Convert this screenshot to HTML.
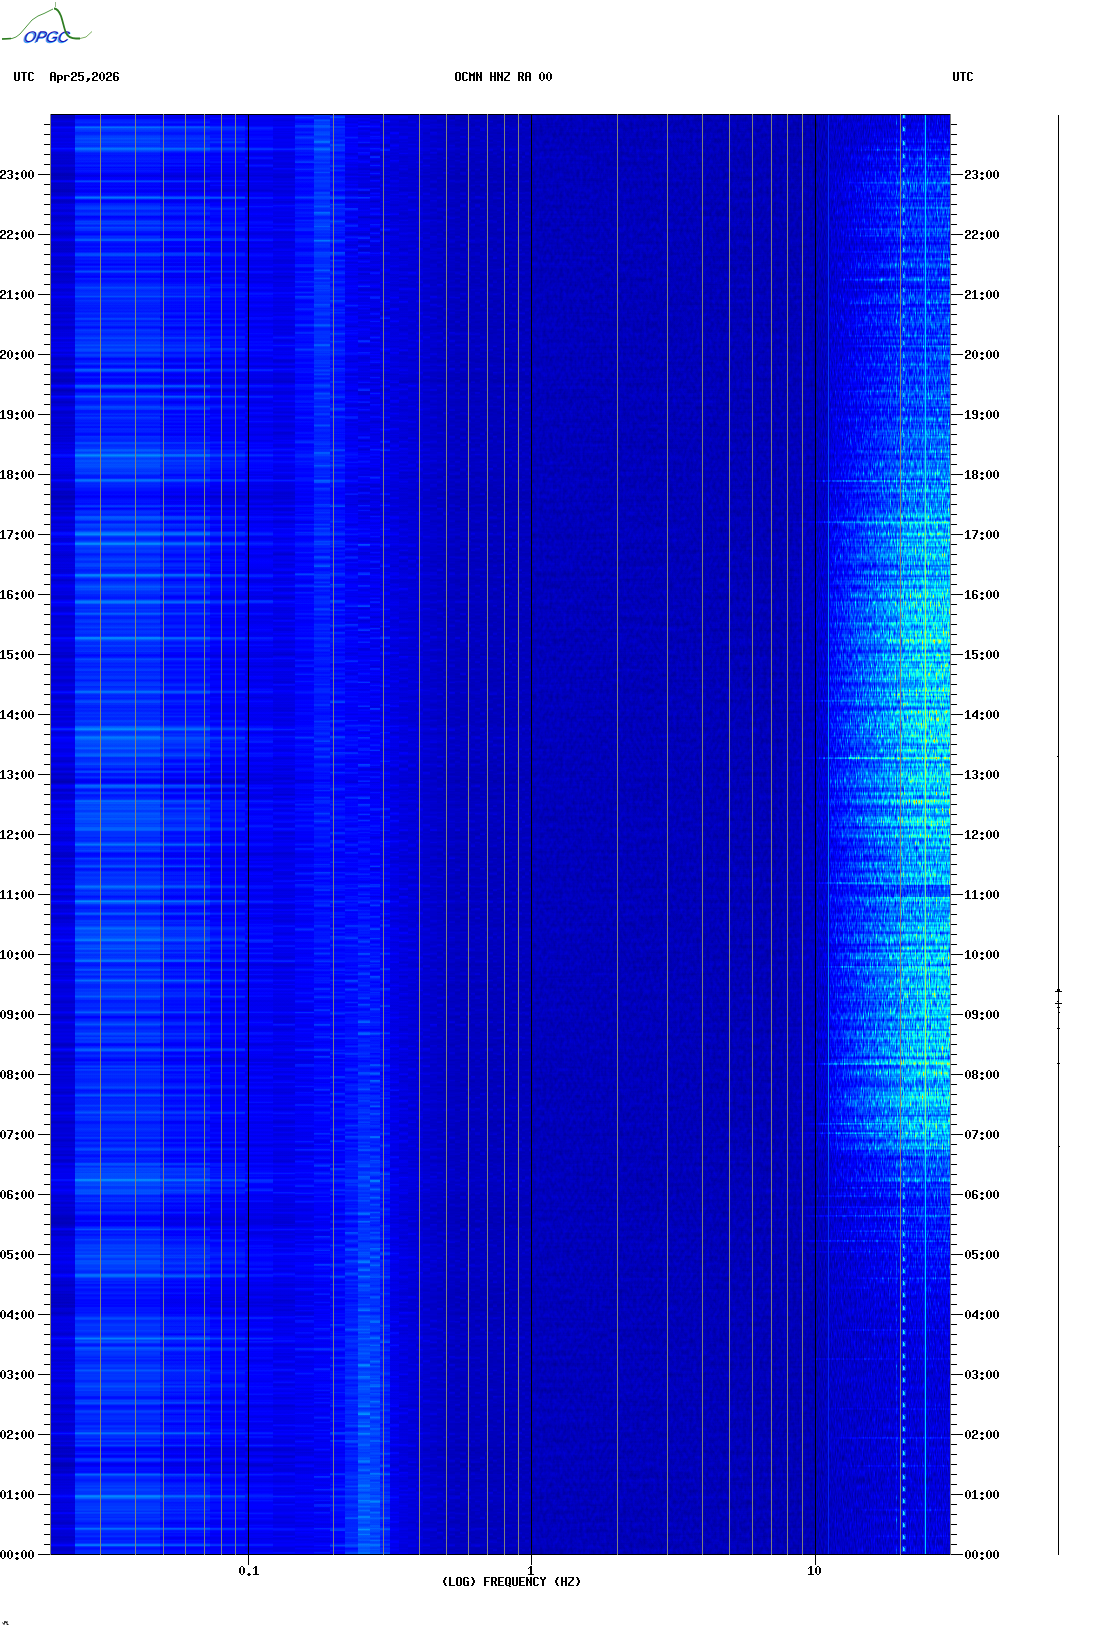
<!DOCTYPE html>
<html><head><meta charset="utf-8"><style>
html,body{margin:0;padding:0;background:#fff;width:1102px;height:1634px;overflow:hidden}
svg{position:absolute;left:0;top:0}
</style></head><body>
<svg width="1102" height="1634" viewBox="0 0 1102 1634" shape-rendering="crispEdges">
<defs><linearGradient id="gl0" x1="0" y1="0" x2="0" y2="1"><stop offset="0.0000" stop-color="#151515"/><stop offset="0.2083" stop-color="#161616"/><stop offset="0.3333" stop-color="#181818"/><stop offset="0.4583" stop-color="#181818"/><stop offset="0.5833" stop-color="#171717"/><stop offset="0.7500" stop-color="#171717"/><stop offset="1.0000" stop-color="#161616"/></linearGradient>
<filter id="fl0" filterUnits="userSpaceOnUse" x="51" y="115" width="24" height="1439" color-interpolation-filters="sRGB"><feTurbulence type="fractalNoise" baseFrequency="0 0.19" numOctaves="2" seed="1" result="ncr"/><feColorMatrix in="ncr" type="matrix" values="1 0 0 0 0 1 0 0 0 0 1 0 0 0 0 0 0 0 0 1" result="nc" /><feComponentTransfer in="nc" result="ncs"><feFuncR type="table" tableValues=".38 .40 .43 .46 .5 .57 .68 .82 1"/><feFuncG type="table" tableValues=".38 .40 .43 .46 .5 .57 .68 .82 1"/><feFuncB type="table" tableValues=".38 .40 .43 .46 .5 .57 .68 .82 1"/></feComponentTransfer><feTurbulence type="fractalNoise" baseFrequency="0 0.25" numOctaves="2" seed="20" result="nor"/><feColorMatrix in="nor" type="matrix" values="1 0 0 0 0 1 0 0 0 0 1 0 0 0 0 0 0 0 0 1" result="no" /><feComponentTransfer in="no" result="nos"><feFuncR type="table" tableValues=".38 .40 .43 .46 .5 .57 .68 .82 1"/><feFuncG type="table" tableValues=".38 .40 .43 .46 .5 .57 .68 .82 1"/><feFuncB type="table" tableValues=".38 .40 .43 .46 .5 .57 .68 .82 1"/></feComponentTransfer><feTurbulence type="fractalNoise" baseFrequency="0 0.025" numOctaves="1" seed="2" result="nlr"/><feColorMatrix in="nlr" type="matrix" values="1 0 0 0 0 1 0 0 0 0 1 0 0 0 0 0 0 0 0 1" result="nl"/><feComposite in="SourceGraphic" in2="ncs" operator="arithmetic" k1="0" k2="1" k3="0.25" k4="-0.1250" result="v1"/><feComposite in="v1" in2="nos" operator="arithmetic" k1="0" k2="1" k3="0.1" k4="-0.0500" result="v2"/><feComposite in="v2" in2="nl" operator="arithmetic" k1="0" k2="1" k3="0.0875" k4="-0.0437" result="v3"/><feComponentTransfer><feFuncR type="table" tableValues="0 0 0 0 .5 1 1 1 .5"/><feFuncG type="table" tableValues="0 0 .5 1 1 1 .5 0 0"/><feFuncB type="table" tableValues=".5 1 1 1 .5 0 0 0 0"/></feComponentTransfer></filter>
<linearGradient id="gl1" x1="0" y1="0" x2="0" y2="1"><stop offset="0.0000" stop-color="#262626"/><stop offset="0.1667" stop-color="#282828"/><stop offset="0.2917" stop-color="#2c2c2c"/><stop offset="0.5000" stop-color="#2d2d2d"/><stop offset="0.6250" stop-color="#2b2b2b"/><stop offset="0.7917" stop-color="#2a2a2a"/><stop offset="1.0000" stop-color="#2a2a2a"/></linearGradient>
<filter id="fl1" filterUnits="userSpaceOnUse" x="75" y="115" width="85" height="1439" color-interpolation-filters="sRGB"><feTurbulence type="fractalNoise" baseFrequency="0 0.19" numOctaves="2" seed="1" result="ncr"/><feColorMatrix in="ncr" type="matrix" values="1 0 0 0 0 1 0 0 0 0 1 0 0 0 0 0 0 0 0 1" result="nc" /><feComponentTransfer in="nc" result="ncs"><feFuncR type="table" tableValues=".38 .40 .43 .46 .5 .57 .68 .82 1"/><feFuncG type="table" tableValues=".38 .40 .43 .46 .5 .57 .68 .82 1"/><feFuncB type="table" tableValues=".38 .40 .43 .46 .5 .57 .68 .82 1"/></feComponentTransfer><feTurbulence type="fractalNoise" baseFrequency="0 0.25" numOctaves="2" seed="21" result="nor"/><feColorMatrix in="nor" type="matrix" values="1 0 0 0 0 1 0 0 0 0 1 0 0 0 0 0 0 0 0 1" result="no" /><feComponentTransfer in="no" result="nos"><feFuncR type="table" tableValues=".38 .40 .43 .46 .5 .57 .68 .82 1"/><feFuncG type="table" tableValues=".38 .40 .43 .46 .5 .57 .68 .82 1"/><feFuncB type="table" tableValues=".38 .40 .43 .46 .5 .57 .68 .82 1"/></feComponentTransfer><feTurbulence type="fractalNoise" baseFrequency="0 0.025" numOctaves="1" seed="2" result="nlr"/><feColorMatrix in="nlr" type="matrix" values="1 0 0 0 0 1 0 0 0 0 1 0 0 0 0 0 0 0 0 1" result="nl"/><feComposite in="SourceGraphic" in2="ncs" operator="arithmetic" k1="0" k2="1" k3="0.42" k4="-0.2100" result="v1"/><feComposite in="v1" in2="nos" operator="arithmetic" k1="0" k2="1" k3="0.1" k4="-0.0500" result="v2"/><feComposite in="v2" in2="nl" operator="arithmetic" k1="0" k2="1" k3="0.147" k4="-0.0735" result="v3"/><feComponentTransfer><feFuncR type="table" tableValues="0 0 0 0 .5 1 1 1 .5"/><feFuncG type="table" tableValues="0 0 .5 1 1 1 .5 0 0"/><feFuncB type="table" tableValues=".5 1 1 1 .5 0 0 0 0"/></feComponentTransfer></filter>
<linearGradient id="gl2" x1="0" y1="0" x2="0" y2="1"><stop offset="0.0000" stop-color="#222222"/><stop offset="0.1667" stop-color="#232323"/><stop offset="0.2917" stop-color="#262626"/><stop offset="0.5000" stop-color="#262626"/><stop offset="0.6250" stop-color="#252525"/><stop offset="1.0000" stop-color="#242424"/></linearGradient>
<filter id="fl2" filterUnits="userSpaceOnUse" x="160" y="115" width="50" height="1439" color-interpolation-filters="sRGB"><feTurbulence type="fractalNoise" baseFrequency="0 0.19" numOctaves="2" seed="1" result="ncr"/><feColorMatrix in="ncr" type="matrix" values="1 0 0 0 0 1 0 0 0 0 1 0 0 0 0 0 0 0 0 1" result="nc" /><feComponentTransfer in="nc" result="ncs"><feFuncR type="table" tableValues=".38 .40 .43 .46 .5 .57 .68 .82 1"/><feFuncG type="table" tableValues=".38 .40 .43 .46 .5 .57 .68 .82 1"/><feFuncB type="table" tableValues=".38 .40 .43 .46 .5 .57 .68 .82 1"/></feComponentTransfer><feTurbulence type="fractalNoise" baseFrequency="0 0.25" numOctaves="2" seed="22" result="nor"/><feColorMatrix in="nor" type="matrix" values="1 0 0 0 0 1 0 0 0 0 1 0 0 0 0 0 0 0 0 1" result="no" /><feComponentTransfer in="no" result="nos"><feFuncR type="table" tableValues=".38 .40 .43 .46 .5 .57 .68 .82 1"/><feFuncG type="table" tableValues=".38 .40 .43 .46 .5 .57 .68 .82 1"/><feFuncB type="table" tableValues=".38 .40 .43 .46 .5 .57 .68 .82 1"/></feComponentTransfer><feTurbulence type="fractalNoise" baseFrequency="0 0.025" numOctaves="1" seed="2" result="nlr"/><feColorMatrix in="nlr" type="matrix" values="1 0 0 0 0 1 0 0 0 0 1 0 0 0 0 0 0 0 0 1" result="nl"/><feComposite in="SourceGraphic" in2="ncs" operator="arithmetic" k1="0" k2="1" k3="0.4" k4="-0.2000" result="v1"/><feComposite in="v1" in2="nos" operator="arithmetic" k1="0" k2="1" k3="0.1" k4="-0.0500" result="v2"/><feComposite in="v2" in2="nl" operator="arithmetic" k1="0" k2="1" k3="0.13999999999999999" k4="-0.0700" result="v3"/><feComponentTransfer><feFuncR type="table" tableValues="0 0 0 0 .5 1 1 1 .5"/><feFuncG type="table" tableValues="0 0 .5 1 1 1 .5 0 0"/><feFuncB type="table" tableValues=".5 1 1 1 .5 0 0 0 0"/></feComponentTransfer></filter>
<linearGradient id="gl3" x1="0" y1="0" x2="0" y2="1"><stop offset="0.0000" stop-color="#202020"/><stop offset="1.0000" stop-color="#202020"/></linearGradient>
<filter id="fl3" filterUnits="userSpaceOnUse" x="210" y="115" width="35" height="1439" color-interpolation-filters="sRGB"><feTurbulence type="fractalNoise" baseFrequency="0 0.19" numOctaves="2" seed="1" result="ncr"/><feColorMatrix in="ncr" type="matrix" values="1 0 0 0 0 1 0 0 0 0 1 0 0 0 0 0 0 0 0 1" result="nc" /><feComponentTransfer in="nc" result="ncs"><feFuncR type="table" tableValues=".38 .40 .43 .46 .5 .57 .68 .82 1"/><feFuncG type="table" tableValues=".38 .40 .43 .46 .5 .57 .68 .82 1"/><feFuncB type="table" tableValues=".38 .40 .43 .46 .5 .57 .68 .82 1"/></feComponentTransfer><feTurbulence type="fractalNoise" baseFrequency="0 0.25" numOctaves="2" seed="23" result="nor"/><feColorMatrix in="nor" type="matrix" values="1 0 0 0 0 1 0 0 0 0 1 0 0 0 0 0 0 0 0 1" result="no" /><feComponentTransfer in="no" result="nos"><feFuncR type="table" tableValues=".38 .40 .43 .46 .5 .57 .68 .82 1"/><feFuncG type="table" tableValues=".38 .40 .43 .46 .5 .57 .68 .82 1"/><feFuncB type="table" tableValues=".38 .40 .43 .46 .5 .57 .68 .82 1"/></feComponentTransfer><feTurbulence type="fractalNoise" baseFrequency="0 0.025" numOctaves="1" seed="2" result="nlr"/><feColorMatrix in="nlr" type="matrix" values="1 0 0 0 0 1 0 0 0 0 1 0 0 0 0 0 0 0 0 1" result="nl"/><feComposite in="SourceGraphic" in2="ncs" operator="arithmetic" k1="0" k2="1" k3="0.3" k4="-0.1500" result="v1"/><feComposite in="v1" in2="nos" operator="arithmetic" k1="0" k2="1" k3="0.12" k4="-0.0600" result="v2"/><feComposite in="v2" in2="nl" operator="arithmetic" k1="0" k2="1" k3="0.105" k4="-0.0525" result="v3"/><feComponentTransfer><feFuncR type="table" tableValues="0 0 0 0 .5 1 1 1 .5"/><feFuncG type="table" tableValues="0 0 .5 1 1 1 .5 0 0"/><feFuncB type="table" tableValues=".5 1 1 1 .5 0 0 0 0"/></feComponentTransfer></filter>
<linearGradient id="gl4" x1="0" y1="0" x2="0" y2="1"><stop offset="0.0000" stop-color="#1d1d1d"/><stop offset="1.0000" stop-color="#1e1e1e"/></linearGradient>
<filter id="fl4" filterUnits="userSpaceOnUse" x="245" y="115" width="28" height="1439" color-interpolation-filters="sRGB"><feTurbulence type="fractalNoise" baseFrequency="0 0.19" numOctaves="2" seed="1" result="ncr"/><feColorMatrix in="ncr" type="matrix" values="1 0 0 0 0 1 0 0 0 0 1 0 0 0 0 0 0 0 0 1" result="nc" /><feComponentTransfer in="nc" result="ncs"><feFuncR type="table" tableValues=".38 .40 .43 .46 .5 .57 .68 .82 1"/><feFuncG type="table" tableValues=".38 .40 .43 .46 .5 .57 .68 .82 1"/><feFuncB type="table" tableValues=".38 .40 .43 .46 .5 .57 .68 .82 1"/></feComponentTransfer><feTurbulence type="fractalNoise" baseFrequency="0 0.25" numOctaves="2" seed="24" result="nor"/><feColorMatrix in="nor" type="matrix" values="1 0 0 0 0 1 0 0 0 0 1 0 0 0 0 0 0 0 0 1" result="no" /><feComponentTransfer in="no" result="nos"><feFuncR type="table" tableValues=".38 .40 .43 .46 .5 .57 .68 .82 1"/><feFuncG type="table" tableValues=".38 .40 .43 .46 .5 .57 .68 .82 1"/><feFuncB type="table" tableValues=".38 .40 .43 .46 .5 .57 .68 .82 1"/></feComponentTransfer><feTurbulence type="fractalNoise" baseFrequency="0 0.025" numOctaves="1" seed="2" result="nlr"/><feColorMatrix in="nlr" type="matrix" values="1 0 0 0 0 1 0 0 0 0 1 0 0 0 0 0 0 0 0 1" result="nl"/><feComposite in="SourceGraphic" in2="ncs" operator="arithmetic" k1="0" k2="1" k3="0.22" k4="-0.1100" result="v1"/><feComposite in="v1" in2="nos" operator="arithmetic" k1="0" k2="1" k3="0.15" k4="-0.0750" result="v2"/><feComposite in="v2" in2="nl" operator="arithmetic" k1="0" k2="1" k3="0.077" k4="-0.0385" result="v3"/><feComponentTransfer><feFuncR type="table" tableValues="0 0 0 0 .5 1 1 1 .5"/><feFuncG type="table" tableValues="0 0 .5 1 1 1 .5 0 0"/><feFuncB type="table" tableValues=".5 1 1 1 .5 0 0 0 0"/></feComponentTransfer></filter>
<linearGradient id="gl5" x1="0" y1="0" x2="0" y2="1"><stop offset="0.0000" stop-color="#1a1a1a"/><stop offset="1.0000" stop-color="#1b1b1b"/></linearGradient>
<filter id="fl5" filterUnits="userSpaceOnUse" x="273" y="115" width="22" height="1439" color-interpolation-filters="sRGB"><feTurbulence type="fractalNoise" baseFrequency="0 0.19" numOctaves="2" seed="1" result="ncr"/><feColorMatrix in="ncr" type="matrix" values="1 0 0 0 0 1 0 0 0 0 1 0 0 0 0 0 0 0 0 1" result="nc" /><feComponentTransfer in="nc" result="ncs"><feFuncR type="table" tableValues=".38 .40 .43 .46 .5 .57 .68 .82 1"/><feFuncG type="table" tableValues=".38 .40 .43 .46 .5 .57 .68 .82 1"/><feFuncB type="table" tableValues=".38 .40 .43 .46 .5 .57 .68 .82 1"/></feComponentTransfer><feTurbulence type="fractalNoise" baseFrequency="0 0.25" numOctaves="2" seed="25" result="nor"/><feColorMatrix in="nor" type="matrix" values="1 0 0 0 0 1 0 0 0 0 1 0 0 0 0 0 0 0 0 1" result="no" /><feComponentTransfer in="no" result="nos"><feFuncR type="table" tableValues=".38 .40 .43 .46 .5 .57 .68 .82 1"/><feFuncG type="table" tableValues=".38 .40 .43 .46 .5 .57 .68 .82 1"/><feFuncB type="table" tableValues=".38 .40 .43 .46 .5 .57 .68 .82 1"/></feComponentTransfer><feTurbulence type="fractalNoise" baseFrequency="0 0.025" numOctaves="1" seed="2" result="nlr"/><feColorMatrix in="nlr" type="matrix" values="1 0 0 0 0 1 0 0 0 0 1 0 0 0 0 0 0 0 0 1" result="nl"/><feComposite in="SourceGraphic" in2="ncs" operator="arithmetic" k1="0" k2="1" k3="0.15" k4="-0.0750" result="v1"/><feComposite in="v1" in2="nos" operator="arithmetic" k1="0" k2="1" k3="0.18" k4="-0.0900" result="v2"/><feComposite in="v2" in2="nl" operator="arithmetic" k1="0" k2="1" k3="0.0525" k4="-0.0262" result="v3"/><feComponentTransfer><feFuncR type="table" tableValues="0 0 0 0 .5 1 1 1 .5"/><feFuncG type="table" tableValues="0 0 .5 1 1 1 .5 0 0"/><feFuncB type="table" tableValues=".5 1 1 1 .5 0 0 0 0"/></feComponentTransfer></filter>
<linearGradient id="gl6" x1="0" y1="0" x2="0" y2="1"><stop offset="0.0000" stop-color="#242424"/><stop offset="0.2500" stop-color="#212121"/><stop offset="0.5000" stop-color="#1f1f1f"/><stop offset="0.7500" stop-color="#1d1d1d"/><stop offset="1.0000" stop-color="#1c1c1c"/></linearGradient>
<filter id="fl6" filterUnits="userSpaceOnUse" x="295" y="115" width="19" height="1439" color-interpolation-filters="sRGB"><feTurbulence type="fractalNoise" baseFrequency="0 0.19" numOctaves="2" seed="1" result="ncr"/><feColorMatrix in="ncr" type="matrix" values="1 0 0 0 0 1 0 0 0 0 1 0 0 0 0 0 0 0 0 1" result="nc" /><feComponentTransfer in="nc" result="ncs"><feFuncR type="table" tableValues=".38 .40 .43 .46 .5 .57 .68 .82 1"/><feFuncG type="table" tableValues=".38 .40 .43 .46 .5 .57 .68 .82 1"/><feFuncB type="table" tableValues=".38 .40 .43 .46 .5 .57 .68 .82 1"/></feComponentTransfer><feTurbulence type="fractalNoise" baseFrequency="0 0.25" numOctaves="2" seed="26" result="nor"/><feColorMatrix in="nor" type="matrix" values="1 0 0 0 0 1 0 0 0 0 1 0 0 0 0 0 0 0 0 1" result="no" /><feComponentTransfer in="no" result="nos"><feFuncR type="table" tableValues=".38 .40 .43 .46 .5 .57 .68 .82 1"/><feFuncG type="table" tableValues=".38 .40 .43 .46 .5 .57 .68 .82 1"/><feFuncB type="table" tableValues=".38 .40 .43 .46 .5 .57 .68 .82 1"/></feComponentTransfer><feTurbulence type="fractalNoise" baseFrequency="0 0.025" numOctaves="1" seed="2" result="nlr"/><feColorMatrix in="nlr" type="matrix" values="1 0 0 0 0 1 0 0 0 0 1 0 0 0 0 0 0 0 0 1" result="nl"/><feComposite in="SourceGraphic" in2="ncs" operator="arithmetic" k1="0" k2="1" k3="0.12" k4="-0.0600" result="v1"/><feComposite in="v1" in2="nos" operator="arithmetic" k1="0" k2="1" k3="0.22" k4="-0.1100" result="v2"/><feComposite in="v2" in2="nl" operator="arithmetic" k1="0" k2="1" k3="0.041999999999999996" k4="-0.0210" result="v3"/><feComponentTransfer><feFuncR type="table" tableValues="0 0 0 0 .5 1 1 1 .5"/><feFuncG type="table" tableValues="0 0 .5 1 1 1 .5 0 0"/><feFuncB type="table" tableValues=".5 1 1 1 .5 0 0 0 0"/></feComponentTransfer></filter>
<linearGradient id="gl7" x1="0" y1="0" x2="0" y2="1"><stop offset="0.0000" stop-color="#2e2e2e"/><stop offset="0.2500" stop-color="#292929"/><stop offset="0.5000" stop-color="#242424"/><stop offset="0.7500" stop-color="#202020"/><stop offset="1.0000" stop-color="#1d1d1d"/></linearGradient>
<filter id="fl7" filterUnits="userSpaceOnUse" x="314" y="115" width="16" height="1439" color-interpolation-filters="sRGB"><feTurbulence type="fractalNoise" baseFrequency="0 0.19" numOctaves="2" seed="1" result="ncr"/><feColorMatrix in="ncr" type="matrix" values="1 0 0 0 0 1 0 0 0 0 1 0 0 0 0 0 0 0 0 1" result="nc" /><feComponentTransfer in="nc" result="ncs"><feFuncR type="table" tableValues=".38 .40 .43 .46 .5 .57 .68 .82 1"/><feFuncG type="table" tableValues=".38 .40 .43 .46 .5 .57 .68 .82 1"/><feFuncB type="table" tableValues=".38 .40 .43 .46 .5 .57 .68 .82 1"/></feComponentTransfer><feTurbulence type="fractalNoise" baseFrequency="0 0.25" numOctaves="2" seed="27" result="nor"/><feColorMatrix in="nor" type="matrix" values="1 0 0 0 0 1 0 0 0 0 1 0 0 0 0 0 0 0 0 1" result="no" /><feComponentTransfer in="no" result="nos"><feFuncR type="table" tableValues=".38 .40 .43 .46 .5 .57 .68 .82 1"/><feFuncG type="table" tableValues=".38 .40 .43 .46 .5 .57 .68 .82 1"/><feFuncB type="table" tableValues=".38 .40 .43 .46 .5 .57 .68 .82 1"/></feComponentTransfer><feTurbulence type="fractalNoise" baseFrequency="0 0.025" numOctaves="1" seed="2" result="nlr"/><feColorMatrix in="nlr" type="matrix" values="1 0 0 0 0 1 0 0 0 0 1 0 0 0 0 0 0 0 0 1" result="nl"/><feComposite in="SourceGraphic" in2="ncs" operator="arithmetic" k1="0" k2="1" k3="0.12" k4="-0.0600" result="v1"/><feComposite in="v1" in2="nos" operator="arithmetic" k1="0" k2="1" k3="0.25" k4="-0.1250" result="v2"/><feComposite in="v2" in2="nl" operator="arithmetic" k1="0" k2="1" k3="0.041999999999999996" k4="-0.0210" result="v3"/><feComponentTransfer><feFuncR type="table" tableValues="0 0 0 0 .5 1 1 1 .5"/><feFuncG type="table" tableValues="0 0 .5 1 1 1 .5 0 0"/><feFuncB type="table" tableValues=".5 1 1 1 .5 0 0 0 0"/></feComponentTransfer></filter>
<linearGradient id="gl8" x1="0" y1="0" x2="0" y2="1"><stop offset="0.0000" stop-color="#262626"/><stop offset="0.2500" stop-color="#242424"/><stop offset="0.5000" stop-color="#212121"/><stop offset="0.7500" stop-color="#212121"/><stop offset="1.0000" stop-color="#212121"/></linearGradient>
<filter id="fl8" filterUnits="userSpaceOnUse" x="330" y="115" width="15" height="1439" color-interpolation-filters="sRGB"><feTurbulence type="fractalNoise" baseFrequency="0 0.19" numOctaves="2" seed="1" result="ncr"/><feColorMatrix in="ncr" type="matrix" values="1 0 0 0 0 1 0 0 0 0 1 0 0 0 0 0 0 0 0 1" result="nc" /><feComponentTransfer in="nc" result="ncs"><feFuncR type="table" tableValues=".38 .40 .43 .46 .5 .57 .68 .82 1"/><feFuncG type="table" tableValues=".38 .40 .43 .46 .5 .57 .68 .82 1"/><feFuncB type="table" tableValues=".38 .40 .43 .46 .5 .57 .68 .82 1"/></feComponentTransfer><feTurbulence type="fractalNoise" baseFrequency="0 0.25" numOctaves="2" seed="28" result="nor"/><feColorMatrix in="nor" type="matrix" values="1 0 0 0 0 1 0 0 0 0 1 0 0 0 0 0 0 0 0 1" result="no" /><feComponentTransfer in="no" result="nos"><feFuncR type="table" tableValues=".38 .40 .43 .46 .5 .57 .68 .82 1"/><feFuncG type="table" tableValues=".38 .40 .43 .46 .5 .57 .68 .82 1"/><feFuncB type="table" tableValues=".38 .40 .43 .46 .5 .57 .68 .82 1"/></feComponentTransfer><feTurbulence type="fractalNoise" baseFrequency="0 0.025" numOctaves="1" seed="2" result="nlr"/><feColorMatrix in="nlr" type="matrix" values="1 0 0 0 0 1 0 0 0 0 1 0 0 0 0 0 0 0 0 1" result="nl"/><feComposite in="SourceGraphic" in2="ncs" operator="arithmetic" k1="0" k2="1" k3="0.12" k4="-0.0600" result="v1"/><feComposite in="v1" in2="nos" operator="arithmetic" k1="0" k2="1" k3="0.25" k4="-0.1250" result="v2"/><feComposite in="v2" in2="nl" operator="arithmetic" k1="0" k2="1" k3="0.041999999999999996" k4="-0.0210" result="v3"/><feComponentTransfer><feFuncR type="table" tableValues="0 0 0 0 .5 1 1 1 .5"/><feFuncG type="table" tableValues="0 0 .5 1 1 1 .5 0 0"/><feFuncB type="table" tableValues=".5 1 1 1 .5 0 0 0 0"/></feComponentTransfer></filter>
<linearGradient id="gl9" x1="0" y1="0" x2="0" y2="1"><stop offset="0.0000" stop-color="#1c1c1c"/><stop offset="0.2500" stop-color="#1d1d1d"/><stop offset="0.5000" stop-color="#202020"/><stop offset="0.7500" stop-color="#262626"/><stop offset="1.0000" stop-color="#2a2a2a"/></linearGradient>
<filter id="fl9" filterUnits="userSpaceOnUse" x="345" y="115" width="13" height="1439" color-interpolation-filters="sRGB"><feTurbulence type="fractalNoise" baseFrequency="0 0.19" numOctaves="2" seed="1" result="ncr"/><feColorMatrix in="ncr" type="matrix" values="1 0 0 0 0 1 0 0 0 0 1 0 0 0 0 0 0 0 0 1" result="nc" /><feComponentTransfer in="nc" result="ncs"><feFuncR type="table" tableValues=".38 .40 .43 .46 .5 .57 .68 .82 1"/><feFuncG type="table" tableValues=".38 .40 .43 .46 .5 .57 .68 .82 1"/><feFuncB type="table" tableValues=".38 .40 .43 .46 .5 .57 .68 .82 1"/></feComponentTransfer><feTurbulence type="fractalNoise" baseFrequency="0 0.25" numOctaves="2" seed="29" result="nor"/><feColorMatrix in="nor" type="matrix" values="1 0 0 0 0 1 0 0 0 0 1 0 0 0 0 0 0 0 0 1" result="no" /><feComponentTransfer in="no" result="nos"><feFuncR type="table" tableValues=".38 .40 .43 .46 .5 .57 .68 .82 1"/><feFuncG type="table" tableValues=".38 .40 .43 .46 .5 .57 .68 .82 1"/><feFuncB type="table" tableValues=".38 .40 .43 .46 .5 .57 .68 .82 1"/></feComponentTransfer><feTurbulence type="fractalNoise" baseFrequency="0 0.025" numOctaves="1" seed="2" result="nlr"/><feColorMatrix in="nlr" type="matrix" values="1 0 0 0 0 1 0 0 0 0 1 0 0 0 0 0 0 0 0 1" result="nl"/><feComposite in="SourceGraphic" in2="ncs" operator="arithmetic" k1="0" k2="1" k3="0.1" k4="-0.0500" result="v1"/><feComposite in="v1" in2="nos" operator="arithmetic" k1="0" k2="1" k3="0.3" k4="-0.1500" result="v2"/><feComposite in="v2" in2="nl" operator="arithmetic" k1="0" k2="1" k3="0.034999999999999996" k4="-0.0175" result="v3"/><feComponentTransfer><feFuncR type="table" tableValues="0 0 0 0 .5 1 1 1 .5"/><feFuncG type="table" tableValues="0 0 .5 1 1 1 .5 0 0"/><feFuncB type="table" tableValues=".5 1 1 1 .5 0 0 0 0"/></feComponentTransfer></filter>
<linearGradient id="gl10" x1="0" y1="0" x2="0" y2="1"><stop offset="0.0000" stop-color="#1a1a1a"/><stop offset="0.2500" stop-color="#1b1b1b"/><stop offset="0.5000" stop-color="#212121"/><stop offset="0.7500" stop-color="#2d2d2d"/><stop offset="1.0000" stop-color="#363636"/></linearGradient>
<filter id="fl10" filterUnits="userSpaceOnUse" x="358" y="115" width="12" height="1439" color-interpolation-filters="sRGB"><feTurbulence type="fractalNoise" baseFrequency="0 0.19" numOctaves="2" seed="1" result="ncr"/><feColorMatrix in="ncr" type="matrix" values="1 0 0 0 0 1 0 0 0 0 1 0 0 0 0 0 0 0 0 1" result="nc" /><feComponentTransfer in="nc" result="ncs"><feFuncR type="table" tableValues=".38 .40 .43 .46 .5 .57 .68 .82 1"/><feFuncG type="table" tableValues=".38 .40 .43 .46 .5 .57 .68 .82 1"/><feFuncB type="table" tableValues=".38 .40 .43 .46 .5 .57 .68 .82 1"/></feComponentTransfer><feTurbulence type="fractalNoise" baseFrequency="0 0.25" numOctaves="2" seed="30" result="nor"/><feColorMatrix in="nor" type="matrix" values="1 0 0 0 0 1 0 0 0 0 1 0 0 0 0 0 0 0 0 1" result="no" /><feComponentTransfer in="no" result="nos"><feFuncR type="table" tableValues=".38 .40 .43 .46 .5 .57 .68 .82 1"/><feFuncG type="table" tableValues=".38 .40 .43 .46 .5 .57 .68 .82 1"/><feFuncB type="table" tableValues=".38 .40 .43 .46 .5 .57 .68 .82 1"/></feComponentTransfer><feTurbulence type="fractalNoise" baseFrequency="0 0.025" numOctaves="1" seed="2" result="nlr"/><feColorMatrix in="nlr" type="matrix" values="1 0 0 0 0 1 0 0 0 0 1 0 0 0 0 0 0 0 0 1" result="nl"/><feComposite in="SourceGraphic" in2="ncs" operator="arithmetic" k1="0" k2="1" k3="0.1" k4="-0.0500" result="v1"/><feComposite in="v1" in2="nos" operator="arithmetic" k1="0" k2="1" k3="0.36" k4="-0.1800" result="v2"/><feComposite in="v2" in2="nl" operator="arithmetic" k1="0" k2="1" k3="0.034999999999999996" k4="-0.0175" result="v3"/><feComponentTransfer><feFuncR type="table" tableValues="0 0 0 0 .5 1 1 1 .5"/><feFuncG type="table" tableValues="0 0 .5 1 1 1 .5 0 0"/><feFuncB type="table" tableValues=".5 1 1 1 .5 0 0 0 0"/></feComponentTransfer></filter>
<linearGradient id="gl11" x1="0" y1="0" x2="0" y2="1"><stop offset="0.0000" stop-color="#1a1a1a"/><stop offset="0.2500" stop-color="#1b1b1b"/><stop offset="0.5000" stop-color="#1f1f1f"/><stop offset="0.7500" stop-color="#2c2c2c"/><stop offset="1.0000" stop-color="#333333"/></linearGradient>
<filter id="fl11" filterUnits="userSpaceOnUse" x="370" y="115" width="10" height="1439" color-interpolation-filters="sRGB"><feTurbulence type="fractalNoise" baseFrequency="0 0.19" numOctaves="2" seed="1" result="ncr"/><feColorMatrix in="ncr" type="matrix" values="1 0 0 0 0 1 0 0 0 0 1 0 0 0 0 0 0 0 0 1" result="nc" /><feComponentTransfer in="nc" result="ncs"><feFuncR type="table" tableValues=".38 .40 .43 .46 .5 .57 .68 .82 1"/><feFuncG type="table" tableValues=".38 .40 .43 .46 .5 .57 .68 .82 1"/><feFuncB type="table" tableValues=".38 .40 .43 .46 .5 .57 .68 .82 1"/></feComponentTransfer><feTurbulence type="fractalNoise" baseFrequency="0 0.25" numOctaves="2" seed="31" result="nor"/><feColorMatrix in="nor" type="matrix" values="1 0 0 0 0 1 0 0 0 0 1 0 0 0 0 0 0 0 0 1" result="no" /><feComponentTransfer in="no" result="nos"><feFuncR type="table" tableValues=".38 .40 .43 .46 .5 .57 .68 .82 1"/><feFuncG type="table" tableValues=".38 .40 .43 .46 .5 .57 .68 .82 1"/><feFuncB type="table" tableValues=".38 .40 .43 .46 .5 .57 .68 .82 1"/></feComponentTransfer><feTurbulence type="fractalNoise" baseFrequency="0 0.025" numOctaves="1" seed="2" result="nlr"/><feColorMatrix in="nlr" type="matrix" values="1 0 0 0 0 1 0 0 0 0 1 0 0 0 0 0 0 0 0 1" result="nl"/><feComposite in="SourceGraphic" in2="ncs" operator="arithmetic" k1="0" k2="1" k3="0.1" k4="-0.0500" result="v1"/><feComposite in="v1" in2="nos" operator="arithmetic" k1="0" k2="1" k3="0.36" k4="-0.1800" result="v2"/><feComposite in="v2" in2="nl" operator="arithmetic" k1="0" k2="1" k3="0.034999999999999996" k4="-0.0175" result="v3"/><feComponentTransfer><feFuncR type="table" tableValues="0 0 0 0 .5 1 1 1 .5"/><feFuncG type="table" tableValues="0 0 .5 1 1 1 .5 0 0"/><feFuncB type="table" tableValues=".5 1 1 1 .5 0 0 0 0"/></feComponentTransfer></filter>
<linearGradient id="gl12" x1="0" y1="0" x2="0" y2="1"><stop offset="0.0000" stop-color="#181818"/><stop offset="0.2500" stop-color="#1a1a1a"/><stop offset="0.5000" stop-color="#1d1d1d"/><stop offset="0.7500" stop-color="#242424"/><stop offset="1.0000" stop-color="#292929"/></linearGradient>
<filter id="fl12" filterUnits="userSpaceOnUse" x="380" y="115" width="10" height="1439" color-interpolation-filters="sRGB"><feTurbulence type="fractalNoise" baseFrequency="0 0.19" numOctaves="2" seed="1" result="ncr"/><feColorMatrix in="ncr" type="matrix" values="1 0 0 0 0 1 0 0 0 0 1 0 0 0 0 0 0 0 0 1" result="nc" /><feComponentTransfer in="nc" result="ncs"><feFuncR type="table" tableValues=".38 .40 .43 .46 .5 .57 .68 .82 1"/><feFuncG type="table" tableValues=".38 .40 .43 .46 .5 .57 .68 .82 1"/><feFuncB type="table" tableValues=".38 .40 .43 .46 .5 .57 .68 .82 1"/></feComponentTransfer><feTurbulence type="fractalNoise" baseFrequency="0 0.25" numOctaves="2" seed="32" result="nor"/><feColorMatrix in="nor" type="matrix" values="1 0 0 0 0 1 0 0 0 0 1 0 0 0 0 0 0 0 0 1" result="no" /><feComponentTransfer in="no" result="nos"><feFuncR type="table" tableValues=".38 .40 .43 .46 .5 .57 .68 .82 1"/><feFuncG type="table" tableValues=".38 .40 .43 .46 .5 .57 .68 .82 1"/><feFuncB type="table" tableValues=".38 .40 .43 .46 .5 .57 .68 .82 1"/></feComponentTransfer><feTurbulence type="fractalNoise" baseFrequency="0 0.025" numOctaves="1" seed="2" result="nlr"/><feColorMatrix in="nlr" type="matrix" values="1 0 0 0 0 1 0 0 0 0 1 0 0 0 0 0 0 0 0 1" result="nl"/><feComposite in="SourceGraphic" in2="ncs" operator="arithmetic" k1="0" k2="1" k3="0.08" k4="-0.0400" result="v1"/><feComposite in="v1" in2="nos" operator="arithmetic" k1="0" k2="1" k3="0.28" k4="-0.1400" result="v2"/><feComposite in="v2" in2="nl" operator="arithmetic" k1="0" k2="1" k3="0.027999999999999997" k4="-0.0140" result="v3"/><feComponentTransfer><feFuncR type="table" tableValues="0 0 0 0 .5 1 1 1 .5"/><feFuncG type="table" tableValues="0 0 .5 1 1 1 .5 0 0"/><feFuncB type="table" tableValues=".5 1 1 1 .5 0 0 0 0"/></feComponentTransfer></filter>
<linearGradient id="gl13" x1="0" y1="0" x2="0" y2="1"><stop offset="0.0000" stop-color="#171717"/><stop offset="1.0000" stop-color="#1b1b1b"/></linearGradient>
<filter id="fl13" filterUnits="userSpaceOnUse" x="390" y="115" width="9" height="1439" color-interpolation-filters="sRGB"><feTurbulence type="fractalNoise" baseFrequency="0 0.19" numOctaves="2" seed="1" result="ncr"/><feColorMatrix in="ncr" type="matrix" values="1 0 0 0 0 1 0 0 0 0 1 0 0 0 0 0 0 0 0 1" result="nc" /><feComponentTransfer in="nc" result="ncs"><feFuncR type="table" tableValues=".38 .40 .43 .46 .5 .57 .68 .82 1"/><feFuncG type="table" tableValues=".38 .40 .43 .46 .5 .57 .68 .82 1"/><feFuncB type="table" tableValues=".38 .40 .43 .46 .5 .57 .68 .82 1"/></feComponentTransfer><feTurbulence type="fractalNoise" baseFrequency="0 0.25" numOctaves="2" seed="33" result="nor"/><feColorMatrix in="nor" type="matrix" values="1 0 0 0 0 1 0 0 0 0 1 0 0 0 0 0 0 0 0 1" result="no" /><feComponentTransfer in="no" result="nos"><feFuncR type="table" tableValues=".38 .40 .43 .46 .5 .57 .68 .82 1"/><feFuncG type="table" tableValues=".38 .40 .43 .46 .5 .57 .68 .82 1"/><feFuncB type="table" tableValues=".38 .40 .43 .46 .5 .57 .68 .82 1"/></feComponentTransfer><feTurbulence type="fractalNoise" baseFrequency="0 0.025" numOctaves="1" seed="2" result="nlr"/><feColorMatrix in="nlr" type="matrix" values="1 0 0 0 0 1 0 0 0 0 1 0 0 0 0 0 0 0 0 1" result="nl"/><feComposite in="SourceGraphic" in2="ncs" operator="arithmetic" k1="0" k2="1" k3="0.06" k4="-0.0300" result="v1"/><feComposite in="v1" in2="nos" operator="arithmetic" k1="0" k2="1" k3="0.2" k4="-0.1000" result="v2"/><feComposite in="v2" in2="nl" operator="arithmetic" k1="0" k2="1" k3="0.020999999999999998" k4="-0.0105" result="v3"/><feComponentTransfer><feFuncR type="table" tableValues="0 0 0 0 .5 1 1 1 .5"/><feFuncG type="table" tableValues="0 0 .5 1 1 1 .5 0 0"/><feFuncB type="table" tableValues=".5 1 1 1 .5 0 0 0 0"/></feComponentTransfer></filter>
<linearGradient id="gl14" x1="0" y1="0" x2="0" y2="1"><stop offset="0.0000" stop-color="#161616"/><stop offset="1.0000" stop-color="#181818"/></linearGradient>
<filter id="fl14" filterUnits="userSpaceOnUse" x="399" y="115" width="9" height="1439" color-interpolation-filters="sRGB"><feTurbulence type="fractalNoise" baseFrequency="0 0.19" numOctaves="2" seed="1" result="ncr"/><feColorMatrix in="ncr" type="matrix" values="1 0 0 0 0 1 0 0 0 0 1 0 0 0 0 0 0 0 0 1" result="nc" /><feComponentTransfer in="nc" result="ncs"><feFuncR type="table" tableValues=".38 .40 .43 .46 .5 .57 .68 .82 1"/><feFuncG type="table" tableValues=".38 .40 .43 .46 .5 .57 .68 .82 1"/><feFuncB type="table" tableValues=".38 .40 .43 .46 .5 .57 .68 .82 1"/></feComponentTransfer><feTurbulence type="fractalNoise" baseFrequency="0 0.25" numOctaves="2" seed="34" result="nor"/><feColorMatrix in="nor" type="matrix" values="1 0 0 0 0 1 0 0 0 0 1 0 0 0 0 0 0 0 0 1" result="no" /><feComponentTransfer in="no" result="nos"><feFuncR type="table" tableValues=".38 .40 .43 .46 .5 .57 .68 .82 1"/><feFuncG type="table" tableValues=".38 .40 .43 .46 .5 .57 .68 .82 1"/><feFuncB type="table" tableValues=".38 .40 .43 .46 .5 .57 .68 .82 1"/></feComponentTransfer><feTurbulence type="fractalNoise" baseFrequency="0 0.025" numOctaves="1" seed="2" result="nlr"/><feColorMatrix in="nlr" type="matrix" values="1 0 0 0 0 1 0 0 0 0 1 0 0 0 0 0 0 0 0 1" result="nl"/><feComposite in="SourceGraphic" in2="ncs" operator="arithmetic" k1="0" k2="1" k3="0.05" k4="-0.0250" result="v1"/><feComposite in="v1" in2="nos" operator="arithmetic" k1="0" k2="1" k3="0.18" k4="-0.0900" result="v2"/><feComposite in="v2" in2="nl" operator="arithmetic" k1="0" k2="1" k3="0.017499999999999998" k4="-0.0087" result="v3"/><feComponentTransfer><feFuncR type="table" tableValues="0 0 0 0 .5 1 1 1 .5"/><feFuncG type="table" tableValues="0 0 .5 1 1 1 .5 0 0"/><feFuncB type="table" tableValues=".5 1 1 1 .5 0 0 0 0"/></feComponentTransfer></filter>
<linearGradient id="gl15" x1="0" y1="0" x2="0" y2="1"><stop offset="0.0000" stop-color="#161616"/><stop offset="1.0000" stop-color="#171717"/></linearGradient>
<filter id="fl15" filterUnits="userSpaceOnUse" x="408" y="115" width="8" height="1439" color-interpolation-filters="sRGB"><feTurbulence type="fractalNoise" baseFrequency="0 0.19" numOctaves="2" seed="1" result="ncr"/><feColorMatrix in="ncr" type="matrix" values="1 0 0 0 0 1 0 0 0 0 1 0 0 0 0 0 0 0 0 1" result="nc" /><feComponentTransfer in="nc" result="ncs"><feFuncR type="table" tableValues=".38 .40 .43 .46 .5 .57 .68 .82 1"/><feFuncG type="table" tableValues=".38 .40 .43 .46 .5 .57 .68 .82 1"/><feFuncB type="table" tableValues=".38 .40 .43 .46 .5 .57 .68 .82 1"/></feComponentTransfer><feTurbulence type="fractalNoise" baseFrequency="0 0.25" numOctaves="2" seed="35" result="nor"/><feColorMatrix in="nor" type="matrix" values="1 0 0 0 0 1 0 0 0 0 1 0 0 0 0 0 0 0 0 1" result="no" /><feComponentTransfer in="no" result="nos"><feFuncR type="table" tableValues=".38 .40 .43 .46 .5 .57 .68 .82 1"/><feFuncG type="table" tableValues=".38 .40 .43 .46 .5 .57 .68 .82 1"/><feFuncB type="table" tableValues=".38 .40 .43 .46 .5 .57 .68 .82 1"/></feComponentTransfer><feTurbulence type="fractalNoise" baseFrequency="0 0.025" numOctaves="1" seed="2" result="nlr"/><feColorMatrix in="nlr" type="matrix" values="1 0 0 0 0 1 0 0 0 0 1 0 0 0 0 0 0 0 0 1" result="nl"/><feComposite in="SourceGraphic" in2="ncs" operator="arithmetic" k1="0" k2="1" k3="0.05" k4="-0.0250" result="v1"/><feComposite in="v1" in2="nos" operator="arithmetic" k1="0" k2="1" k3="0.15" k4="-0.0750" result="v2"/><feComposite in="v2" in2="nl" operator="arithmetic" k1="0" k2="1" k3="0.017499999999999998" k4="-0.0087" result="v3"/><feComponentTransfer><feFuncR type="table" tableValues="0 0 0 0 .5 1 1 1 .5"/><feFuncG type="table" tableValues="0 0 .5 1 1 1 .5 0 0"/><feFuncB type="table" tableValues=".5 1 1 1 .5 0 0 0 0"/></feComponentTransfer></filter>
<linearGradient id="gl16" x1="0" y1="0" x2="0" y2="1"><stop offset="0.0000" stop-color="#161616"/><stop offset="1.0000" stop-color="#161616"/></linearGradient>
<filter id="fl16" filterUnits="userSpaceOnUse" x="416" y="115" width="7" height="1439" color-interpolation-filters="sRGB"><feTurbulence type="fractalNoise" baseFrequency="0 0.19" numOctaves="2" seed="1" result="ncr"/><feColorMatrix in="ncr" type="matrix" values="1 0 0 0 0 1 0 0 0 0 1 0 0 0 0 0 0 0 0 1" result="nc" /><feComponentTransfer in="nc" result="ncs"><feFuncR type="table" tableValues=".38 .40 .43 .46 .5 .57 .68 .82 1"/><feFuncG type="table" tableValues=".38 .40 .43 .46 .5 .57 .68 .82 1"/><feFuncB type="table" tableValues=".38 .40 .43 .46 .5 .57 .68 .82 1"/></feComponentTransfer><feTurbulence type="fractalNoise" baseFrequency="0 0.25" numOctaves="2" seed="36" result="nor"/><feColorMatrix in="nor" type="matrix" values="1 0 0 0 0 1 0 0 0 0 1 0 0 0 0 0 0 0 0 1" result="no" /><feComponentTransfer in="no" result="nos"><feFuncR type="table" tableValues=".38 .40 .43 .46 .5 .57 .68 .82 1"/><feFuncG type="table" tableValues=".38 .40 .43 .46 .5 .57 .68 .82 1"/><feFuncB type="table" tableValues=".38 .40 .43 .46 .5 .57 .68 .82 1"/></feComponentTransfer><feTurbulence type="fractalNoise" baseFrequency="0 0.025" numOctaves="1" seed="2" result="nlr"/><feColorMatrix in="nlr" type="matrix" values="1 0 0 0 0 1 0 0 0 0 1 0 0 0 0 0 0 0 0 1" result="nl"/><feComposite in="SourceGraphic" in2="ncs" operator="arithmetic" k1="0" k2="1" k3="0.05" k4="-0.0250" result="v1"/><feComposite in="v1" in2="nos" operator="arithmetic" k1="0" k2="1" k3="0.14" k4="-0.0700" result="v2"/><feComposite in="v2" in2="nl" operator="arithmetic" k1="0" k2="1" k3="0.017499999999999998" k4="-0.0087" result="v3"/><feComponentTransfer><feFuncR type="table" tableValues="0 0 0 0 .5 1 1 1 .5"/><feFuncG type="table" tableValues="0 0 .5 1 1 1 .5 0 0"/><feFuncB type="table" tableValues=".5 1 1 1 .5 0 0 0 0"/></feComponentTransfer></filter>
<linearGradient id="gl17" x1="0" y1="0" x2="0" y2="1"><stop offset="0.0000" stop-color="#141414"/><stop offset="1.0000" stop-color="#141414"/></linearGradient>
<filter id="fl17" filterUnits="userSpaceOnUse" x="423" y="115" width="7" height="1439" color-interpolation-filters="sRGB"><feTurbulence type="fractalNoise" baseFrequency="0 0.19" numOctaves="2" seed="1" result="ncr"/><feColorMatrix in="ncr" type="matrix" values="1 0 0 0 0 1 0 0 0 0 1 0 0 0 0 0 0 0 0 1" result="nc" /><feComponentTransfer in="nc" result="ncs"><feFuncR type="table" tableValues=".38 .40 .43 .46 .5 .57 .68 .82 1"/><feFuncG type="table" tableValues=".38 .40 .43 .46 .5 .57 .68 .82 1"/><feFuncB type="table" tableValues=".38 .40 .43 .46 .5 .57 .68 .82 1"/></feComponentTransfer><feTurbulence type="fractalNoise" baseFrequency="0 0.25" numOctaves="2" seed="37" result="nor"/><feColorMatrix in="nor" type="matrix" values="1 0 0 0 0 1 0 0 0 0 1 0 0 0 0 0 0 0 0 1" result="no" /><feComponentTransfer in="no" result="nos"><feFuncR type="table" tableValues=".38 .40 .43 .46 .5 .57 .68 .82 1"/><feFuncG type="table" tableValues=".38 .40 .43 .46 .5 .57 .68 .82 1"/><feFuncB type="table" tableValues=".38 .40 .43 .46 .5 .57 .68 .82 1"/></feComponentTransfer><feTurbulence type="fractalNoise" baseFrequency="0 0.025" numOctaves="1" seed="2" result="nlr"/><feColorMatrix in="nlr" type="matrix" values="1 0 0 0 0 1 0 0 0 0 1 0 0 0 0 0 0 0 0 1" result="nl"/><feComposite in="SourceGraphic" in2="ncs" operator="arithmetic" k1="0" k2="1" k3="0.05" k4="-0.0250" result="v1"/><feComposite in="v1" in2="nos" operator="arithmetic" k1="0" k2="1" k3="0.14" k4="-0.0700" result="v2"/><feComposite in="v2" in2="nl" operator="arithmetic" k1="0" k2="1" k3="0.017499999999999998" k4="-0.0087" result="v3"/><feComponentTransfer><feFuncR type="table" tableValues="0 0 0 0 .5 1 1 1 .5"/><feFuncG type="table" tableValues="0 0 .5 1 1 1 .5 0 0"/><feFuncB type="table" tableValues=".5 1 1 1 .5 0 0 0 0"/></feComponentTransfer></filter>
<linearGradient id="gl18" x1="0" y1="0" x2="0" y2="1"><stop offset="0.0000" stop-color="#131313"/><stop offset="1.0000" stop-color="#131313"/></linearGradient>
<filter id="fl18" filterUnits="userSpaceOnUse" x="430" y="115" width="7" height="1439" color-interpolation-filters="sRGB"><feTurbulence type="fractalNoise" baseFrequency="0 0.19" numOctaves="2" seed="1" result="ncr"/><feColorMatrix in="ncr" type="matrix" values="1 0 0 0 0 1 0 0 0 0 1 0 0 0 0 0 0 0 0 1" result="nc" /><feComponentTransfer in="nc" result="ncs"><feFuncR type="table" tableValues=".38 .40 .43 .46 .5 .57 .68 .82 1"/><feFuncG type="table" tableValues=".38 .40 .43 .46 .5 .57 .68 .82 1"/><feFuncB type="table" tableValues=".38 .40 .43 .46 .5 .57 .68 .82 1"/></feComponentTransfer><feTurbulence type="fractalNoise" baseFrequency="0 0.25" numOctaves="2" seed="38" result="nor"/><feColorMatrix in="nor" type="matrix" values="1 0 0 0 0 1 0 0 0 0 1 0 0 0 0 0 0 0 0 1" result="no" /><feComponentTransfer in="no" result="nos"><feFuncR type="table" tableValues=".38 .40 .43 .46 .5 .57 .68 .82 1"/><feFuncG type="table" tableValues=".38 .40 .43 .46 .5 .57 .68 .82 1"/><feFuncB type="table" tableValues=".38 .40 .43 .46 .5 .57 .68 .82 1"/></feComponentTransfer><feTurbulence type="fractalNoise" baseFrequency="0 0.025" numOctaves="1" seed="2" result="nlr"/><feColorMatrix in="nlr" type="matrix" values="1 0 0 0 0 1 0 0 0 0 1 0 0 0 0 0 0 0 0 1" result="nl"/><feComposite in="SourceGraphic" in2="ncs" operator="arithmetic" k1="0" k2="1" k3="0.05" k4="-0.0250" result="v1"/><feComposite in="v1" in2="nos" operator="arithmetic" k1="0" k2="1" k3="0.14" k4="-0.0700" result="v2"/><feComposite in="v2" in2="nl" operator="arithmetic" k1="0" k2="1" k3="0.017499999999999998" k4="-0.0087" result="v3"/><feComponentTransfer><feFuncR type="table" tableValues="0 0 0 0 .5 1 1 1 .5"/><feFuncG type="table" tableValues="0 0 .5 1 1 1 .5 0 0"/><feFuncB type="table" tableValues=".5 1 1 1 .5 0 0 0 0"/></feComponentTransfer></filter>
<linearGradient id="gl19" x1="0" y1="0" x2="0" y2="1"><stop offset="0.0000" stop-color="#121212"/><stop offset="1.0000" stop-color="#121212"/></linearGradient>
<filter id="fl19" filterUnits="userSpaceOnUse" x="437" y="115" width="6" height="1439" color-interpolation-filters="sRGB"><feTurbulence type="fractalNoise" baseFrequency="0 0.19" numOctaves="2" seed="1" result="ncr"/><feColorMatrix in="ncr" type="matrix" values="1 0 0 0 0 1 0 0 0 0 1 0 0 0 0 0 0 0 0 1" result="nc" /><feComponentTransfer in="nc" result="ncs"><feFuncR type="table" tableValues=".38 .40 .43 .46 .5 .57 .68 .82 1"/><feFuncG type="table" tableValues=".38 .40 .43 .46 .5 .57 .68 .82 1"/><feFuncB type="table" tableValues=".38 .40 .43 .46 .5 .57 .68 .82 1"/></feComponentTransfer><feTurbulence type="fractalNoise" baseFrequency="0 0.25" numOctaves="2" seed="39" result="nor"/><feColorMatrix in="nor" type="matrix" values="1 0 0 0 0 1 0 0 0 0 1 0 0 0 0 0 0 0 0 1" result="no" /><feComponentTransfer in="no" result="nos"><feFuncR type="table" tableValues=".38 .40 .43 .46 .5 .57 .68 .82 1"/><feFuncG type="table" tableValues=".38 .40 .43 .46 .5 .57 .68 .82 1"/><feFuncB type="table" tableValues=".38 .40 .43 .46 .5 .57 .68 .82 1"/></feComponentTransfer><feTurbulence type="fractalNoise" baseFrequency="0 0.025" numOctaves="1" seed="2" result="nlr"/><feColorMatrix in="nlr" type="matrix" values="1 0 0 0 0 1 0 0 0 0 1 0 0 0 0 0 0 0 0 1" result="nl"/><feComposite in="SourceGraphic" in2="ncs" operator="arithmetic" k1="0" k2="1" k3="0.05" k4="-0.0250" result="v1"/><feComposite in="v1" in2="nos" operator="arithmetic" k1="0" k2="1" k3="0.14" k4="-0.0700" result="v2"/><feComposite in="v2" in2="nl" operator="arithmetic" k1="0" k2="1" k3="0.017499999999999998" k4="-0.0087" result="v3"/><feComponentTransfer><feFuncR type="table" tableValues="0 0 0 0 .5 1 1 1 .5"/><feFuncG type="table" tableValues="0 0 .5 1 1 1 .5 0 0"/><feFuncB type="table" tableValues=".5 1 1 1 .5 0 0 0 0"/></feComponentTransfer></filter>
<linearGradient id="gl20" x1="0" y1="0" x2="0" y2="1"><stop offset="0.0000" stop-color="#111111"/><stop offset="1.0000" stop-color="#111111"/></linearGradient>
<filter id="fl20" filterUnits="userSpaceOnUse" x="443" y="115" width="6" height="1439" color-interpolation-filters="sRGB"><feTurbulence type="fractalNoise" baseFrequency="0 0.19" numOctaves="2" seed="1" result="ncr"/><feColorMatrix in="ncr" type="matrix" values="1 0 0 0 0 1 0 0 0 0 1 0 0 0 0 0 0 0 0 1" result="nc" /><feComponentTransfer in="nc" result="ncs"><feFuncR type="table" tableValues=".38 .40 .43 .46 .5 .57 .68 .82 1"/><feFuncG type="table" tableValues=".38 .40 .43 .46 .5 .57 .68 .82 1"/><feFuncB type="table" tableValues=".38 .40 .43 .46 .5 .57 .68 .82 1"/></feComponentTransfer><feTurbulence type="fractalNoise" baseFrequency="0 0.25" numOctaves="2" seed="40" result="nor"/><feColorMatrix in="nor" type="matrix" values="1 0 0 0 0 1 0 0 0 0 1 0 0 0 0 0 0 0 0 1" result="no" /><feComponentTransfer in="no" result="nos"><feFuncR type="table" tableValues=".38 .40 .43 .46 .5 .57 .68 .82 1"/><feFuncG type="table" tableValues=".38 .40 .43 .46 .5 .57 .68 .82 1"/><feFuncB type="table" tableValues=".38 .40 .43 .46 .5 .57 .68 .82 1"/></feComponentTransfer><feTurbulence type="fractalNoise" baseFrequency="0 0.025" numOctaves="1" seed="2" result="nlr"/><feColorMatrix in="nlr" type="matrix" values="1 0 0 0 0 1 0 0 0 0 1 0 0 0 0 0 0 0 0 1" result="nl"/><feComposite in="SourceGraphic" in2="ncs" operator="arithmetic" k1="0" k2="1" k3="0.05" k4="-0.0250" result="v1"/><feComposite in="v1" in2="nos" operator="arithmetic" k1="0" k2="1" k3="0.14" k4="-0.0700" result="v2"/><feComposite in="v2" in2="nl" operator="arithmetic" k1="0" k2="1" k3="0.017499999999999998" k4="-0.0087" result="v3"/><feComponentTransfer><feFuncR type="table" tableValues="0 0 0 0 .5 1 1 1 .5"/><feFuncG type="table" tableValues="0 0 .5 1 1 1 .5 0 0"/><feFuncB type="table" tableValues=".5 1 1 1 .5 0 0 0 0"/></feComponentTransfer></filter>
<linearGradient id="gl21" x1="0" y1="0" x2="0" y2="1"><stop offset="0.0000" stop-color="#111111"/><stop offset="1.0000" stop-color="#111111"/></linearGradient>
<filter id="fl21" filterUnits="userSpaceOnUse" x="449" y="115" width="6" height="1439" color-interpolation-filters="sRGB"><feTurbulence type="fractalNoise" baseFrequency="0 0.19" numOctaves="2" seed="1" result="ncr"/><feColorMatrix in="ncr" type="matrix" values="1 0 0 0 0 1 0 0 0 0 1 0 0 0 0 0 0 0 0 1" result="nc" /><feComponentTransfer in="nc" result="ncs"><feFuncR type="table" tableValues=".38 .40 .43 .46 .5 .57 .68 .82 1"/><feFuncG type="table" tableValues=".38 .40 .43 .46 .5 .57 .68 .82 1"/><feFuncB type="table" tableValues=".38 .40 .43 .46 .5 .57 .68 .82 1"/></feComponentTransfer><feTurbulence type="fractalNoise" baseFrequency="0 0.25" numOctaves="2" seed="41" result="nor"/><feColorMatrix in="nor" type="matrix" values="1 0 0 0 0 1 0 0 0 0 1 0 0 0 0 0 0 0 0 1" result="no" /><feComponentTransfer in="no" result="nos"><feFuncR type="table" tableValues=".38 .40 .43 .46 .5 .57 .68 .82 1"/><feFuncG type="table" tableValues=".38 .40 .43 .46 .5 .57 .68 .82 1"/><feFuncB type="table" tableValues=".38 .40 .43 .46 .5 .57 .68 .82 1"/></feComponentTransfer><feTurbulence type="fractalNoise" baseFrequency="0 0.025" numOctaves="1" seed="2" result="nlr"/><feColorMatrix in="nlr" type="matrix" values="1 0 0 0 0 1 0 0 0 0 1 0 0 0 0 0 0 0 0 1" result="nl"/><feComposite in="SourceGraphic" in2="ncs" operator="arithmetic" k1="0" k2="1" k3="0.05" k4="-0.0250" result="v1"/><feComposite in="v1" in2="nos" operator="arithmetic" k1="0" k2="1" k3="0.14" k4="-0.0700" result="v2"/><feComposite in="v2" in2="nl" operator="arithmetic" k1="0" k2="1" k3="0.017499999999999998" k4="-0.0087" result="v3"/><feComponentTransfer><feFuncR type="table" tableValues="0 0 0 0 .5 1 1 1 .5"/><feFuncG type="table" tableValues="0 0 .5 1 1 1 .5 0 0"/><feFuncB type="table" tableValues=".5 1 1 1 .5 0 0 0 0"/></feComponentTransfer></filter>
<linearGradient id="gl22" x1="0" y1="0" x2="0" y2="1"><stop offset="0.0000" stop-color="#101010"/><stop offset="1.0000" stop-color="#101010"/></linearGradient>
<filter id="fl22" filterUnits="userSpaceOnUse" x="455" y="115" width="5" height="1439" color-interpolation-filters="sRGB"><feTurbulence type="fractalNoise" baseFrequency="0 0.19" numOctaves="2" seed="1" result="ncr"/><feColorMatrix in="ncr" type="matrix" values="1 0 0 0 0 1 0 0 0 0 1 0 0 0 0 0 0 0 0 1" result="nc" /><feComponentTransfer in="nc" result="ncs"><feFuncR type="table" tableValues=".38 .40 .43 .46 .5 .57 .68 .82 1"/><feFuncG type="table" tableValues=".38 .40 .43 .46 .5 .57 .68 .82 1"/><feFuncB type="table" tableValues=".38 .40 .43 .46 .5 .57 .68 .82 1"/></feComponentTransfer><feTurbulence type="fractalNoise" baseFrequency="0 0.25" numOctaves="2" seed="42" result="nor"/><feColorMatrix in="nor" type="matrix" values="1 0 0 0 0 1 0 0 0 0 1 0 0 0 0 0 0 0 0 1" result="no" /><feComponentTransfer in="no" result="nos"><feFuncR type="table" tableValues=".38 .40 .43 .46 .5 .57 .68 .82 1"/><feFuncG type="table" tableValues=".38 .40 .43 .46 .5 .57 .68 .82 1"/><feFuncB type="table" tableValues=".38 .40 .43 .46 .5 .57 .68 .82 1"/></feComponentTransfer><feTurbulence type="fractalNoise" baseFrequency="0 0.025" numOctaves="1" seed="2" result="nlr"/><feColorMatrix in="nlr" type="matrix" values="1 0 0 0 0 1 0 0 0 0 1 0 0 0 0 0 0 0 0 1" result="nl"/><feComposite in="SourceGraphic" in2="ncs" operator="arithmetic" k1="0" k2="1" k3="0.05" k4="-0.0250" result="v1"/><feComposite in="v1" in2="nos" operator="arithmetic" k1="0" k2="1" k3="0.14" k4="-0.0700" result="v2"/><feComposite in="v2" in2="nl" operator="arithmetic" k1="0" k2="1" k3="0.017499999999999998" k4="-0.0087" result="v3"/><feComponentTransfer><feFuncR type="table" tableValues="0 0 0 0 .5 1 1 1 .5"/><feFuncG type="table" tableValues="0 0 .5 1 1 1 .5 0 0"/><feFuncB type="table" tableValues=".5 1 1 1 .5 0 0 0 0"/></feComponentTransfer></filter>
<linearGradient id="gl23" x1="0" y1="0" x2="0" y2="1"><stop offset="0.0000" stop-color="#101010"/><stop offset="1.0000" stop-color="#101010"/></linearGradient>
<filter id="fl23" filterUnits="userSpaceOnUse" x="460" y="115" width="6" height="1439" color-interpolation-filters="sRGB"><feTurbulence type="fractalNoise" baseFrequency="0 0.19" numOctaves="2" seed="1" result="ncr"/><feColorMatrix in="ncr" type="matrix" values="1 0 0 0 0 1 0 0 0 0 1 0 0 0 0 0 0 0 0 1" result="nc" /><feComponentTransfer in="nc" result="ncs"><feFuncR type="table" tableValues=".38 .40 .43 .46 .5 .57 .68 .82 1"/><feFuncG type="table" tableValues=".38 .40 .43 .46 .5 .57 .68 .82 1"/><feFuncB type="table" tableValues=".38 .40 .43 .46 .5 .57 .68 .82 1"/></feComponentTransfer><feTurbulence type="fractalNoise" baseFrequency="0 0.25" numOctaves="2" seed="43" result="nor"/><feColorMatrix in="nor" type="matrix" values="1 0 0 0 0 1 0 0 0 0 1 0 0 0 0 0 0 0 0 1" result="no" /><feComponentTransfer in="no" result="nos"><feFuncR type="table" tableValues=".38 .40 .43 .46 .5 .57 .68 .82 1"/><feFuncG type="table" tableValues=".38 .40 .43 .46 .5 .57 .68 .82 1"/><feFuncB type="table" tableValues=".38 .40 .43 .46 .5 .57 .68 .82 1"/></feComponentTransfer><feTurbulence type="fractalNoise" baseFrequency="0 0.025" numOctaves="1" seed="2" result="nlr"/><feColorMatrix in="nlr" type="matrix" values="1 0 0 0 0 1 0 0 0 0 1 0 0 0 0 0 0 0 0 1" result="nl"/><feComposite in="SourceGraphic" in2="ncs" operator="arithmetic" k1="0" k2="1" k3="0.05" k4="-0.0250" result="v1"/><feComposite in="v1" in2="nos" operator="arithmetic" k1="0" k2="1" k3="0.14" k4="-0.0700" result="v2"/><feComposite in="v2" in2="nl" operator="arithmetic" k1="0" k2="1" k3="0.017499999999999998" k4="-0.0087" result="v3"/><feComponentTransfer><feFuncR type="table" tableValues="0 0 0 0 .5 1 1 1 .5"/><feFuncG type="table" tableValues="0 0 .5 1 1 1 .5 0 0"/><feFuncB type="table" tableValues=".5 1 1 1 .5 0 0 0 0"/></feComponentTransfer></filter>
<linearGradient id="gl24" x1="0" y1="0" x2="0" y2="1"><stop offset="0.0000" stop-color="#101010"/><stop offset="1.0000" stop-color="#101010"/></linearGradient>
<filter id="fl24" filterUnits="userSpaceOnUse" x="466" y="115" width="5" height="1439" color-interpolation-filters="sRGB"><feTurbulence type="fractalNoise" baseFrequency="0 0.19" numOctaves="2" seed="1" result="ncr"/><feColorMatrix in="ncr" type="matrix" values="1 0 0 0 0 1 0 0 0 0 1 0 0 0 0 0 0 0 0 1" result="nc" /><feComponentTransfer in="nc" result="ncs"><feFuncR type="table" tableValues=".38 .40 .43 .46 .5 .57 .68 .82 1"/><feFuncG type="table" tableValues=".38 .40 .43 .46 .5 .57 .68 .82 1"/><feFuncB type="table" tableValues=".38 .40 .43 .46 .5 .57 .68 .82 1"/></feComponentTransfer><feTurbulence type="fractalNoise" baseFrequency="0 0.25" numOctaves="2" seed="44" result="nor"/><feColorMatrix in="nor" type="matrix" values="1 0 0 0 0 1 0 0 0 0 1 0 0 0 0 0 0 0 0 1" result="no" /><feComponentTransfer in="no" result="nos"><feFuncR type="table" tableValues=".38 .40 .43 .46 .5 .57 .68 .82 1"/><feFuncG type="table" tableValues=".38 .40 .43 .46 .5 .57 .68 .82 1"/><feFuncB type="table" tableValues=".38 .40 .43 .46 .5 .57 .68 .82 1"/></feComponentTransfer><feTurbulence type="fractalNoise" baseFrequency="0 0.025" numOctaves="1" seed="2" result="nlr"/><feColorMatrix in="nlr" type="matrix" values="1 0 0 0 0 1 0 0 0 0 1 0 0 0 0 0 0 0 0 1" result="nl"/><feComposite in="SourceGraphic" in2="ncs" operator="arithmetic" k1="0" k2="1" k3="0.05" k4="-0.0250" result="v1"/><feComposite in="v1" in2="nos" operator="arithmetic" k1="0" k2="1" k3="0.14" k4="-0.0700" result="v2"/><feComposite in="v2" in2="nl" operator="arithmetic" k1="0" k2="1" k3="0.017499999999999998" k4="-0.0087" result="v3"/><feComponentTransfer><feFuncR type="table" tableValues="0 0 0 0 .5 1 1 1 .5"/><feFuncG type="table" tableValues="0 0 .5 1 1 1 .5 0 0"/><feFuncB type="table" tableValues=".5 1 1 1 .5 0 0 0 0"/></feComponentTransfer></filter>
<linearGradient id="gl25" x1="0" y1="0" x2="0" y2="1"><stop offset="0.0000" stop-color="#101010"/><stop offset="1.0000" stop-color="#101010"/></linearGradient>
<filter id="fl25" filterUnits="userSpaceOnUse" x="471" y="115" width="4" height="1439" color-interpolation-filters="sRGB"><feTurbulence type="fractalNoise" baseFrequency="0 0.19" numOctaves="2" seed="1" result="ncr"/><feColorMatrix in="ncr" type="matrix" values="1 0 0 0 0 1 0 0 0 0 1 0 0 0 0 0 0 0 0 1" result="nc" /><feComponentTransfer in="nc" result="ncs"><feFuncR type="table" tableValues=".38 .40 .43 .46 .5 .57 .68 .82 1"/><feFuncG type="table" tableValues=".38 .40 .43 .46 .5 .57 .68 .82 1"/><feFuncB type="table" tableValues=".38 .40 .43 .46 .5 .57 .68 .82 1"/></feComponentTransfer><feTurbulence type="fractalNoise" baseFrequency="0 0.25" numOctaves="2" seed="45" result="nor"/><feColorMatrix in="nor" type="matrix" values="1 0 0 0 0 1 0 0 0 0 1 0 0 0 0 0 0 0 0 1" result="no" /><feComponentTransfer in="no" result="nos"><feFuncR type="table" tableValues=".38 .40 .43 .46 .5 .57 .68 .82 1"/><feFuncG type="table" tableValues=".38 .40 .43 .46 .5 .57 .68 .82 1"/><feFuncB type="table" tableValues=".38 .40 .43 .46 .5 .57 .68 .82 1"/></feComponentTransfer><feTurbulence type="fractalNoise" baseFrequency="0 0.025" numOctaves="1" seed="2" result="nlr"/><feColorMatrix in="nlr" type="matrix" values="1 0 0 0 0 1 0 0 0 0 1 0 0 0 0 0 0 0 0 1" result="nl"/><feComposite in="SourceGraphic" in2="ncs" operator="arithmetic" k1="0" k2="1" k3="0.05" k4="-0.0250" result="v1"/><feComposite in="v1" in2="nos" operator="arithmetic" k1="0" k2="1" k3="0.14" k4="-0.0700" result="v2"/><feComposite in="v2" in2="nl" operator="arithmetic" k1="0" k2="1" k3="0.017499999999999998" k4="-0.0087" result="v3"/><feComponentTransfer><feFuncR type="table" tableValues="0 0 0 0 .5 1 1 1 .5"/><feFuncG type="table" tableValues="0 0 .5 1 1 1 .5 0 0"/><feFuncB type="table" tableValues=".5 1 1 1 .5 0 0 0 0"/></feComponentTransfer></filter>
<linearGradient id="gl26" x1="0" y1="0" x2="0" y2="1"><stop offset="0.0000" stop-color="#101010"/><stop offset="1.0000" stop-color="#101010"/></linearGradient>
<filter id="fl26" filterUnits="userSpaceOnUse" x="475" y="115" width="5" height="1439" color-interpolation-filters="sRGB"><feTurbulence type="fractalNoise" baseFrequency="0 0.19" numOctaves="2" seed="1" result="ncr"/><feColorMatrix in="ncr" type="matrix" values="1 0 0 0 0 1 0 0 0 0 1 0 0 0 0 0 0 0 0 1" result="nc" /><feComponentTransfer in="nc" result="ncs"><feFuncR type="table" tableValues=".38 .40 .43 .46 .5 .57 .68 .82 1"/><feFuncG type="table" tableValues=".38 .40 .43 .46 .5 .57 .68 .82 1"/><feFuncB type="table" tableValues=".38 .40 .43 .46 .5 .57 .68 .82 1"/></feComponentTransfer><feTurbulence type="fractalNoise" baseFrequency="0 0.25" numOctaves="2" seed="46" result="nor"/><feColorMatrix in="nor" type="matrix" values="1 0 0 0 0 1 0 0 0 0 1 0 0 0 0 0 0 0 0 1" result="no" /><feComponentTransfer in="no" result="nos"><feFuncR type="table" tableValues=".38 .40 .43 .46 .5 .57 .68 .82 1"/><feFuncG type="table" tableValues=".38 .40 .43 .46 .5 .57 .68 .82 1"/><feFuncB type="table" tableValues=".38 .40 .43 .46 .5 .57 .68 .82 1"/></feComponentTransfer><feTurbulence type="fractalNoise" baseFrequency="0 0.025" numOctaves="1" seed="2" result="nlr"/><feColorMatrix in="nlr" type="matrix" values="1 0 0 0 0 1 0 0 0 0 1 0 0 0 0 0 0 0 0 1" result="nl"/><feComposite in="SourceGraphic" in2="ncs" operator="arithmetic" k1="0" k2="1" k3="0.05" k4="-0.0250" result="v1"/><feComposite in="v1" in2="nos" operator="arithmetic" k1="0" k2="1" k3="0.14" k4="-0.0700" result="v2"/><feComposite in="v2" in2="nl" operator="arithmetic" k1="0" k2="1" k3="0.017499999999999998" k4="-0.0087" result="v3"/><feComponentTransfer><feFuncR type="table" tableValues="0 0 0 0 .5 1 1 1 .5"/><feFuncG type="table" tableValues="0 0 .5 1 1 1 .5 0 0"/><feFuncB type="table" tableValues=".5 1 1 1 .5 0 0 0 0"/></feComponentTransfer></filter>
<linearGradient id="gl27" x1="0" y1="0" x2="0" y2="1"><stop offset="0.0000" stop-color="#101010"/><stop offset="1.0000" stop-color="#101010"/></linearGradient>
<filter id="fl27" filterUnits="userSpaceOnUse" x="480" y="115" width="5" height="1439" color-interpolation-filters="sRGB"><feTurbulence type="fractalNoise" baseFrequency="0 0.19" numOctaves="2" seed="1" result="ncr"/><feColorMatrix in="ncr" type="matrix" values="1 0 0 0 0 1 0 0 0 0 1 0 0 0 0 0 0 0 0 1" result="nc" /><feComponentTransfer in="nc" result="ncs"><feFuncR type="table" tableValues=".38 .40 .43 .46 .5 .57 .68 .82 1"/><feFuncG type="table" tableValues=".38 .40 .43 .46 .5 .57 .68 .82 1"/><feFuncB type="table" tableValues=".38 .40 .43 .46 .5 .57 .68 .82 1"/></feComponentTransfer><feTurbulence type="fractalNoise" baseFrequency="0 0.25" numOctaves="2" seed="47" result="nor"/><feColorMatrix in="nor" type="matrix" values="1 0 0 0 0 1 0 0 0 0 1 0 0 0 0 0 0 0 0 1" result="no" /><feComponentTransfer in="no" result="nos"><feFuncR type="table" tableValues=".38 .40 .43 .46 .5 .57 .68 .82 1"/><feFuncG type="table" tableValues=".38 .40 .43 .46 .5 .57 .68 .82 1"/><feFuncB type="table" tableValues=".38 .40 .43 .46 .5 .57 .68 .82 1"/></feComponentTransfer><feTurbulence type="fractalNoise" baseFrequency="0 0.025" numOctaves="1" seed="2" result="nlr"/><feColorMatrix in="nlr" type="matrix" values="1 0 0 0 0 1 0 0 0 0 1 0 0 0 0 0 0 0 0 1" result="nl"/><feComposite in="SourceGraphic" in2="ncs" operator="arithmetic" k1="0" k2="1" k3="0.05" k4="-0.0250" result="v1"/><feComposite in="v1" in2="nos" operator="arithmetic" k1="0" k2="1" k3="0.14" k4="-0.0700" result="v2"/><feComposite in="v2" in2="nl" operator="arithmetic" k1="0" k2="1" k3="0.017499999999999998" k4="-0.0087" result="v3"/><feComponentTransfer><feFuncR type="table" tableValues="0 0 0 0 .5 1 1 1 .5"/><feFuncG type="table" tableValues="0 0 .5 1 1 1 .5 0 0"/><feFuncB type="table" tableValues=".5 1 1 1 .5 0 0 0 0"/></feComponentTransfer></filter>
<linearGradient id="gl28" x1="0" y1="0" x2="0" y2="1"><stop offset="0.0000" stop-color="#0f0f0f"/><stop offset="1.0000" stop-color="#0f0f0f"/></linearGradient>
<filter id="fl28" filterUnits="userSpaceOnUse" x="485" y="115" width="4" height="1439" color-interpolation-filters="sRGB"><feTurbulence type="fractalNoise" baseFrequency="0 0.19" numOctaves="2" seed="1" result="ncr"/><feColorMatrix in="ncr" type="matrix" values="1 0 0 0 0 1 0 0 0 0 1 0 0 0 0 0 0 0 0 1" result="nc" /><feComponentTransfer in="nc" result="ncs"><feFuncR type="table" tableValues=".38 .40 .43 .46 .5 .57 .68 .82 1"/><feFuncG type="table" tableValues=".38 .40 .43 .46 .5 .57 .68 .82 1"/><feFuncB type="table" tableValues=".38 .40 .43 .46 .5 .57 .68 .82 1"/></feComponentTransfer><feTurbulence type="fractalNoise" baseFrequency="0 0.25" numOctaves="2" seed="48" result="nor"/><feColorMatrix in="nor" type="matrix" values="1 0 0 0 0 1 0 0 0 0 1 0 0 0 0 0 0 0 0 1" result="no" /><feComponentTransfer in="no" result="nos"><feFuncR type="table" tableValues=".38 .40 .43 .46 .5 .57 .68 .82 1"/><feFuncG type="table" tableValues=".38 .40 .43 .46 .5 .57 .68 .82 1"/><feFuncB type="table" tableValues=".38 .40 .43 .46 .5 .57 .68 .82 1"/></feComponentTransfer><feTurbulence type="fractalNoise" baseFrequency="0 0.025" numOctaves="1" seed="2" result="nlr"/><feColorMatrix in="nlr" type="matrix" values="1 0 0 0 0 1 0 0 0 0 1 0 0 0 0 0 0 0 0 1" result="nl"/><feComposite in="SourceGraphic" in2="ncs" operator="arithmetic" k1="0" k2="1" k3="0.05" k4="-0.0250" result="v1"/><feComposite in="v1" in2="nos" operator="arithmetic" k1="0" k2="1" k3="0.14" k4="-0.0700" result="v2"/><feComposite in="v2" in2="nl" operator="arithmetic" k1="0" k2="1" k3="0.017499999999999998" k4="-0.0087" result="v3"/><feComponentTransfer><feFuncR type="table" tableValues="0 0 0 0 .5 1 1 1 .5"/><feFuncG type="table" tableValues="0 0 .5 1 1 1 .5 0 0"/><feFuncB type="table" tableValues=".5 1 1 1 .5 0 0 0 0"/></feComponentTransfer></filter>
<linearGradient id="gl29" x1="0" y1="0" x2="0" y2="1"><stop offset="0.0000" stop-color="#0f0f0f"/><stop offset="1.0000" stop-color="#0f0f0f"/></linearGradient>
<filter id="fl29" filterUnits="userSpaceOnUse" x="489" y="115" width="4" height="1439" color-interpolation-filters="sRGB"><feTurbulence type="fractalNoise" baseFrequency="0 0.19" numOctaves="2" seed="1" result="ncr"/><feColorMatrix in="ncr" type="matrix" values="1 0 0 0 0 1 0 0 0 0 1 0 0 0 0 0 0 0 0 1" result="nc" /><feComponentTransfer in="nc" result="ncs"><feFuncR type="table" tableValues=".38 .40 .43 .46 .5 .57 .68 .82 1"/><feFuncG type="table" tableValues=".38 .40 .43 .46 .5 .57 .68 .82 1"/><feFuncB type="table" tableValues=".38 .40 .43 .46 .5 .57 .68 .82 1"/></feComponentTransfer><feTurbulence type="fractalNoise" baseFrequency="0 0.25" numOctaves="2" seed="49" result="nor"/><feColorMatrix in="nor" type="matrix" values="1 0 0 0 0 1 0 0 0 0 1 0 0 0 0 0 0 0 0 1" result="no" /><feComponentTransfer in="no" result="nos"><feFuncR type="table" tableValues=".38 .40 .43 .46 .5 .57 .68 .82 1"/><feFuncG type="table" tableValues=".38 .40 .43 .46 .5 .57 .68 .82 1"/><feFuncB type="table" tableValues=".38 .40 .43 .46 .5 .57 .68 .82 1"/></feComponentTransfer><feTurbulence type="fractalNoise" baseFrequency="0 0.025" numOctaves="1" seed="2" result="nlr"/><feColorMatrix in="nlr" type="matrix" values="1 0 0 0 0 1 0 0 0 0 1 0 0 0 0 0 0 0 0 1" result="nl"/><feComposite in="SourceGraphic" in2="ncs" operator="arithmetic" k1="0" k2="1" k3="0.05" k4="-0.0250" result="v1"/><feComposite in="v1" in2="nos" operator="arithmetic" k1="0" k2="1" k3="0.14" k4="-0.0700" result="v2"/><feComposite in="v2" in2="nl" operator="arithmetic" k1="0" k2="1" k3="0.017499999999999998" k4="-0.0087" result="v3"/><feComponentTransfer><feFuncR type="table" tableValues="0 0 0 0 .5 1 1 1 .5"/><feFuncG type="table" tableValues="0 0 .5 1 1 1 .5 0 0"/><feFuncB type="table" tableValues=".5 1 1 1 .5 0 0 0 0"/></feComponentTransfer></filter>
<linearGradient id="gl30" x1="0" y1="0" x2="0" y2="1"><stop offset="0.0000" stop-color="#0f0f0f"/><stop offset="1.0000" stop-color="#0f0f0f"/></linearGradient>
<filter id="fl30" filterUnits="userSpaceOnUse" x="493" y="115" width="4" height="1439" color-interpolation-filters="sRGB"><feTurbulence type="fractalNoise" baseFrequency="0 0.19" numOctaves="2" seed="1" result="ncr"/><feColorMatrix in="ncr" type="matrix" values="1 0 0 0 0 1 0 0 0 0 1 0 0 0 0 0 0 0 0 1" result="nc" /><feComponentTransfer in="nc" result="ncs"><feFuncR type="table" tableValues=".38 .40 .43 .46 .5 .57 .68 .82 1"/><feFuncG type="table" tableValues=".38 .40 .43 .46 .5 .57 .68 .82 1"/><feFuncB type="table" tableValues=".38 .40 .43 .46 .5 .57 .68 .82 1"/></feComponentTransfer><feTurbulence type="fractalNoise" baseFrequency="0 0.25" numOctaves="2" seed="50" result="nor"/><feColorMatrix in="nor" type="matrix" values="1 0 0 0 0 1 0 0 0 0 1 0 0 0 0 0 0 0 0 1" result="no" /><feComponentTransfer in="no" result="nos"><feFuncR type="table" tableValues=".38 .40 .43 .46 .5 .57 .68 .82 1"/><feFuncG type="table" tableValues=".38 .40 .43 .46 .5 .57 .68 .82 1"/><feFuncB type="table" tableValues=".38 .40 .43 .46 .5 .57 .68 .82 1"/></feComponentTransfer><feTurbulence type="fractalNoise" baseFrequency="0 0.025" numOctaves="1" seed="2" result="nlr"/><feColorMatrix in="nlr" type="matrix" values="1 0 0 0 0 1 0 0 0 0 1 0 0 0 0 0 0 0 0 1" result="nl"/><feComposite in="SourceGraphic" in2="ncs" operator="arithmetic" k1="0" k2="1" k3="0.05" k4="-0.0250" result="v1"/><feComposite in="v1" in2="nos" operator="arithmetic" k1="0" k2="1" k3="0.14" k4="-0.0700" result="v2"/><feComposite in="v2" in2="nl" operator="arithmetic" k1="0" k2="1" k3="0.017499999999999998" k4="-0.0087" result="v3"/><feComponentTransfer><feFuncR type="table" tableValues="0 0 0 0 .5 1 1 1 .5"/><feFuncG type="table" tableValues="0 0 .5 1 1 1 .5 0 0"/><feFuncB type="table" tableValues=".5 1 1 1 .5 0 0 0 0"/></feComponentTransfer></filter>
<linearGradient id="gl31" x1="0" y1="0" x2="0" y2="1"><stop offset="0.0000" stop-color="#0f0f0f"/><stop offset="1.0000" stop-color="#0f0f0f"/></linearGradient>
<filter id="fl31" filterUnits="userSpaceOnUse" x="497" y="115" width="4" height="1439" color-interpolation-filters="sRGB"><feTurbulence type="fractalNoise" baseFrequency="0 0.19" numOctaves="2" seed="1" result="ncr"/><feColorMatrix in="ncr" type="matrix" values="1 0 0 0 0 1 0 0 0 0 1 0 0 0 0 0 0 0 0 1" result="nc" /><feComponentTransfer in="nc" result="ncs"><feFuncR type="table" tableValues=".38 .40 .43 .46 .5 .57 .68 .82 1"/><feFuncG type="table" tableValues=".38 .40 .43 .46 .5 .57 .68 .82 1"/><feFuncB type="table" tableValues=".38 .40 .43 .46 .5 .57 .68 .82 1"/></feComponentTransfer><feTurbulence type="fractalNoise" baseFrequency="0 0.25" numOctaves="2" seed="51" result="nor"/><feColorMatrix in="nor" type="matrix" values="1 0 0 0 0 1 0 0 0 0 1 0 0 0 0 0 0 0 0 1" result="no" /><feComponentTransfer in="no" result="nos"><feFuncR type="table" tableValues=".38 .40 .43 .46 .5 .57 .68 .82 1"/><feFuncG type="table" tableValues=".38 .40 .43 .46 .5 .57 .68 .82 1"/><feFuncB type="table" tableValues=".38 .40 .43 .46 .5 .57 .68 .82 1"/></feComponentTransfer><feTurbulence type="fractalNoise" baseFrequency="0 0.025" numOctaves="1" seed="2" result="nlr"/><feColorMatrix in="nlr" type="matrix" values="1 0 0 0 0 1 0 0 0 0 1 0 0 0 0 0 0 0 0 1" result="nl"/><feComposite in="SourceGraphic" in2="ncs" operator="arithmetic" k1="0" k2="1" k3="0.05" k4="-0.0250" result="v1"/><feComposite in="v1" in2="nos" operator="arithmetic" k1="0" k2="1" k3="0.14" k4="-0.0700" result="v2"/><feComposite in="v2" in2="nl" operator="arithmetic" k1="0" k2="1" k3="0.017499999999999998" k4="-0.0087" result="v3"/><feComponentTransfer><feFuncR type="table" tableValues="0 0 0 0 .5 1 1 1 .5"/><feFuncG type="table" tableValues="0 0 .5 1 1 1 .5 0 0"/><feFuncB type="table" tableValues=".5 1 1 1 .5 0 0 0 0"/></feComponentTransfer></filter>
<linearGradient id="gl32" x1="0" y1="0" x2="0" y2="1"><stop offset="0.0000" stop-color="#0f0f0f"/><stop offset="1.0000" stop-color="#0f0f0f"/></linearGradient>
<filter id="fl32" filterUnits="userSpaceOnUse" x="501" y="115" width="4" height="1439" color-interpolation-filters="sRGB"><feTurbulence type="fractalNoise" baseFrequency="0 0.19" numOctaves="2" seed="1" result="ncr"/><feColorMatrix in="ncr" type="matrix" values="1 0 0 0 0 1 0 0 0 0 1 0 0 0 0 0 0 0 0 1" result="nc" /><feComponentTransfer in="nc" result="ncs"><feFuncR type="table" tableValues=".38 .40 .43 .46 .5 .57 .68 .82 1"/><feFuncG type="table" tableValues=".38 .40 .43 .46 .5 .57 .68 .82 1"/><feFuncB type="table" tableValues=".38 .40 .43 .46 .5 .57 .68 .82 1"/></feComponentTransfer><feTurbulence type="fractalNoise" baseFrequency="0 0.25" numOctaves="2" seed="52" result="nor"/><feColorMatrix in="nor" type="matrix" values="1 0 0 0 0 1 0 0 0 0 1 0 0 0 0 0 0 0 0 1" result="no" /><feComponentTransfer in="no" result="nos"><feFuncR type="table" tableValues=".38 .40 .43 .46 .5 .57 .68 .82 1"/><feFuncG type="table" tableValues=".38 .40 .43 .46 .5 .57 .68 .82 1"/><feFuncB type="table" tableValues=".38 .40 .43 .46 .5 .57 .68 .82 1"/></feComponentTransfer><feTurbulence type="fractalNoise" baseFrequency="0 0.025" numOctaves="1" seed="2" result="nlr"/><feColorMatrix in="nlr" type="matrix" values="1 0 0 0 0 1 0 0 0 0 1 0 0 0 0 0 0 0 0 1" result="nl"/><feComposite in="SourceGraphic" in2="ncs" operator="arithmetic" k1="0" k2="1" k3="0.05" k4="-0.0250" result="v1"/><feComposite in="v1" in2="nos" operator="arithmetic" k1="0" k2="1" k3="0.14" k4="-0.0700" result="v2"/><feComposite in="v2" in2="nl" operator="arithmetic" k1="0" k2="1" k3="0.017499999999999998" k4="-0.0087" result="v3"/><feComponentTransfer><feFuncR type="table" tableValues="0 0 0 0 .5 1 1 1 .5"/><feFuncG type="table" tableValues="0 0 .5 1 1 1 .5 0 0"/><feFuncB type="table" tableValues=".5 1 1 1 .5 0 0 0 0"/></feComponentTransfer></filter>
<linearGradient id="gl33" x1="0" y1="0" x2="0" y2="1"><stop offset="0.0000" stop-color="#0f0f0f"/><stop offset="1.0000" stop-color="#0f0f0f"/></linearGradient>
<filter id="fl33" filterUnits="userSpaceOnUse" x="505" y="115" width="4" height="1439" color-interpolation-filters="sRGB"><feTurbulence type="fractalNoise" baseFrequency="0 0.19" numOctaves="2" seed="1" result="ncr"/><feColorMatrix in="ncr" type="matrix" values="1 0 0 0 0 1 0 0 0 0 1 0 0 0 0 0 0 0 0 1" result="nc" /><feComponentTransfer in="nc" result="ncs"><feFuncR type="table" tableValues=".38 .40 .43 .46 .5 .57 .68 .82 1"/><feFuncG type="table" tableValues=".38 .40 .43 .46 .5 .57 .68 .82 1"/><feFuncB type="table" tableValues=".38 .40 .43 .46 .5 .57 .68 .82 1"/></feComponentTransfer><feTurbulence type="fractalNoise" baseFrequency="0 0.25" numOctaves="2" seed="53" result="nor"/><feColorMatrix in="nor" type="matrix" values="1 0 0 0 0 1 0 0 0 0 1 0 0 0 0 0 0 0 0 1" result="no" /><feComponentTransfer in="no" result="nos"><feFuncR type="table" tableValues=".38 .40 .43 .46 .5 .57 .68 .82 1"/><feFuncG type="table" tableValues=".38 .40 .43 .46 .5 .57 .68 .82 1"/><feFuncB type="table" tableValues=".38 .40 .43 .46 .5 .57 .68 .82 1"/></feComponentTransfer><feTurbulence type="fractalNoise" baseFrequency="0 0.025" numOctaves="1" seed="2" result="nlr"/><feColorMatrix in="nlr" type="matrix" values="1 0 0 0 0 1 0 0 0 0 1 0 0 0 0 0 0 0 0 1" result="nl"/><feComposite in="SourceGraphic" in2="ncs" operator="arithmetic" k1="0" k2="1" k3="0.05" k4="-0.0250" result="v1"/><feComposite in="v1" in2="nos" operator="arithmetic" k1="0" k2="1" k3="0.14" k4="-0.0700" result="v2"/><feComposite in="v2" in2="nl" operator="arithmetic" k1="0" k2="1" k3="0.017499999999999998" k4="-0.0087" result="v3"/><feComponentTransfer><feFuncR type="table" tableValues="0 0 0 0 .5 1 1 1 .5"/><feFuncG type="table" tableValues="0 0 .5 1 1 1 .5 0 0"/><feFuncB type="table" tableValues=".5 1 1 1 .5 0 0 0 0"/></feComponentTransfer></filter>
<linearGradient id="gl34" x1="0" y1="0" x2="0" y2="1"><stop offset="0.0000" stop-color="#0f0f0f"/><stop offset="1.0000" stop-color="#0f0f0f"/></linearGradient>
<filter id="fl34" filterUnits="userSpaceOnUse" x="509" y="115" width="3" height="1439" color-interpolation-filters="sRGB"><feTurbulence type="fractalNoise" baseFrequency="0 0.19" numOctaves="2" seed="1" result="ncr"/><feColorMatrix in="ncr" type="matrix" values="1 0 0 0 0 1 0 0 0 0 1 0 0 0 0 0 0 0 0 1" result="nc" /><feComponentTransfer in="nc" result="ncs"><feFuncR type="table" tableValues=".38 .40 .43 .46 .5 .57 .68 .82 1"/><feFuncG type="table" tableValues=".38 .40 .43 .46 .5 .57 .68 .82 1"/><feFuncB type="table" tableValues=".38 .40 .43 .46 .5 .57 .68 .82 1"/></feComponentTransfer><feTurbulence type="fractalNoise" baseFrequency="0 0.25" numOctaves="2" seed="54" result="nor"/><feColorMatrix in="nor" type="matrix" values="1 0 0 0 0 1 0 0 0 0 1 0 0 0 0 0 0 0 0 1" result="no" /><feComponentTransfer in="no" result="nos"><feFuncR type="table" tableValues=".38 .40 .43 .46 .5 .57 .68 .82 1"/><feFuncG type="table" tableValues=".38 .40 .43 .46 .5 .57 .68 .82 1"/><feFuncB type="table" tableValues=".38 .40 .43 .46 .5 .57 .68 .82 1"/></feComponentTransfer><feTurbulence type="fractalNoise" baseFrequency="0 0.025" numOctaves="1" seed="2" result="nlr"/><feColorMatrix in="nlr" type="matrix" values="1 0 0 0 0 1 0 0 0 0 1 0 0 0 0 0 0 0 0 1" result="nl"/><feComposite in="SourceGraphic" in2="ncs" operator="arithmetic" k1="0" k2="1" k3="0.05" k4="-0.0250" result="v1"/><feComposite in="v1" in2="nos" operator="arithmetic" k1="0" k2="1" k3="0.14" k4="-0.0700" result="v2"/><feComposite in="v2" in2="nl" operator="arithmetic" k1="0" k2="1" k3="0.017499999999999998" k4="-0.0087" result="v3"/><feComponentTransfer><feFuncR type="table" tableValues="0 0 0 0 .5 1 1 1 .5"/><feFuncG type="table" tableValues="0 0 .5 1 1 1 .5 0 0"/><feFuncB type="table" tableValues=".5 1 1 1 .5 0 0 0 0"/></feComponentTransfer></filter>
<linearGradient id="gl35" x1="0" y1="0" x2="0" y2="1"><stop offset="0.0000" stop-color="#0f0f0f"/><stop offset="1.0000" stop-color="#0f0f0f"/></linearGradient>
<filter id="fl35" filterUnits="userSpaceOnUse" x="512" y="115" width="4" height="1439" color-interpolation-filters="sRGB"><feTurbulence type="fractalNoise" baseFrequency="0 0.19" numOctaves="2" seed="1" result="ncr"/><feColorMatrix in="ncr" type="matrix" values="1 0 0 0 0 1 0 0 0 0 1 0 0 0 0 0 0 0 0 1" result="nc" /><feComponentTransfer in="nc" result="ncs"><feFuncR type="table" tableValues=".38 .40 .43 .46 .5 .57 .68 .82 1"/><feFuncG type="table" tableValues=".38 .40 .43 .46 .5 .57 .68 .82 1"/><feFuncB type="table" tableValues=".38 .40 .43 .46 .5 .57 .68 .82 1"/></feComponentTransfer><feTurbulence type="fractalNoise" baseFrequency="0 0.25" numOctaves="2" seed="55" result="nor"/><feColorMatrix in="nor" type="matrix" values="1 0 0 0 0 1 0 0 0 0 1 0 0 0 0 0 0 0 0 1" result="no" /><feComponentTransfer in="no" result="nos"><feFuncR type="table" tableValues=".38 .40 .43 .46 .5 .57 .68 .82 1"/><feFuncG type="table" tableValues=".38 .40 .43 .46 .5 .57 .68 .82 1"/><feFuncB type="table" tableValues=".38 .40 .43 .46 .5 .57 .68 .82 1"/></feComponentTransfer><feTurbulence type="fractalNoise" baseFrequency="0 0.025" numOctaves="1" seed="2" result="nlr"/><feColorMatrix in="nlr" type="matrix" values="1 0 0 0 0 1 0 0 0 0 1 0 0 0 0 0 0 0 0 1" result="nl"/><feComposite in="SourceGraphic" in2="ncs" operator="arithmetic" k1="0" k2="1" k3="0.05" k4="-0.0250" result="v1"/><feComposite in="v1" in2="nos" operator="arithmetic" k1="0" k2="1" k3="0.14" k4="-0.0700" result="v2"/><feComposite in="v2" in2="nl" operator="arithmetic" k1="0" k2="1" k3="0.017499999999999998" k4="-0.0087" result="v3"/><feComponentTransfer><feFuncR type="table" tableValues="0 0 0 0 .5 1 1 1 .5"/><feFuncG type="table" tableValues="0 0 .5 1 1 1 .5 0 0"/><feFuncB type="table" tableValues=".5 1 1 1 .5 0 0 0 0"/></feComponentTransfer></filter>
<linearGradient id="gl36" x1="0" y1="0" x2="0" y2="1"><stop offset="0.0000" stop-color="#0f0f0f"/><stop offset="1.0000" stop-color="#0f0f0f"/></linearGradient>
<filter id="fl36" filterUnits="userSpaceOnUse" x="516" y="115" width="3" height="1439" color-interpolation-filters="sRGB"><feTurbulence type="fractalNoise" baseFrequency="0 0.19" numOctaves="2" seed="1" result="ncr"/><feColorMatrix in="ncr" type="matrix" values="1 0 0 0 0 1 0 0 0 0 1 0 0 0 0 0 0 0 0 1" result="nc" /><feComponentTransfer in="nc" result="ncs"><feFuncR type="table" tableValues=".38 .40 .43 .46 .5 .57 .68 .82 1"/><feFuncG type="table" tableValues=".38 .40 .43 .46 .5 .57 .68 .82 1"/><feFuncB type="table" tableValues=".38 .40 .43 .46 .5 .57 .68 .82 1"/></feComponentTransfer><feTurbulence type="fractalNoise" baseFrequency="0 0.25" numOctaves="2" seed="56" result="nor"/><feColorMatrix in="nor" type="matrix" values="1 0 0 0 0 1 0 0 0 0 1 0 0 0 0 0 0 0 0 1" result="no" /><feComponentTransfer in="no" result="nos"><feFuncR type="table" tableValues=".38 .40 .43 .46 .5 .57 .68 .82 1"/><feFuncG type="table" tableValues=".38 .40 .43 .46 .5 .57 .68 .82 1"/><feFuncB type="table" tableValues=".38 .40 .43 .46 .5 .57 .68 .82 1"/></feComponentTransfer><feTurbulence type="fractalNoise" baseFrequency="0 0.025" numOctaves="1" seed="2" result="nlr"/><feColorMatrix in="nlr" type="matrix" values="1 0 0 0 0 1 0 0 0 0 1 0 0 0 0 0 0 0 0 1" result="nl"/><feComposite in="SourceGraphic" in2="ncs" operator="arithmetic" k1="0" k2="1" k3="0.05" k4="-0.0250" result="v1"/><feComposite in="v1" in2="nos" operator="arithmetic" k1="0" k2="1" k3="0.14" k4="-0.0700" result="v2"/><feComposite in="v2" in2="nl" operator="arithmetic" k1="0" k2="1" k3="0.017499999999999998" k4="-0.0087" result="v3"/><feComponentTransfer><feFuncR type="table" tableValues="0 0 0 0 .5 1 1 1 .5"/><feFuncG type="table" tableValues="0 0 .5 1 1 1 .5 0 0"/><feFuncB type="table" tableValues=".5 1 1 1 .5 0 0 0 0"/></feComponentTransfer></filter>
<linearGradient id="gl37" x1="0" y1="0" x2="0" y2="1"><stop offset="0.0000" stop-color="#0f0f0f"/><stop offset="1.0000" stop-color="#0f0f0f"/></linearGradient>
<filter id="fl37" filterUnits="userSpaceOnUse" x="519" y="115" width="3" height="1439" color-interpolation-filters="sRGB"><feTurbulence type="fractalNoise" baseFrequency="0 0.19" numOctaves="2" seed="1" result="ncr"/><feColorMatrix in="ncr" type="matrix" values="1 0 0 0 0 1 0 0 0 0 1 0 0 0 0 0 0 0 0 1" result="nc" /><feComponentTransfer in="nc" result="ncs"><feFuncR type="table" tableValues=".38 .40 .43 .46 .5 .57 .68 .82 1"/><feFuncG type="table" tableValues=".38 .40 .43 .46 .5 .57 .68 .82 1"/><feFuncB type="table" tableValues=".38 .40 .43 .46 .5 .57 .68 .82 1"/></feComponentTransfer><feTurbulence type="fractalNoise" baseFrequency="0 0.25" numOctaves="2" seed="57" result="nor"/><feColorMatrix in="nor" type="matrix" values="1 0 0 0 0 1 0 0 0 0 1 0 0 0 0 0 0 0 0 1" result="no" /><feComponentTransfer in="no" result="nos"><feFuncR type="table" tableValues=".38 .40 .43 .46 .5 .57 .68 .82 1"/><feFuncG type="table" tableValues=".38 .40 .43 .46 .5 .57 .68 .82 1"/><feFuncB type="table" tableValues=".38 .40 .43 .46 .5 .57 .68 .82 1"/></feComponentTransfer><feTurbulence type="fractalNoise" baseFrequency="0 0.025" numOctaves="1" seed="2" result="nlr"/><feColorMatrix in="nlr" type="matrix" values="1 0 0 0 0 1 0 0 0 0 1 0 0 0 0 0 0 0 0 1" result="nl"/><feComposite in="SourceGraphic" in2="ncs" operator="arithmetic" k1="0" k2="1" k3="0.05" k4="-0.0250" result="v1"/><feComposite in="v1" in2="nos" operator="arithmetic" k1="0" k2="1" k3="0.14" k4="-0.0700" result="v2"/><feComposite in="v2" in2="nl" operator="arithmetic" k1="0" k2="1" k3="0.017499999999999998" k4="-0.0087" result="v3"/><feComponentTransfer><feFuncR type="table" tableValues="0 0 0 0 .5 1 1 1 .5"/><feFuncG type="table" tableValues="0 0 .5 1 1 1 .5 0 0"/><feFuncB type="table" tableValues=".5 1 1 1 .5 0 0 0 0"/></feComponentTransfer></filter>
<linearGradient id="gl38" x1="0" y1="0" x2="0" y2="1"><stop offset="0.0000" stop-color="#0f0f0f"/><stop offset="1.0000" stop-color="#0f0f0f"/></linearGradient>
<filter id="fl38" filterUnits="userSpaceOnUse" x="522" y="115" width="3" height="1439" color-interpolation-filters="sRGB"><feTurbulence type="fractalNoise" baseFrequency="0 0.19" numOctaves="2" seed="1" result="ncr"/><feColorMatrix in="ncr" type="matrix" values="1 0 0 0 0 1 0 0 0 0 1 0 0 0 0 0 0 0 0 1" result="nc" /><feComponentTransfer in="nc" result="ncs"><feFuncR type="table" tableValues=".38 .40 .43 .46 .5 .57 .68 .82 1"/><feFuncG type="table" tableValues=".38 .40 .43 .46 .5 .57 .68 .82 1"/><feFuncB type="table" tableValues=".38 .40 .43 .46 .5 .57 .68 .82 1"/></feComponentTransfer><feTurbulence type="fractalNoise" baseFrequency="0 0.25" numOctaves="2" seed="58" result="nor"/><feColorMatrix in="nor" type="matrix" values="1 0 0 0 0 1 0 0 0 0 1 0 0 0 0 0 0 0 0 1" result="no" /><feComponentTransfer in="no" result="nos"><feFuncR type="table" tableValues=".38 .40 .43 .46 .5 .57 .68 .82 1"/><feFuncG type="table" tableValues=".38 .40 .43 .46 .5 .57 .68 .82 1"/><feFuncB type="table" tableValues=".38 .40 .43 .46 .5 .57 .68 .82 1"/></feComponentTransfer><feTurbulence type="fractalNoise" baseFrequency="0 0.025" numOctaves="1" seed="2" result="nlr"/><feColorMatrix in="nlr" type="matrix" values="1 0 0 0 0 1 0 0 0 0 1 0 0 0 0 0 0 0 0 1" result="nl"/><feComposite in="SourceGraphic" in2="ncs" operator="arithmetic" k1="0" k2="1" k3="0.05" k4="-0.0250" result="v1"/><feComposite in="v1" in2="nos" operator="arithmetic" k1="0" k2="1" k3="0.14" k4="-0.0700" result="v2"/><feComposite in="v2" in2="nl" operator="arithmetic" k1="0" k2="1" k3="0.017499999999999998" k4="-0.0087" result="v3"/><feComponentTransfer><feFuncR type="table" tableValues="0 0 0 0 .5 1 1 1 .5"/><feFuncG type="table" tableValues="0 0 .5 1 1 1 .5 0 0"/><feFuncB type="table" tableValues=".5 1 1 1 .5 0 0 0 0"/></feComponentTransfer></filter>
<linearGradient id="gl39" x1="0" y1="0" x2="0" y2="1"><stop offset="0.0000" stop-color="#0f0f0f"/><stop offset="1.0000" stop-color="#0f0f0f"/></linearGradient>
<filter id="fl39" filterUnits="userSpaceOnUse" x="525" y="115" width="4" height="1439" color-interpolation-filters="sRGB"><feTurbulence type="fractalNoise" baseFrequency="0 0.19" numOctaves="2" seed="1" result="ncr"/><feColorMatrix in="ncr" type="matrix" values="1 0 0 0 0 1 0 0 0 0 1 0 0 0 0 0 0 0 0 1" result="nc" /><feComponentTransfer in="nc" result="ncs"><feFuncR type="table" tableValues=".38 .40 .43 .46 .5 .57 .68 .82 1"/><feFuncG type="table" tableValues=".38 .40 .43 .46 .5 .57 .68 .82 1"/><feFuncB type="table" tableValues=".38 .40 .43 .46 .5 .57 .68 .82 1"/></feComponentTransfer><feTurbulence type="fractalNoise" baseFrequency="0 0.25" numOctaves="2" seed="59" result="nor"/><feColorMatrix in="nor" type="matrix" values="1 0 0 0 0 1 0 0 0 0 1 0 0 0 0 0 0 0 0 1" result="no" /><feComponentTransfer in="no" result="nos"><feFuncR type="table" tableValues=".38 .40 .43 .46 .5 .57 .68 .82 1"/><feFuncG type="table" tableValues=".38 .40 .43 .46 .5 .57 .68 .82 1"/><feFuncB type="table" tableValues=".38 .40 .43 .46 .5 .57 .68 .82 1"/></feComponentTransfer><feTurbulence type="fractalNoise" baseFrequency="0 0.025" numOctaves="1" seed="2" result="nlr"/><feColorMatrix in="nlr" type="matrix" values="1 0 0 0 0 1 0 0 0 0 1 0 0 0 0 0 0 0 0 1" result="nl"/><feComposite in="SourceGraphic" in2="ncs" operator="arithmetic" k1="0" k2="1" k3="0.05" k4="-0.0250" result="v1"/><feComposite in="v1" in2="nos" operator="arithmetic" k1="0" k2="1" k3="0.14" k4="-0.0700" result="v2"/><feComposite in="v2" in2="nl" operator="arithmetic" k1="0" k2="1" k3="0.017499999999999998" k4="-0.0087" result="v3"/><feComponentTransfer><feFuncR type="table" tableValues="0 0 0 0 .5 1 1 1 .5"/><feFuncG type="table" tableValues="0 0 .5 1 1 1 .5 0 0"/><feFuncB type="table" tableValues=".5 1 1 1 .5 0 0 0 0"/></feComponentTransfer></filter>
<linearGradient id="gl40" x1="0" y1="0" x2="0" y2="1"><stop offset="0.0000" stop-color="#0f0f0f"/><stop offset="1.0000" stop-color="#0f0f0f"/></linearGradient>
<filter id="fl40" filterUnits="userSpaceOnUse" x="529" y="115" width="3" height="1439" color-interpolation-filters="sRGB"><feTurbulence type="fractalNoise" baseFrequency="0 0.19" numOctaves="2" seed="1" result="ncr"/><feColorMatrix in="ncr" type="matrix" values="1 0 0 0 0 1 0 0 0 0 1 0 0 0 0 0 0 0 0 1" result="nc" /><feComponentTransfer in="nc" result="ncs"><feFuncR type="table" tableValues=".38 .40 .43 .46 .5 .57 .68 .82 1"/><feFuncG type="table" tableValues=".38 .40 .43 .46 .5 .57 .68 .82 1"/><feFuncB type="table" tableValues=".38 .40 .43 .46 .5 .57 .68 .82 1"/></feComponentTransfer><feTurbulence type="fractalNoise" baseFrequency="0 0.25" numOctaves="2" seed="60" result="nor"/><feColorMatrix in="nor" type="matrix" values="1 0 0 0 0 1 0 0 0 0 1 0 0 0 0 0 0 0 0 1" result="no" /><feComponentTransfer in="no" result="nos"><feFuncR type="table" tableValues=".38 .40 .43 .46 .5 .57 .68 .82 1"/><feFuncG type="table" tableValues=".38 .40 .43 .46 .5 .57 .68 .82 1"/><feFuncB type="table" tableValues=".38 .40 .43 .46 .5 .57 .68 .82 1"/></feComponentTransfer><feTurbulence type="fractalNoise" baseFrequency="0 0.025" numOctaves="1" seed="2" result="nlr"/><feColorMatrix in="nlr" type="matrix" values="1 0 0 0 0 1 0 0 0 0 1 0 0 0 0 0 0 0 0 1" result="nl"/><feComposite in="SourceGraphic" in2="ncs" operator="arithmetic" k1="0" k2="1" k3="0.05" k4="-0.0250" result="v1"/><feComposite in="v1" in2="nos" operator="arithmetic" k1="0" k2="1" k3="0.14" k4="-0.0700" result="v2"/><feComposite in="v2" in2="nl" operator="arithmetic" k1="0" k2="1" k3="0.017499999999999998" k4="-0.0087" result="v3"/><feComponentTransfer><feFuncR type="table" tableValues="0 0 0 0 .5 1 1 1 .5"/><feFuncG type="table" tableValues="0 0 .5 1 1 1 .5 0 0"/><feFuncB type="table" tableValues=".5 1 1 1 .5 0 0 0 0"/></feComponentTransfer></filter>
<linearGradient id="gm" x1="532" y1="0" x2="815" y2="0" gradientUnits="userSpaceOnUse"><stop offset="0" stop-color="#0f0f0f"/><stop offset="1" stop-color="#0e0e0e"/></linearGradient>
<filter id="fm" filterUnits="userSpaceOnUse" x="532" y="115" width="283" height="1439" color-interpolation-filters="sRGB"><feTurbulence type="fractalNoise" baseFrequency="0.3 0.18" numOctaves="2" seed="5" result="n1r"/><feColorMatrix in="n1r" type="matrix" values="1 0 0 0 0 1 0 0 0 0 1 0 0 0 0 0 0 0 0 1" result="n1"/><feTurbulence type="fractalNoise" baseFrequency="0.01 0.3" numOctaves="2" seed="1" result="ncr"/><feColorMatrix in="ncr" type="matrix" values="1 0 0 0 0 1 0 0 0 0 1 0 0 0 0 0 0 0 0 1" result="nc"/><feComposite in="SourceGraphic" in2="n1" operator="arithmetic" k1="0" k2="1" k3="0.065" k4="-0.0325" result="v1"/><feComposite in="v1" in2="nc" operator="arithmetic" k1="0" k2="1" k3="0.03" k4="-0.0150" result="v2"/><feComponentTransfer><feFuncR type="table" tableValues="0 0 0 0 .5 1 1 1 .5"/><feFuncG type="table" tableValues="0 0 .5 1 1 1 .5 0 0"/><feFuncB type="table" tableValues=".5 1 1 1 .5 0 0 0 0"/></feComponentTransfer></filter>
<linearGradient id="gmd" x1="0" y1="0" x2="0" y2="1"><stop offset="0.0000" stop-color="#0e0e0e"/><stop offset="0.0833" stop-color="#0f0f0f"/><stop offset="0.1667" stop-color="#101010"/><stop offset="0.2083" stop-color="#101010"/><stop offset="0.2500" stop-color="#111111"/><stop offset="0.2917" stop-color="#121212"/><stop offset="0.3333" stop-color="#131313"/><stop offset="0.4167" stop-color="#131313"/><stop offset="0.5000" stop-color="#131313"/><stop offset="0.5833" stop-color="#131313"/><stop offset="0.6667" stop-color="#131313"/><stop offset="0.7083" stop-color="#121212"/><stop offset="0.7500" stop-color="#101010"/><stop offset="0.7917" stop-color="#0f0f0f"/><stop offset="0.8333" stop-color="#0e0e0e"/><stop offset="0.9167" stop-color="#0e0e0e"/><stop offset="1.0000" stop-color="#0e0e0e"/></linearGradient>
<linearGradient id="gmdm" x1="780" y1="0" x2="815" y2="0" gradientUnits="userSpaceOnUse"><stop offset="0.000" stop-color="#fff" stop-opacity="0.000"/><stop offset="1.000" stop-color="#fff" stop-opacity="1.000"/></linearGradient>
<mask id="mmd" maskUnits="userSpaceOnUse" x="780" y="115" width="35" height="1439"><rect x="780" y="115" width="35" height="1439" fill="url(#gmdm)"/></mask>
<linearGradient id="gs0" x1="790" y1="0" x2="815" y2="0" gradientUnits="userSpaceOnUse"><stop offset="0.000" stop-color="#151515" stop-opacity="0.000"/><stop offset="1.000" stop-color="#1a1a1a" stop-opacity="1.000"/></linearGradient>
<linearGradient id="gs1" x1="780" y1="0" x2="815" y2="0" gradientUnits="userSpaceOnUse"><stop offset="0.000" stop-color="#151515" stop-opacity="0.000"/><stop offset="1.000" stop-color="#1a1a1a" stop-opacity="1.000"/></linearGradient>
<linearGradient id="gs2" x1="785" y1="0" x2="815" y2="0" gradientUnits="userSpaceOnUse"><stop offset="0.000" stop-color="#151515" stop-opacity="0.000"/><stop offset="1.000" stop-color="#1a1a1a" stop-opacity="1.000"/></linearGradient>
<linearGradient id="gs3" x1="775" y1="0" x2="815" y2="0" gradientUnits="userSpaceOnUse"><stop offset="0.000" stop-color="#151515" stop-opacity="0.000"/><stop offset="1.000" stop-color="#1a1a1a" stop-opacity="1.000"/></linearGradient>
<linearGradient id="gs4" x1="780" y1="0" x2="815" y2="0" gradientUnits="userSpaceOnUse"><stop offset="0.000" stop-color="#151515" stop-opacity="0.000"/><stop offset="1.000" stop-color="#1a1a1a" stop-opacity="1.000"/></linearGradient>
<linearGradient id="gs5" x1="790" y1="0" x2="815" y2="0" gradientUnits="userSpaceOnUse"><stop offset="0.000" stop-color="#151515" stop-opacity="0.000"/><stop offset="1.000" stop-color="#1a1a1a" stop-opacity="1.000"/></linearGradient>
<linearGradient id="gs7" x1="790" y1="0" x2="815" y2="0" gradientUnits="userSpaceOnUse"><stop offset="0.000" stop-color="#151515" stop-opacity="0.000"/><stop offset="1.000" stop-color="#1a1a1a" stop-opacity="1.000"/></linearGradient>
<linearGradient id="gs8" x1="800" y1="0" x2="815" y2="0" gradientUnits="userSpaceOnUse"><stop offset="0.000" stop-color="#151515" stop-opacity="0.000"/><stop offset="1.000" stop-color="#1a1a1a" stop-opacity="1.000"/></linearGradient>
<linearGradient id="gs9" x1="800" y1="0" x2="815" y2="0" gradientUnits="userSpaceOnUse"><stop offset="0.000" stop-color="#151515" stop-opacity="0.000"/><stop offset="1.000" stop-color="#1a1a1a" stop-opacity="1.000"/></linearGradient>
<linearGradient id="gs10" x1="800" y1="0" x2="815" y2="0" gradientUnits="userSpaceOnUse"><stop offset="0.000" stop-color="#151515" stop-opacity="0.000"/><stop offset="1.000" stop-color="#1a1a1a" stop-opacity="1.000"/></linearGradient>
<linearGradient id="gs11" x1="790" y1="0" x2="815" y2="0" gradientUnits="userSpaceOnUse"><stop offset="0.000" stop-color="#151515" stop-opacity="0.000"/><stop offset="1.000" stop-color="#1a1a1a" stop-opacity="1.000"/></linearGradient>
<linearGradient id="gs12" x1="810" y1="0" x2="815" y2="0" gradientUnits="userSpaceOnUse"><stop offset="0.000" stop-color="#151515" stop-opacity="0.000"/><stop offset="1.000" stop-color="#1a1a1a" stop-opacity="1.000"/></linearGradient>
<linearGradient id="gs14" x1="810" y1="0" x2="815" y2="0" gradientUnits="userSpaceOnUse"><stop offset="0.000" stop-color="#141414" stop-opacity="0.000"/><stop offset="1.000" stop-color="#181818" stop-opacity="1.000"/></linearGradient>
<linearGradient id="gs24" x1="810" y1="0" x2="815" y2="0" gradientUnits="userSpaceOnUse"><stop offset="0.000" stop-color="#141414" stop-opacity="0.000"/><stop offset="1.000" stop-color="#181818" stop-opacity="1.000"/></linearGradient>
<linearGradient id="gh0" x1="0" y1="0" x2="0" y2="1"><stop offset="0.0000" stop-color="#0f0f0f"/><stop offset="0.0208" stop-color="#0f0f0f"/><stop offset="0.0417" stop-color="#101010"/><stop offset="0.0833" stop-color="#101010"/><stop offset="0.1250" stop-color="#101010"/><stop offset="0.1667" stop-color="#101010"/><stop offset="0.2083" stop-color="#111111"/><stop offset="0.2500" stop-color="#121212"/><stop offset="0.2917" stop-color="#131313"/><stop offset="0.3333" stop-color="#151515"/><stop offset="0.3750" stop-color="#151515"/><stop offset="0.4167" stop-color="#151515"/><stop offset="0.4583" stop-color="#151515"/><stop offset="0.5000" stop-color="#151515"/><stop offset="0.5292" stop-color="#141414"/><stop offset="0.5417" stop-color="#141414"/><stop offset="0.5833" stop-color="#151515"/><stop offset="0.6250" stop-color="#151515"/><stop offset="0.6667" stop-color="#151515"/><stop offset="0.7083" stop-color="#141414"/><stop offset="0.7292" stop-color="#121212"/><stop offset="0.7500" stop-color="#101010"/><stop offset="0.7917" stop-color="#101010"/><stop offset="0.8125" stop-color="#0f0f0f"/><stop offset="0.8333" stop-color="#0f0f0f"/><stop offset="0.8750" stop-color="#0f0f0f"/><stop offset="0.9167" stop-color="#0f0f0f"/><stop offset="0.9583" stop-color="#0f0f0f"/><stop offset="1.0000" stop-color="#0f0f0f"/></linearGradient>
<linearGradient id="gh1" x1="0" y1="0" x2="0" y2="1"><stop offset="0.0000" stop-color="#0f0f0f"/><stop offset="0.0208" stop-color="#0f0f0f"/><stop offset="0.0417" stop-color="#101010"/><stop offset="0.0833" stop-color="#101010"/><stop offset="0.1250" stop-color="#101010"/><stop offset="0.1667" stop-color="#101010"/><stop offset="0.2083" stop-color="#111111"/><stop offset="0.2500" stop-color="#121212"/><stop offset="0.2917" stop-color="#131313"/><stop offset="0.3333" stop-color="#151515"/><stop offset="0.3750" stop-color="#151515"/><stop offset="0.4167" stop-color="#151515"/><stop offset="0.4583" stop-color="#151515"/><stop offset="0.5000" stop-color="#151515"/><stop offset="0.5292" stop-color="#141414"/><stop offset="0.5417" stop-color="#141414"/><stop offset="0.5833" stop-color="#151515"/><stop offset="0.6250" stop-color="#151515"/><stop offset="0.6667" stop-color="#151515"/><stop offset="0.7083" stop-color="#141414"/><stop offset="0.7292" stop-color="#121212"/><stop offset="0.7500" stop-color="#101010"/><stop offset="0.7917" stop-color="#101010"/><stop offset="0.8125" stop-color="#0f0f0f"/><stop offset="0.8333" stop-color="#0f0f0f"/><stop offset="0.8750" stop-color="#0f0f0f"/><stop offset="0.9167" stop-color="#0f0f0f"/><stop offset="0.9583" stop-color="#0f0f0f"/><stop offset="1.0000" stop-color="#0f0f0f"/></linearGradient>
<linearGradient id="gh2" x1="0" y1="0" x2="0" y2="1"><stop offset="0.0000" stop-color="#0f0f0f"/><stop offset="0.0208" stop-color="#0f0f0f"/><stop offset="0.0417" stop-color="#101010"/><stop offset="0.0833" stop-color="#101010"/><stop offset="0.1250" stop-color="#101010"/><stop offset="0.1667" stop-color="#101010"/><stop offset="0.2083" stop-color="#111111"/><stop offset="0.2500" stop-color="#121212"/><stop offset="0.2917" stop-color="#131313"/><stop offset="0.3333" stop-color="#151515"/><stop offset="0.3750" stop-color="#151515"/><stop offset="0.4167" stop-color="#151515"/><stop offset="0.4583" stop-color="#151515"/><stop offset="0.5000" stop-color="#151515"/><stop offset="0.5292" stop-color="#141414"/><stop offset="0.5417" stop-color="#141414"/><stop offset="0.5833" stop-color="#151515"/><stop offset="0.6250" stop-color="#151515"/><stop offset="0.6667" stop-color="#151515"/><stop offset="0.7083" stop-color="#141414"/><stop offset="0.7292" stop-color="#121212"/><stop offset="0.7500" stop-color="#101010"/><stop offset="0.7917" stop-color="#101010"/><stop offset="0.8125" stop-color="#0f0f0f"/><stop offset="0.8333" stop-color="#0f0f0f"/><stop offset="0.8750" stop-color="#0f0f0f"/><stop offset="0.9167" stop-color="#0f0f0f"/><stop offset="0.9583" stop-color="#0f0f0f"/><stop offset="1.0000" stop-color="#0f0f0f"/></linearGradient>
<linearGradient id="gh3" x1="0" y1="0" x2="0" y2="1"><stop offset="0.0000" stop-color="#121212"/><stop offset="0.0208" stop-color="#131313"/><stop offset="0.0417" stop-color="#141414"/><stop offset="0.0833" stop-color="#151515"/><stop offset="0.1250" stop-color="#151515"/><stop offset="0.1667" stop-color="#161616"/><stop offset="0.2083" stop-color="#171717"/><stop offset="0.2500" stop-color="#191919"/><stop offset="0.2917" stop-color="#1d1d1d"/><stop offset="0.3333" stop-color="#202020"/><stop offset="0.3750" stop-color="#212121"/><stop offset="0.4167" stop-color="#212121"/><stop offset="0.4583" stop-color="#212121"/><stop offset="0.5000" stop-color="#202020"/><stop offset="0.5292" stop-color="#1e1e1e"/><stop offset="0.5417" stop-color="#1d1d1d"/><stop offset="0.5833" stop-color="#1f1f1f"/><stop offset="0.6250" stop-color="#212121"/><stop offset="0.6667" stop-color="#202020"/><stop offset="0.7083" stop-color="#1d1d1d"/><stop offset="0.7292" stop-color="#191919"/><stop offset="0.7500" stop-color="#151515"/><stop offset="0.7917" stop-color="#141414"/><stop offset="0.8125" stop-color="#131313"/><stop offset="0.8333" stop-color="#121212"/><stop offset="0.8750" stop-color="#111111"/><stop offset="0.9167" stop-color="#111111"/><stop offset="0.9583" stop-color="#111111"/><stop offset="1.0000" stop-color="#111111"/></linearGradient>
<linearGradient id="gh4" x1="0" y1="0" x2="0" y2="1"><stop offset="0.0000" stop-color="#121212"/><stop offset="0.0208" stop-color="#131313"/><stop offset="0.0417" stop-color="#151515"/><stop offset="0.0833" stop-color="#161616"/><stop offset="0.1250" stop-color="#161616"/><stop offset="0.1667" stop-color="#171717"/><stop offset="0.2083" stop-color="#191919"/><stop offset="0.2500" stop-color="#1b1b1b"/><stop offset="0.2917" stop-color="#1f1f1f"/><stop offset="0.3333" stop-color="#232323"/><stop offset="0.3750" stop-color="#242424"/><stop offset="0.4167" stop-color="#242424"/><stop offset="0.4583" stop-color="#242424"/><stop offset="0.5000" stop-color="#232323"/><stop offset="0.5292" stop-color="#212121"/><stop offset="0.5417" stop-color="#202020"/><stop offset="0.5833" stop-color="#222222"/><stop offset="0.6250" stop-color="#242424"/><stop offset="0.6667" stop-color="#232323"/><stop offset="0.7083" stop-color="#202020"/><stop offset="0.7292" stop-color="#1b1b1b"/><stop offset="0.7500" stop-color="#171717"/><stop offset="0.7917" stop-color="#151515"/><stop offset="0.8125" stop-color="#131313"/><stop offset="0.8333" stop-color="#121212"/><stop offset="0.8750" stop-color="#121212"/><stop offset="0.9167" stop-color="#121212"/><stop offset="0.9583" stop-color="#121212"/><stop offset="1.0000" stop-color="#121212"/></linearGradient>
<linearGradient id="gh5" x1="0" y1="0" x2="0" y2="1"><stop offset="0.0000" stop-color="#131313"/><stop offset="0.0208" stop-color="#141414"/><stop offset="0.0417" stop-color="#161616"/><stop offset="0.0833" stop-color="#171717"/><stop offset="0.1250" stop-color="#181818"/><stop offset="0.1667" stop-color="#181818"/><stop offset="0.2083" stop-color="#1a1a1a"/><stop offset="0.2500" stop-color="#1d1d1d"/><stop offset="0.2917" stop-color="#222222"/><stop offset="0.3333" stop-color="#262626"/><stop offset="0.3750" stop-color="#272727"/><stop offset="0.4167" stop-color="#272727"/><stop offset="0.4583" stop-color="#272727"/><stop offset="0.5000" stop-color="#262626"/><stop offset="0.5292" stop-color="#232323"/><stop offset="0.5417" stop-color="#222222"/><stop offset="0.5833" stop-color="#252525"/><stop offset="0.6250" stop-color="#272727"/><stop offset="0.6667" stop-color="#262626"/><stop offset="0.7083" stop-color="#222222"/><stop offset="0.7292" stop-color="#1d1d1d"/><stop offset="0.7500" stop-color="#181818"/><stop offset="0.7917" stop-color="#151515"/><stop offset="0.8125" stop-color="#141414"/><stop offset="0.8333" stop-color="#131313"/><stop offset="0.8750" stop-color="#121212"/><stop offset="0.9167" stop-color="#121212"/><stop offset="0.9583" stop-color="#121212"/><stop offset="1.0000" stop-color="#121212"/></linearGradient>
<linearGradient id="gh6" x1="0" y1="0" x2="0" y2="1"><stop offset="0.0000" stop-color="#131313"/><stop offset="0.0208" stop-color="#151515"/><stop offset="0.0417" stop-color="#181818"/><stop offset="0.0833" stop-color="#181818"/><stop offset="0.1250" stop-color="#191919"/><stop offset="0.1667" stop-color="#1a1a1a"/><stop offset="0.2083" stop-color="#1c1c1c"/><stop offset="0.2500" stop-color="#1f1f1f"/><stop offset="0.2917" stop-color="#252525"/><stop offset="0.3333" stop-color="#292929"/><stop offset="0.3750" stop-color="#2a2a2a"/><stop offset="0.4167" stop-color="#2a2a2a"/><stop offset="0.4583" stop-color="#2a2a2a"/><stop offset="0.5000" stop-color="#292929"/><stop offset="0.5292" stop-color="#262626"/><stop offset="0.5417" stop-color="#252525"/><stop offset="0.5833" stop-color="#282828"/><stop offset="0.6250" stop-color="#2a2a2a"/><stop offset="0.6667" stop-color="#292929"/><stop offset="0.7083" stop-color="#252525"/><stop offset="0.7292" stop-color="#1e1e1e"/><stop offset="0.7500" stop-color="#191919"/><stop offset="0.7917" stop-color="#161616"/><stop offset="0.8125" stop-color="#141414"/><stop offset="0.8333" stop-color="#131313"/><stop offset="0.8750" stop-color="#121212"/><stop offset="0.9167" stop-color="#121212"/><stop offset="0.9583" stop-color="#121212"/><stop offset="1.0000" stop-color="#121212"/></linearGradient>
<linearGradient id="gh7" x1="0" y1="0" x2="0" y2="1"><stop offset="0.0000" stop-color="#131313"/><stop offset="0.0208" stop-color="#151515"/><stop offset="0.0417" stop-color="#191919"/><stop offset="0.0833" stop-color="#1a1a1a"/><stop offset="0.1250" stop-color="#1a1a1a"/><stop offset="0.1667" stop-color="#1b1b1b"/><stop offset="0.2083" stop-color="#1e1e1e"/><stop offset="0.2500" stop-color="#222222"/><stop offset="0.2917" stop-color="#272727"/><stop offset="0.3333" stop-color="#2c2c2c"/><stop offset="0.3750" stop-color="#2d2d2d"/><stop offset="0.4167" stop-color="#2d2d2d"/><stop offset="0.4583" stop-color="#2d2d2d"/><stop offset="0.5000" stop-color="#2b2b2b"/><stop offset="0.5292" stop-color="#282828"/><stop offset="0.5417" stop-color="#272727"/><stop offset="0.5833" stop-color="#2b2b2b"/><stop offset="0.6250" stop-color="#2d2d2d"/><stop offset="0.6667" stop-color="#2b2b2b"/><stop offset="0.7083" stop-color="#272727"/><stop offset="0.7292" stop-color="#202020"/><stop offset="0.7500" stop-color="#1a1a1a"/><stop offset="0.7917" stop-color="#171717"/><stop offset="0.8125" stop-color="#151515"/><stop offset="0.8333" stop-color="#141414"/><stop offset="0.8750" stop-color="#131313"/><stop offset="0.9167" stop-color="#131313"/><stop offset="0.9583" stop-color="#131313"/><stop offset="1.0000" stop-color="#131313"/></linearGradient>
<linearGradient id="gh8" x1="0" y1="0" x2="0" y2="1"><stop offset="0.0000" stop-color="#141414"/><stop offset="0.0208" stop-color="#161616"/><stop offset="0.0417" stop-color="#1a1a1a"/><stop offset="0.0833" stop-color="#1b1b1b"/><stop offset="0.1250" stop-color="#1c1c1c"/><stop offset="0.1667" stop-color="#1d1d1d"/><stop offset="0.2083" stop-color="#1f1f1f"/><stop offset="0.2500" stop-color="#242424"/><stop offset="0.2917" stop-color="#2a2a2a"/><stop offset="0.3333" stop-color="#2f2f2f"/><stop offset="0.3750" stop-color="#303030"/><stop offset="0.4167" stop-color="#303030"/><stop offset="0.4583" stop-color="#303030"/><stop offset="0.5000" stop-color="#2e2e2e"/><stop offset="0.5292" stop-color="#2b2b2b"/><stop offset="0.5417" stop-color="#292929"/><stop offset="0.5833" stop-color="#2d2d2d"/><stop offset="0.6250" stop-color="#303030"/><stop offset="0.6667" stop-color="#2e2e2e"/><stop offset="0.7083" stop-color="#2a2a2a"/><stop offset="0.7292" stop-color="#222222"/><stop offset="0.7500" stop-color="#1b1b1b"/><stop offset="0.7917" stop-color="#181818"/><stop offset="0.8125" stop-color="#161616"/><stop offset="0.8333" stop-color="#141414"/><stop offset="0.8750" stop-color="#131313"/><stop offset="0.9167" stop-color="#131313"/><stop offset="0.9583" stop-color="#131313"/><stop offset="1.0000" stop-color="#131313"/></linearGradient>
<linearGradient id="gh9" x1="0" y1="0" x2="0" y2="1"><stop offset="0.0000" stop-color="#141414"/><stop offset="0.0208" stop-color="#171717"/><stop offset="0.0417" stop-color="#1b1b1b"/><stop offset="0.0833" stop-color="#1c1c1c"/><stop offset="0.1250" stop-color="#1d1d1d"/><stop offset="0.1667" stop-color="#1e1e1e"/><stop offset="0.2083" stop-color="#212121"/><stop offset="0.2500" stop-color="#262626"/><stop offset="0.2917" stop-color="#2c2c2c"/><stop offset="0.3333" stop-color="#313131"/><stop offset="0.3750" stop-color="#333333"/><stop offset="0.4167" stop-color="#333333"/><stop offset="0.4583" stop-color="#333333"/><stop offset="0.5000" stop-color="#313131"/><stop offset="0.5292" stop-color="#2e2e2e"/><stop offset="0.5417" stop-color="#2c2c2c"/><stop offset="0.5833" stop-color="#303030"/><stop offset="0.6250" stop-color="#333333"/><stop offset="0.6667" stop-color="#313131"/><stop offset="0.7083" stop-color="#2c2c2c"/><stop offset="0.7292" stop-color="#232323"/><stop offset="0.7500" stop-color="#1c1c1c"/><stop offset="0.7917" stop-color="#191919"/><stop offset="0.8125" stop-color="#161616"/><stop offset="0.8333" stop-color="#151515"/><stop offset="0.8750" stop-color="#131313"/><stop offset="0.9167" stop-color="#131313"/><stop offset="0.9583" stop-color="#131313"/><stop offset="1.0000" stop-color="#131313"/></linearGradient>
<linearGradient id="gh10" x1="0" y1="0" x2="0" y2="1"><stop offset="0.0000" stop-color="#141414"/><stop offset="0.0208" stop-color="#171717"/><stop offset="0.0417" stop-color="#1d1d1d"/><stop offset="0.0833" stop-color="#1d1d1d"/><stop offset="0.1250" stop-color="#1e1e1e"/><stop offset="0.1667" stop-color="#202020"/><stop offset="0.2083" stop-color="#222222"/><stop offset="0.2500" stop-color="#282828"/><stop offset="0.2917" stop-color="#2f2f2f"/><stop offset="0.3333" stop-color="#343434"/><stop offset="0.3750" stop-color="#363636"/><stop offset="0.4167" stop-color="#363636"/><stop offset="0.4583" stop-color="#363636"/><stop offset="0.5000" stop-color="#343434"/><stop offset="0.5292" stop-color="#303030"/><stop offset="0.5417" stop-color="#2e2e2e"/><stop offset="0.5833" stop-color="#333333"/><stop offset="0.6250" stop-color="#363636"/><stop offset="0.6667" stop-color="#343434"/><stop offset="0.7083" stop-color="#2f2f2f"/><stop offset="0.7292" stop-color="#252525"/><stop offset="0.7500" stop-color="#1d1d1d"/><stop offset="0.7917" stop-color="#1a1a1a"/><stop offset="0.8125" stop-color="#171717"/><stop offset="0.8333" stop-color="#151515"/><stop offset="0.8750" stop-color="#131313"/><stop offset="0.9167" stop-color="#131313"/><stop offset="0.9583" stop-color="#131313"/><stop offset="1.0000" stop-color="#131313"/></linearGradient>
<linearGradient id="gh11" x1="0" y1="0" x2="0" y2="1"><stop offset="0.0000" stop-color="#151515"/><stop offset="0.0208" stop-color="#181818"/><stop offset="0.0417" stop-color="#1e1e1e"/><stop offset="0.0833" stop-color="#1f1f1f"/><stop offset="0.1250" stop-color="#202020"/><stop offset="0.1667" stop-color="#212121"/><stop offset="0.2083" stop-color="#242424"/><stop offset="0.2500" stop-color="#2a2a2a"/><stop offset="0.2917" stop-color="#323232"/><stop offset="0.3333" stop-color="#373737"/><stop offset="0.3750" stop-color="#393939"/><stop offset="0.4167" stop-color="#393939"/><stop offset="0.4583" stop-color="#393939"/><stop offset="0.5000" stop-color="#373737"/><stop offset="0.5292" stop-color="#333333"/><stop offset="0.5417" stop-color="#313131"/><stop offset="0.5833" stop-color="#363636"/><stop offset="0.6250" stop-color="#393939"/><stop offset="0.6667" stop-color="#373737"/><stop offset="0.7083" stop-color="#313131"/><stop offset="0.7292" stop-color="#272727"/><stop offset="0.7500" stop-color="#1e1e1e"/><stop offset="0.7917" stop-color="#1a1a1a"/><stop offset="0.8125" stop-color="#171717"/><stop offset="0.8333" stop-color="#151515"/><stop offset="0.8750" stop-color="#141414"/><stop offset="0.9167" stop-color="#141414"/><stop offset="0.9583" stop-color="#141414"/><stop offset="1.0000" stop-color="#141414"/></linearGradient>
<linearGradient id="gh12" x1="0" y1="0" x2="0" y2="1"><stop offset="0.0000" stop-color="#151515"/><stop offset="0.0208" stop-color="#191919"/><stop offset="0.0417" stop-color="#1f1f1f"/><stop offset="0.0833" stop-color="#202020"/><stop offset="0.1250" stop-color="#212121"/><stop offset="0.1667" stop-color="#222222"/><stop offset="0.2083" stop-color="#262626"/><stop offset="0.2500" stop-color="#2c2c2c"/><stop offset="0.2917" stop-color="#343434"/><stop offset="0.3333" stop-color="#3a3a3a"/><stop offset="0.3750" stop-color="#3c3c3c"/><stop offset="0.4167" stop-color="#3c3c3c"/><stop offset="0.4583" stop-color="#3c3c3c"/><stop offset="0.5000" stop-color="#3a3a3a"/><stop offset="0.5292" stop-color="#353535"/><stop offset="0.5417" stop-color="#333333"/><stop offset="0.5833" stop-color="#393939"/><stop offset="0.6250" stop-color="#3c3c3c"/><stop offset="0.6667" stop-color="#3a3a3a"/><stop offset="0.7083" stop-color="#343434"/><stop offset="0.7292" stop-color="#292929"/><stop offset="0.7500" stop-color="#1f1f1f"/><stop offset="0.7917" stop-color="#1b1b1b"/><stop offset="0.8125" stop-color="#181818"/><stop offset="0.8333" stop-color="#161616"/><stop offset="0.8750" stop-color="#141414"/><stop offset="0.9167" stop-color="#141414"/><stop offset="0.9583" stop-color="#141414"/><stop offset="1.0000" stop-color="#141414"/></linearGradient>
<linearGradient id="gh13" x1="0" y1="0" x2="0" y2="1"><stop offset="0.0000" stop-color="#151515"/><stop offset="0.0208" stop-color="#191919"/><stop offset="0.0417" stop-color="#202020"/><stop offset="0.0833" stop-color="#212121"/><stop offset="0.1250" stop-color="#222222"/><stop offset="0.1667" stop-color="#242424"/><stop offset="0.2083" stop-color="#272727"/><stop offset="0.2500" stop-color="#2e2e2e"/><stop offset="0.2917" stop-color="#373737"/><stop offset="0.3333" stop-color="#3d3d3d"/><stop offset="0.3750" stop-color="#3f3f3f"/><stop offset="0.4167" stop-color="#3f3f3f"/><stop offset="0.4583" stop-color="#3f3f3f"/><stop offset="0.5000" stop-color="#3c3c3c"/><stop offset="0.5292" stop-color="#383838"/><stop offset="0.5417" stop-color="#353535"/><stop offset="0.5833" stop-color="#3b3b3b"/><stop offset="0.6250" stop-color="#3f3f3f"/><stop offset="0.6667" stop-color="#3c3c3c"/><stop offset="0.7083" stop-color="#363636"/><stop offset="0.7292" stop-color="#2a2a2a"/><stop offset="0.7500" stop-color="#202020"/><stop offset="0.7917" stop-color="#1c1c1c"/><stop offset="0.8125" stop-color="#191919"/><stop offset="0.8333" stop-color="#161616"/><stop offset="0.8750" stop-color="#141414"/><stop offset="0.9167" stop-color="#141414"/><stop offset="0.9583" stop-color="#141414"/><stop offset="1.0000" stop-color="#141414"/></linearGradient>
<linearGradient id="gh14" x1="0" y1="0" x2="0" y2="1"><stop offset="0.0000" stop-color="#161616"/><stop offset="0.0208" stop-color="#1a1a1a"/><stop offset="0.0417" stop-color="#222222"/><stop offset="0.0833" stop-color="#232323"/><stop offset="0.1250" stop-color="#242424"/><stop offset="0.1667" stop-color="#252525"/><stop offset="0.2083" stop-color="#292929"/><stop offset="0.2500" stop-color="#303030"/><stop offset="0.2917" stop-color="#393939"/><stop offset="0.3333" stop-color="#404040"/><stop offset="0.3750" stop-color="#424242"/><stop offset="0.4167" stop-color="#424242"/><stop offset="0.4583" stop-color="#424242"/><stop offset="0.5000" stop-color="#3f3f3f"/><stop offset="0.5292" stop-color="#3b3b3b"/><stop offset="0.5417" stop-color="#383838"/><stop offset="0.5833" stop-color="#3e3e3e"/><stop offset="0.6250" stop-color="#424242"/><stop offset="0.6667" stop-color="#3f3f3f"/><stop offset="0.7083" stop-color="#393939"/><stop offset="0.7292" stop-color="#2c2c2c"/><stop offset="0.7500" stop-color="#212121"/><stop offset="0.7917" stop-color="#1d1d1d"/><stop offset="0.8125" stop-color="#191919"/><stop offset="0.8333" stop-color="#171717"/><stop offset="0.8750" stop-color="#151515"/><stop offset="0.9167" stop-color="#151515"/><stop offset="0.9583" stop-color="#151515"/><stop offset="1.0000" stop-color="#151515"/></linearGradient>
<linearGradient id="gh15" x1="0" y1="0" x2="0" y2="1"><stop offset="0.0000" stop-color="#161616"/><stop offset="0.0208" stop-color="#1b1b1b"/><stop offset="0.0417" stop-color="#232323"/><stop offset="0.0833" stop-color="#242424"/><stop offset="0.1250" stop-color="#252525"/><stop offset="0.1667" stop-color="#272727"/><stop offset="0.2083" stop-color="#2b2b2b"/><stop offset="0.2500" stop-color="#323232"/><stop offset="0.2917" stop-color="#3c3c3c"/><stop offset="0.3333" stop-color="#434343"/><stop offset="0.3750" stop-color="#454545"/><stop offset="0.4167" stop-color="#454545"/><stop offset="0.4583" stop-color="#454545"/><stop offset="0.5000" stop-color="#424242"/><stop offset="0.5292" stop-color="#3d3d3d"/><stop offset="0.5417" stop-color="#3a3a3a"/><stop offset="0.5833" stop-color="#414141"/><stop offset="0.6250" stop-color="#454545"/><stop offset="0.6667" stop-color="#424242"/><stop offset="0.7083" stop-color="#3b3b3b"/><stop offset="0.7292" stop-color="#2e2e2e"/><stop offset="0.7500" stop-color="#222222"/><stop offset="0.7917" stop-color="#1e1e1e"/><stop offset="0.8125" stop-color="#1a1a1a"/><stop offset="0.8333" stop-color="#171717"/><stop offset="0.8750" stop-color="#151515"/><stop offset="0.9167" stop-color="#151515"/><stop offset="0.9583" stop-color="#151515"/><stop offset="1.0000" stop-color="#151515"/></linearGradient>
<linearGradient id="gh16" x1="0" y1="0" x2="0" y2="1"><stop offset="0.0000" stop-color="#171717"/><stop offset="0.0208" stop-color="#1b1b1b"/><stop offset="0.0417" stop-color="#242424"/><stop offset="0.0833" stop-color="#252525"/><stop offset="0.1250" stop-color="#262626"/><stop offset="0.1667" stop-color="#282828"/><stop offset="0.2083" stop-color="#2c2c2c"/><stop offset="0.2500" stop-color="#343434"/><stop offset="0.2917" stop-color="#3e3e3e"/><stop offset="0.3333" stop-color="#464646"/><stop offset="0.3750" stop-color="#484848"/><stop offset="0.4167" stop-color="#484848"/><stop offset="0.4583" stop-color="#484848"/><stop offset="0.5000" stop-color="#454545"/><stop offset="0.5292" stop-color="#404040"/><stop offset="0.5417" stop-color="#3d3d3d"/><stop offset="0.5833" stop-color="#444444"/><stop offset="0.6250" stop-color="#484848"/><stop offset="0.6667" stop-color="#454545"/><stop offset="0.7083" stop-color="#3e3e3e"/><stop offset="0.7292" stop-color="#303030"/><stop offset="0.7500" stop-color="#232323"/><stop offset="0.7917" stop-color="#1e1e1e"/><stop offset="0.8125" stop-color="#1a1a1a"/><stop offset="0.8333" stop-color="#171717"/><stop offset="0.8750" stop-color="#151515"/><stop offset="0.9167" stop-color="#151515"/><stop offset="0.9583" stop-color="#151515"/><stop offset="1.0000" stop-color="#151515"/></linearGradient>
<linearGradient id="gh17" x1="0" y1="0" x2="0" y2="1"><stop offset="0.0000" stop-color="#171717"/><stop offset="0.0208" stop-color="#1d1d1d"/><stop offset="0.0417" stop-color="#272727"/><stop offset="0.0833" stop-color="#282828"/><stop offset="0.1250" stop-color="#292929"/><stop offset="0.1667" stop-color="#2b2b2b"/><stop offset="0.2083" stop-color="#303030"/><stop offset="0.2500" stop-color="#393939"/><stop offset="0.2917" stop-color="#444444"/><stop offset="0.3333" stop-color="#4c4c4c"/><stop offset="0.3750" stop-color="#4e4e4e"/><stop offset="0.4167" stop-color="#4e4e4e"/><stop offset="0.4583" stop-color="#4e4e4e"/><stop offset="0.5000" stop-color="#4b4b4b"/><stop offset="0.5292" stop-color="#454545"/><stop offset="0.5417" stop-color="#424242"/><stop offset="0.5833" stop-color="#4a4a4a"/><stop offset="0.6250" stop-color="#4e4e4e"/><stop offset="0.6667" stop-color="#4b4b4b"/><stop offset="0.7083" stop-color="#434343"/><stop offset="0.7292" stop-color="#333333"/><stop offset="0.7500" stop-color="#262626"/><stop offset="0.7917" stop-color="#202020"/><stop offset="0.8125" stop-color="#1c1c1c"/><stop offset="0.8333" stop-color="#181818"/><stop offset="0.8750" stop-color="#161616"/><stop offset="0.9167" stop-color="#161616"/><stop offset="0.9583" stop-color="#161616"/><stop offset="1.0000" stop-color="#161616"/></linearGradient>
<linearGradient id="gh18" x1="0" y1="0" x2="0" y2="1"><stop offset="0.0000" stop-color="#171717"/><stop offset="0.0208" stop-color="#1d1d1d"/><stop offset="0.0417" stop-color="#272727"/><stop offset="0.0833" stop-color="#282828"/><stop offset="0.1250" stop-color="#292929"/><stop offset="0.1667" stop-color="#2c2c2c"/><stop offset="0.2083" stop-color="#303030"/><stop offset="0.2500" stop-color="#393939"/><stop offset="0.2917" stop-color="#454545"/><stop offset="0.3333" stop-color="#4d4d4d"/><stop offset="0.3750" stop-color="#4f4f4f"/><stop offset="0.4167" stop-color="#4f4f4f"/><stop offset="0.4583" stop-color="#4f4f4f"/><stop offset="0.5000" stop-color="#4c4c4c"/><stop offset="0.5292" stop-color="#464646"/><stop offset="0.5417" stop-color="#434343"/><stop offset="0.5833" stop-color="#4b4b4b"/><stop offset="0.6250" stop-color="#4f4f4f"/><stop offset="0.6667" stop-color="#4c4c4c"/><stop offset="0.7083" stop-color="#444444"/><stop offset="0.7292" stop-color="#343434"/><stop offset="0.7500" stop-color="#262626"/><stop offset="0.7917" stop-color="#202020"/><stop offset="0.8125" stop-color="#1c1c1c"/><stop offset="0.8333" stop-color="#181818"/><stop offset="0.8750" stop-color="#161616"/><stop offset="0.9167" stop-color="#161616"/><stop offset="0.9583" stop-color="#161616"/><stop offset="1.0000" stop-color="#161616"/></linearGradient>
<linearGradient id="gh19" x1="0" y1="0" x2="0" y2="1"><stop offset="0.0000" stop-color="#171717"/><stop offset="0.0208" stop-color="#1d1d1d"/><stop offset="0.0417" stop-color="#272727"/><stop offset="0.0833" stop-color="#292929"/><stop offset="0.1250" stop-color="#2a2a2a"/><stop offset="0.1667" stop-color="#2c2c2c"/><stop offset="0.2083" stop-color="#313131"/><stop offset="0.2500" stop-color="#3a3a3a"/><stop offset="0.2917" stop-color="#464646"/><stop offset="0.3333" stop-color="#4e4e4e"/><stop offset="0.3750" stop-color="#505050"/><stop offset="0.4167" stop-color="#505050"/><stop offset="0.4583" stop-color="#505050"/><stop offset="0.5000" stop-color="#4d4d4d"/><stop offset="0.5292" stop-color="#474747"/><stop offset="0.5417" stop-color="#434343"/><stop offset="0.5833" stop-color="#4b4b4b"/><stop offset="0.6250" stop-color="#505050"/><stop offset="0.6667" stop-color="#4d4d4d"/><stop offset="0.7083" stop-color="#444444"/><stop offset="0.7292" stop-color="#343434"/><stop offset="0.7500" stop-color="#262626"/><stop offset="0.7917" stop-color="#212121"/><stop offset="0.8125" stop-color="#1c1c1c"/><stop offset="0.8333" stop-color="#191919"/><stop offset="0.8750" stop-color="#161616"/><stop offset="0.9167" stop-color="#161616"/><stop offset="0.9583" stop-color="#161616"/><stop offset="1.0000" stop-color="#161616"/></linearGradient>
<linearGradient id="gh20" x1="0" y1="0" x2="0" y2="1"><stop offset="0.0000" stop-color="#181818"/><stop offset="0.0208" stop-color="#1d1d1d"/><stop offset="0.0417" stop-color="#282828"/><stop offset="0.0833" stop-color="#292929"/><stop offset="0.1250" stop-color="#2a2a2a"/><stop offset="0.1667" stop-color="#2c2c2c"/><stop offset="0.2083" stop-color="#313131"/><stop offset="0.2500" stop-color="#3a3a3a"/><stop offset="0.2917" stop-color="#464646"/><stop offset="0.3333" stop-color="#4f4f4f"/><stop offset="0.3750" stop-color="#515151"/><stop offset="0.4167" stop-color="#515151"/><stop offset="0.4583" stop-color="#515151"/><stop offset="0.5000" stop-color="#4d4d4d"/><stop offset="0.5292" stop-color="#484848"/><stop offset="0.5417" stop-color="#444444"/><stop offset="0.5833" stop-color="#4c4c4c"/><stop offset="0.6250" stop-color="#515151"/><stop offset="0.6667" stop-color="#4d4d4d"/><stop offset="0.7083" stop-color="#454545"/><stop offset="0.7292" stop-color="#353535"/><stop offset="0.7500" stop-color="#272727"/><stop offset="0.7917" stop-color="#212121"/><stop offset="0.8125" stop-color="#1c1c1c"/><stop offset="0.8333" stop-color="#191919"/><stop offset="0.8750" stop-color="#161616"/><stop offset="0.9167" stop-color="#161616"/><stop offset="0.9583" stop-color="#161616"/><stop offset="1.0000" stop-color="#161616"/></linearGradient>
<linearGradient id="gh21" x1="0" y1="0" x2="0" y2="1"><stop offset="0.0000" stop-color="#181818"/><stop offset="0.0208" stop-color="#1e1e1e"/><stop offset="0.0417" stop-color="#282828"/><stop offset="0.0833" stop-color="#292929"/><stop offset="0.1250" stop-color="#2a2a2a"/><stop offset="0.1667" stop-color="#2d2d2d"/><stop offset="0.2083" stop-color="#323232"/><stop offset="0.2500" stop-color="#3b3b3b"/><stop offset="0.2917" stop-color="#474747"/><stop offset="0.3333" stop-color="#4f4f4f"/><stop offset="0.3750" stop-color="#525252"/><stop offset="0.4167" stop-color="#525252"/><stop offset="0.4583" stop-color="#525252"/><stop offset="0.5000" stop-color="#4e4e4e"/><stop offset="0.5292" stop-color="#484848"/><stop offset="0.5417" stop-color="#454545"/><stop offset="0.5833" stop-color="#4d4d4d"/><stop offset="0.6250" stop-color="#525252"/><stop offset="0.6667" stop-color="#4e4e4e"/><stop offset="0.7083" stop-color="#464646"/><stop offset="0.7292" stop-color="#353535"/><stop offset="0.7500" stop-color="#272727"/><stop offset="0.7917" stop-color="#212121"/><stop offset="0.8125" stop-color="#1c1c1c"/><stop offset="0.8333" stop-color="#191919"/><stop offset="0.8750" stop-color="#161616"/><stop offset="0.9167" stop-color="#161616"/><stop offset="0.9583" stop-color="#161616"/><stop offset="1.0000" stop-color="#161616"/></linearGradient>
<linearGradient id="gh22" x1="0" y1="0" x2="0" y2="1"><stop offset="0.0000" stop-color="#181818"/><stop offset="0.0208" stop-color="#1e1e1e"/><stop offset="0.0417" stop-color="#282828"/><stop offset="0.0833" stop-color="#2a2a2a"/><stop offset="0.1250" stop-color="#2b2b2b"/><stop offset="0.1667" stop-color="#2d2d2d"/><stop offset="0.2083" stop-color="#323232"/><stop offset="0.2500" stop-color="#3c3c3c"/><stop offset="0.2917" stop-color="#484848"/><stop offset="0.3333" stop-color="#505050"/><stop offset="0.3750" stop-color="#535353"/><stop offset="0.4167" stop-color="#535353"/><stop offset="0.4583" stop-color="#535353"/><stop offset="0.5000" stop-color="#4f4f4f"/><stop offset="0.5292" stop-color="#494949"/><stop offset="0.5417" stop-color="#454545"/><stop offset="0.5833" stop-color="#4e4e4e"/><stop offset="0.6250" stop-color="#535353"/><stop offset="0.6667" stop-color="#4f4f4f"/><stop offset="0.7083" stop-color="#474747"/><stop offset="0.7292" stop-color="#363636"/><stop offset="0.7500" stop-color="#272727"/><stop offset="0.7917" stop-color="#212121"/><stop offset="0.8125" stop-color="#1d1d1d"/><stop offset="0.8333" stop-color="#191919"/><stop offset="0.8750" stop-color="#161616"/><stop offset="0.9167" stop-color="#161616"/><stop offset="0.9583" stop-color="#161616"/><stop offset="1.0000" stop-color="#161616"/></linearGradient>
<linearGradient id="gh23" x1="0" y1="0" x2="0" y2="1"><stop offset="0.0000" stop-color="#181818"/><stop offset="0.0208" stop-color="#1e1e1e"/><stop offset="0.0417" stop-color="#292929"/><stop offset="0.0833" stop-color="#2a2a2a"/><stop offset="0.1250" stop-color="#2b2b2b"/><stop offset="0.1667" stop-color="#2e2e2e"/><stop offset="0.2083" stop-color="#333333"/><stop offset="0.2500" stop-color="#3c3c3c"/><stop offset="0.2917" stop-color="#494949"/><stop offset="0.3333" stop-color="#515151"/><stop offset="0.3750" stop-color="#545454"/><stop offset="0.4167" stop-color="#545454"/><stop offset="0.4583" stop-color="#545454"/><stop offset="0.5000" stop-color="#505050"/><stop offset="0.5292" stop-color="#4a4a4a"/><stop offset="0.5417" stop-color="#464646"/><stop offset="0.5833" stop-color="#4f4f4f"/><stop offset="0.6250" stop-color="#545454"/><stop offset="0.6667" stop-color="#505050"/><stop offset="0.7083" stop-color="#474747"/><stop offset="0.7292" stop-color="#363636"/><stop offset="0.7500" stop-color="#282828"/><stop offset="0.7917" stop-color="#222222"/><stop offset="0.8125" stop-color="#1d1d1d"/><stop offset="0.8333" stop-color="#191919"/><stop offset="0.8750" stop-color="#161616"/><stop offset="0.9167" stop-color="#161616"/><stop offset="0.9583" stop-color="#161616"/><stop offset="1.0000" stop-color="#161616"/></linearGradient>
<linearGradient id="gh24" x1="0" y1="0" x2="0" y2="1"><stop offset="0.0000" stop-color="#181818"/><stop offset="0.0208" stop-color="#1e1e1e"/><stop offset="0.0417" stop-color="#292929"/><stop offset="0.0833" stop-color="#2a2a2a"/><stop offset="0.1250" stop-color="#2c2c2c"/><stop offset="0.1667" stop-color="#2e2e2e"/><stop offset="0.2083" stop-color="#333333"/><stop offset="0.2500" stop-color="#3d3d3d"/><stop offset="0.2917" stop-color="#494949"/><stop offset="0.3333" stop-color="#525252"/><stop offset="0.3750" stop-color="#555555"/><stop offset="0.4167" stop-color="#555555"/><stop offset="0.4583" stop-color="#555555"/><stop offset="0.5000" stop-color="#515151"/><stop offset="0.5292" stop-color="#4b4b4b"/><stop offset="0.5417" stop-color="#474747"/><stop offset="0.5833" stop-color="#505050"/><stop offset="0.6250" stop-color="#555555"/><stop offset="0.6667" stop-color="#515151"/><stop offset="0.7083" stop-color="#484848"/><stop offset="0.7292" stop-color="#373737"/><stop offset="0.7500" stop-color="#282828"/><stop offset="0.7917" stop-color="#222222"/><stop offset="0.8125" stop-color="#1d1d1d"/><stop offset="0.8333" stop-color="#191919"/><stop offset="0.8750" stop-color="#161616"/><stop offset="0.9167" stop-color="#161616"/><stop offset="0.9583" stop-color="#161616"/><stop offset="1.0000" stop-color="#161616"/></linearGradient>
<linearGradient id="gh25" x1="0" y1="0" x2="0" y2="1"><stop offset="0.0000" stop-color="#181818"/><stop offset="0.0208" stop-color="#1e1e1e"/><stop offset="0.0417" stop-color="#2a2a2a"/><stop offset="0.0833" stop-color="#2b2b2b"/><stop offset="0.1250" stop-color="#2c2c2c"/><stop offset="0.1667" stop-color="#2f2f2f"/><stop offset="0.2083" stop-color="#343434"/><stop offset="0.2500" stop-color="#3e3e3e"/><stop offset="0.2917" stop-color="#4a4a4a"/><stop offset="0.3333" stop-color="#535353"/><stop offset="0.3750" stop-color="#555555"/><stop offset="0.4167" stop-color="#555555"/><stop offset="0.4583" stop-color="#555555"/><stop offset="0.5000" stop-color="#525252"/><stop offset="0.5292" stop-color="#4b4b4b"/><stop offset="0.5417" stop-color="#484848"/><stop offset="0.5833" stop-color="#505050"/><stop offset="0.6250" stop-color="#555555"/><stop offset="0.6667" stop-color="#525252"/><stop offset="0.7083" stop-color="#494949"/><stop offset="0.7292" stop-color="#373737"/><stop offset="0.7500" stop-color="#282828"/><stop offset="0.7917" stop-color="#222222"/><stop offset="0.8125" stop-color="#1d1d1d"/><stop offset="0.8333" stop-color="#191919"/><stop offset="0.8750" stop-color="#161616"/><stop offset="0.9167" stop-color="#161616"/><stop offset="0.9583" stop-color="#161616"/><stop offset="1.0000" stop-color="#161616"/></linearGradient>
<linearGradient id="gh26" x1="0" y1="0" x2="0" y2="1"><stop offset="0.0000" stop-color="#181818"/><stop offset="0.0208" stop-color="#1f1f1f"/><stop offset="0.0417" stop-color="#2a2a2a"/><stop offset="0.0833" stop-color="#2b2b2b"/><stop offset="0.1250" stop-color="#2c2c2c"/><stop offset="0.1667" stop-color="#2f2f2f"/><stop offset="0.2083" stop-color="#343434"/><stop offset="0.2500" stop-color="#3e3e3e"/><stop offset="0.2917" stop-color="#4b4b4b"/><stop offset="0.3333" stop-color="#545454"/><stop offset="0.3750" stop-color="#565656"/><stop offset="0.4167" stop-color="#565656"/><stop offset="0.4583" stop-color="#565656"/><stop offset="0.5000" stop-color="#525252"/><stop offset="0.5292" stop-color="#4c4c4c"/><stop offset="0.5417" stop-color="#484848"/><stop offset="0.5833" stop-color="#515151"/><stop offset="0.6250" stop-color="#565656"/><stop offset="0.6667" stop-color="#525252"/><stop offset="0.7083" stop-color="#4a4a4a"/><stop offset="0.7292" stop-color="#383838"/><stop offset="0.7500" stop-color="#292929"/><stop offset="0.7917" stop-color="#222222"/><stop offset="0.8125" stop-color="#1d1d1d"/><stop offset="0.8333" stop-color="#191919"/><stop offset="0.8750" stop-color="#161616"/><stop offset="0.9167" stop-color="#161616"/><stop offset="0.9583" stop-color="#161616"/><stop offset="1.0000" stop-color="#161616"/></linearGradient>
<linearGradient id="gsh0" x1="815" y1="0" x2="950" y2="0" gradientUnits="userSpaceOnUse"><stop offset="0.000" stop-color="#1c1c1c" stop-opacity="0.800"/><stop offset="0.222" stop-color="#484848" stop-opacity="0.800"/><stop offset="1.000" stop-color="#6d6d6d" stop-opacity="0.800"/></linearGradient>
<linearGradient id="gsh1" x1="815" y1="0" x2="950" y2="0" gradientUnits="userSpaceOnUse"><stop offset="0.000" stop-color="#1c1c1c" stop-opacity="0.800"/><stop offset="0.222" stop-color="#494949" stop-opacity="0.800"/><stop offset="1.000" stop-color="#6a6a6a" stop-opacity="0.800"/></linearGradient>
<linearGradient id="gsh2" x1="815" y1="0" x2="950" y2="0" gradientUnits="userSpaceOnUse"><stop offset="0.000" stop-color="#1c1c1c" stop-opacity="0.800"/><stop offset="0.222" stop-color="#4a4a4a" stop-opacity="0.800"/><stop offset="1.000" stop-color="#707070" stop-opacity="0.800"/></linearGradient>
<linearGradient id="gsh3" x1="815" y1="0" x2="950" y2="0" gradientUnits="userSpaceOnUse"><stop offset="0.000" stop-color="#1c1c1c" stop-opacity="0.800"/><stop offset="0.222" stop-color="#404040" stop-opacity="0.800"/><stop offset="1.000" stop-color="#666666" stop-opacity="0.800"/></linearGradient>
<linearGradient id="gsh4" x1="815" y1="0" x2="950" y2="0" gradientUnits="userSpaceOnUse"><stop offset="0.000" stop-color="#1c1c1c" stop-opacity="0.800"/><stop offset="0.222" stop-color="#383838" stop-opacity="0.800"/><stop offset="1.000" stop-color="#585858" stop-opacity="0.800"/></linearGradient>
<linearGradient id="gsh5" x1="815" y1="0" x2="950" y2="0" gradientUnits="userSpaceOnUse"><stop offset="0.000" stop-color="#1c1c1c" stop-opacity="0.800"/><stop offset="0.222" stop-color="#393939" stop-opacity="0.800"/><stop offset="1.000" stop-color="#545454" stop-opacity="0.800"/></linearGradient>
<linearGradient id="gsh6" x1="815" y1="0" x2="950" y2="0" gradientUnits="userSpaceOnUse"><stop offset="0.000" stop-color="#333333" stop-opacity="0.000"/><stop offset="0.222" stop-color="#424242" stop-opacity="0.800"/><stop offset="1.000" stop-color="#676767" stop-opacity="0.800"/></linearGradient>
<linearGradient id="gsh7" x1="815" y1="0" x2="950" y2="0" gradientUnits="userSpaceOnUse"><stop offset="0.000" stop-color="#1c1c1c" stop-opacity="0.800"/><stop offset="0.222" stop-color="#434343" stop-opacity="0.800"/><stop offset="1.000" stop-color="#646464" stop-opacity="0.800"/></linearGradient>
<linearGradient id="gsh8" x1="815" y1="0" x2="950" y2="0" gradientUnits="userSpaceOnUse"><stop offset="0.000" stop-color="#1c1c1c" stop-opacity="0.800"/><stop offset="0.222" stop-color="#3f3f3f" stop-opacity="0.800"/><stop offset="1.000" stop-color="#606060" stop-opacity="0.800"/></linearGradient>
<linearGradient id="gsh9" x1="815" y1="0" x2="950" y2="0" gradientUnits="userSpaceOnUse"><stop offset="0.000" stop-color="#1c1c1c" stop-opacity="0.800"/><stop offset="0.222" stop-color="#272727" stop-opacity="0.800"/><stop offset="1.000" stop-color="#343434" stop-opacity="0.800"/></linearGradient>
<linearGradient id="gsh10" x1="815" y1="0" x2="950" y2="0" gradientUnits="userSpaceOnUse"><stop offset="0.000" stop-color="#1c1c1c" stop-opacity="0.800"/><stop offset="0.222" stop-color="#272727" stop-opacity="0.800"/><stop offset="1.000" stop-color="#333333" stop-opacity="0.800"/></linearGradient>
<linearGradient id="gsh11" x1="815" y1="0" x2="950" y2="0" gradientUnits="userSpaceOnUse"><stop offset="0.000" stop-color="#1c1c1c" stop-opacity="0.800"/><stop offset="0.222" stop-color="#282828" stop-opacity="0.800"/><stop offset="1.000" stop-color="#333333" stop-opacity="0.800"/></linearGradient>
<linearGradient id="gsh12" x1="815" y1="0" x2="950" y2="0" gradientUnits="userSpaceOnUse"><stop offset="0.000" stop-color="#1c1c1c" stop-opacity="0.800"/><stop offset="0.222" stop-color="#252525" stop-opacity="0.800"/><stop offset="1.000" stop-color="#2f2f2f" stop-opacity="0.800"/></linearGradient>
<linearGradient id="gsh13" x1="830" y1="0" x2="950" y2="0" gradientUnits="userSpaceOnUse"><stop offset="0.000" stop-color="#1e1e1e" stop-opacity="0.000"/><stop offset="0.250" stop-color="#212121" stop-opacity="0.800"/><stop offset="1.000" stop-color="#252525" stop-opacity="0.800"/></linearGradient>
<linearGradient id="gsh14" x1="815" y1="0" x2="950" y2="0" gradientUnits="userSpaceOnUse"><stop offset="0.000" stop-color="#191919" stop-opacity="0.800"/><stop offset="0.222" stop-color="#1d1d1d" stop-opacity="0.800"/><stop offset="1.000" stop-color="#212121" stop-opacity="0.800"/></linearGradient>
<linearGradient id="gsh15" x1="820" y1="0" x2="950" y2="0" gradientUnits="userSpaceOnUse"><stop offset="0.000" stop-color="#1c1c1c" stop-opacity="0.000"/><stop offset="0.231" stop-color="#1d1d1d" stop-opacity="0.800"/><stop offset="1.000" stop-color="#212121" stop-opacity="0.800"/></linearGradient>
<linearGradient id="gsh16" x1="830" y1="0" x2="950" y2="0" gradientUnits="userSpaceOnUse"><stop offset="0.000" stop-color="#1c1c1c" stop-opacity="0.000"/><stop offset="0.250" stop-color="#1d1d1d" stop-opacity="0.800"/><stop offset="1.000" stop-color="#212121" stop-opacity="0.800"/></linearGradient>
<linearGradient id="gsh17" x1="840" y1="0" x2="950" y2="0" gradientUnits="userSpaceOnUse"><stop offset="0.000" stop-color="#1c1c1c" stop-opacity="0.000"/><stop offset="0.273" stop-color="#1d1d1d" stop-opacity="0.800"/><stop offset="1.000" stop-color="#212121" stop-opacity="0.800"/></linearGradient>
<linearGradient id="gsh18" x1="850" y1="0" x2="950" y2="0" gradientUnits="userSpaceOnUse"><stop offset="0.000" stop-color="#191919" stop-opacity="0.000"/><stop offset="0.300" stop-color="#1b1b1b" stop-opacity="0.800"/><stop offset="1.000" stop-color="#1e1e1e" stop-opacity="0.800"/></linearGradient>
<linearGradient id="gsh19" x1="850" y1="0" x2="950" y2="0" gradientUnits="userSpaceOnUse"><stop offset="0.000" stop-color="#191919" stop-opacity="0.000"/><stop offset="0.300" stop-color="#1b1b1b" stop-opacity="0.800"/><stop offset="1.000" stop-color="#1e1e1e" stop-opacity="0.800"/></linearGradient>
<linearGradient id="gsh20" x1="830" y1="0" x2="950" y2="0" gradientUnits="userSpaceOnUse"><stop offset="0.000" stop-color="#242424" stop-opacity="0.000"/><stop offset="0.250" stop-color="#303030" stop-opacity="0.800"/><stop offset="1.000" stop-color="#4c4c4c" stop-opacity="0.800"/></linearGradient>
<linearGradient id="gsh21" x1="840" y1="0" x2="950" y2="0" gradientUnits="userSpaceOnUse"><stop offset="0.000" stop-color="#242424" stop-opacity="0.000"/><stop offset="0.273" stop-color="#2f2f2f" stop-opacity="0.800"/><stop offset="1.000" stop-color="#494949" stop-opacity="0.800"/></linearGradient>
<linearGradient id="gsh22" x1="840" y1="0" x2="950" y2="0" gradientUnits="userSpaceOnUse"><stop offset="0.000" stop-color="#212121" stop-opacity="0.000"/><stop offset="0.273" stop-color="#282828" stop-opacity="0.800"/><stop offset="1.000" stop-color="#3a3a3a" stop-opacity="0.800"/></linearGradient>
<linearGradient id="gsh23" x1="820" y1="0" x2="950" y2="0" gradientUnits="userSpaceOnUse"><stop offset="0.000" stop-color="#202020" stop-opacity="0.000"/><stop offset="0.231" stop-color="#272727" stop-opacity="0.800"/><stop offset="1.000" stop-color="#373737" stop-opacity="0.800"/></linearGradient>
<linearGradient id="gsh24" x1="815" y1="0" x2="950" y2="0" gradientUnits="userSpaceOnUse"><stop offset="0.000" stop-color="#191919" stop-opacity="0.800"/><stop offset="0.222" stop-color="#252525" stop-opacity="0.800"/><stop offset="1.000" stop-color="#333333" stop-opacity="0.800"/></linearGradient>
<linearGradient id="gsh25" x1="830" y1="0" x2="950" y2="0" gradientUnits="userSpaceOnUse"><stop offset="0.000" stop-color="#1e1e1e" stop-opacity="0.000"/><stop offset="0.250" stop-color="#232323" stop-opacity="0.800"/><stop offset="1.000" stop-color="#2f2f2f" stop-opacity="0.800"/></linearGradient>
<linearGradient id="gsh26" x1="840" y1="0" x2="950" y2="0" gradientUnits="userSpaceOnUse"><stop offset="0.000" stop-color="#1c1c1c" stop-opacity="0.000"/><stop offset="0.273" stop-color="#1f1f1f" stop-opacity="0.800"/><stop offset="1.000" stop-color="#272727" stop-opacity="0.800"/></linearGradient>
<linearGradient id="gsh27" x1="830" y1="0" x2="950" y2="0" gradientUnits="userSpaceOnUse"><stop offset="0.000" stop-color="#1b1b1b" stop-opacity="0.000"/><stop offset="0.250" stop-color="#1e1e1e" stop-opacity="0.800"/><stop offset="1.000" stop-color="#262626" stop-opacity="0.800"/></linearGradient>
<linearGradient id="gsh28" x1="870" y1="0" x2="950" y2="0" gradientUnits="userSpaceOnUse"><stop offset="0.000" stop-color="#1f1f1f" stop-opacity="0.000"/><stop offset="0.375" stop-color="#222222" stop-opacity="0.800"/><stop offset="1.000" stop-color="#2a2a2a" stop-opacity="0.800"/></linearGradient>
<linearGradient id="gsh29" x1="850" y1="0" x2="950" y2="0" gradientUnits="userSpaceOnUse"><stop offset="0.000" stop-color="#242424" stop-opacity="0.000"/><stop offset="0.300" stop-color="#282828" stop-opacity="0.800"/><stop offset="1.000" stop-color="#323232" stop-opacity="0.800"/></linearGradient>
<linearGradient id="gsh30" x1="870" y1="0" x2="950" y2="0" gradientUnits="userSpaceOnUse"><stop offset="0.000" stop-color="#1d1d1d" stop-opacity="0.000"/><stop offset="0.375" stop-color="#222222" stop-opacity="0.800"/><stop offset="1.000" stop-color="#2e2e2e" stop-opacity="0.800"/></linearGradient>
<linearGradient id="gsh31" x1="860" y1="0" x2="950" y2="0" gradientUnits="userSpaceOnUse"><stop offset="0.000" stop-color="#242424" stop-opacity="0.000"/><stop offset="0.333" stop-color="#2a2a2a" stop-opacity="0.800"/><stop offset="1.000" stop-color="#383838" stop-opacity="0.800"/></linearGradient>
<linearGradient id="gsh32" x1="840" y1="0" x2="950" y2="0" gradientUnits="userSpaceOnUse"><stop offset="0.000" stop-color="#232323" stop-opacity="0.000"/><stop offset="0.273" stop-color="#2a2a2a" stop-opacity="0.800"/><stop offset="1.000" stop-color="#393939" stop-opacity="0.800"/></linearGradient>
<linearGradient id="gsh33" x1="840" y1="0" x2="950" y2="0" gradientUnits="userSpaceOnUse"><stop offset="0.000" stop-color="#1f1f1f" stop-opacity="0.000"/><stop offset="0.273" stop-color="#252525" stop-opacity="0.800"/><stop offset="1.000" stop-color="#353535" stop-opacity="0.800"/></linearGradient>
<linearGradient id="gsh34" x1="860" y1="0" x2="950" y2="0" gradientUnits="userSpaceOnUse"><stop offset="0.000" stop-color="#262626" stop-opacity="0.000"/><stop offset="0.333" stop-color="#2c2c2c" stop-opacity="0.800"/><stop offset="1.000" stop-color="#3d3d3d" stop-opacity="0.800"/></linearGradient>
<linearGradient id="gsh35" x1="860" y1="0" x2="950" y2="0" gradientUnits="userSpaceOnUse"><stop offset="0.000" stop-color="#232323" stop-opacity="0.000"/><stop offset="0.333" stop-color="#2a2a2a" stop-opacity="0.800"/><stop offset="1.000" stop-color="#3a3a3a" stop-opacity="0.800"/></linearGradient>
<linearGradient id="gsh36" x1="870" y1="0" x2="950" y2="0" gradientUnits="userSpaceOnUse"><stop offset="0.000" stop-color="#202020" stop-opacity="0.000"/><stop offset="0.375" stop-color="#272727" stop-opacity="0.800"/><stop offset="1.000" stop-color="#373737" stop-opacity="0.800"/></linearGradient>
<linearGradient id="gsh37" x1="840" y1="0" x2="950" y2="0" gradientUnits="userSpaceOnUse"><stop offset="0.000" stop-color="#222222" stop-opacity="0.000"/><stop offset="0.273" stop-color="#292929" stop-opacity="0.800"/><stop offset="1.000" stop-color="#393939" stop-opacity="0.800"/></linearGradient>
<linearGradient id="gsh38" x1="840" y1="0" x2="950" y2="0" gradientUnits="userSpaceOnUse"><stop offset="0.000" stop-color="#262626" stop-opacity="0.000"/><stop offset="0.273" stop-color="#2d2d2d" stop-opacity="0.800"/><stop offset="1.000" stop-color="#3e3e3e" stop-opacity="0.800"/></linearGradient>
<linearGradient id="gsh39" x1="860" y1="0" x2="950" y2="0" gradientUnits="userSpaceOnUse"><stop offset="0.000" stop-color="#202020" stop-opacity="0.000"/><stop offset="0.333" stop-color="#272727" stop-opacity="0.800"/><stop offset="1.000" stop-color="#373737" stop-opacity="0.800"/></linearGradient>
<linearGradient id="gsh40" x1="830" y1="0" x2="950" y2="0" gradientUnits="userSpaceOnUse"><stop offset="0.000" stop-color="#1f1f1f" stop-opacity="0.000"/><stop offset="0.250" stop-color="#272727" stop-opacity="0.800"/><stop offset="1.000" stop-color="#373737" stop-opacity="0.800"/></linearGradient>
<linearGradient id="gsh41" x1="870" y1="0" x2="950" y2="0" gradientUnits="userSpaceOnUse"><stop offset="0.000" stop-color="#222222" stop-opacity="0.000"/><stop offset="0.375" stop-color="#292929" stop-opacity="0.800"/><stop offset="1.000" stop-color="#3a3a3a" stop-opacity="0.800"/></linearGradient>
<linearGradient id="gsh42" x1="840" y1="0" x2="950" y2="0" gradientUnits="userSpaceOnUse"><stop offset="0.000" stop-color="#1e1e1e" stop-opacity="0.000"/><stop offset="0.273" stop-color="#262626" stop-opacity="0.800"/><stop offset="1.000" stop-color="#363636" stop-opacity="0.800"/></linearGradient>
<linearGradient id="gsh43" x1="830" y1="0" x2="950" y2="0" gradientUnits="userSpaceOnUse"><stop offset="0.000" stop-color="#202020" stop-opacity="0.000"/><stop offset="0.250" stop-color="#282828" stop-opacity="0.800"/><stop offset="1.000" stop-color="#383838" stop-opacity="0.800"/></linearGradient>
<linearGradient id="gsh44" x1="840" y1="0" x2="950" y2="0" gradientUnits="userSpaceOnUse"><stop offset="0.000" stop-color="#272727" stop-opacity="0.000"/><stop offset="0.273" stop-color="#2e2e2e" stop-opacity="0.800"/><stop offset="1.000" stop-color="#3f3f3f" stop-opacity="0.800"/></linearGradient>
<linearGradient id="gsh45" x1="840" y1="0" x2="950" y2="0" gradientUnits="userSpaceOnUse"><stop offset="0.000" stop-color="#262626" stop-opacity="0.000"/><stop offset="0.273" stop-color="#2e2e2e" stop-opacity="0.800"/><stop offset="1.000" stop-color="#3f3f3f" stop-opacity="0.800"/></linearGradient>
<linearGradient id="gsh46" x1="850" y1="0" x2="950" y2="0" gradientUnits="userSpaceOnUse"><stop offset="0.000" stop-color="#222222" stop-opacity="0.000"/><stop offset="0.300" stop-color="#292929" stop-opacity="0.800"/><stop offset="1.000" stop-color="#3a3a3a" stop-opacity="0.800"/></linearGradient>
<linearGradient id="gsh47" x1="840" y1="0" x2="950" y2="0" gradientUnits="userSpaceOnUse"><stop offset="0.000" stop-color="#242424" stop-opacity="0.000"/><stop offset="0.273" stop-color="#2b2b2b" stop-opacity="0.800"/><stop offset="1.000" stop-color="#3d3d3d" stop-opacity="0.800"/></linearGradient>
<linearGradient id="gsh48" x1="840" y1="0" x2="950" y2="0" gradientUnits="userSpaceOnUse"><stop offset="0.000" stop-color="#212121" stop-opacity="0.000"/><stop offset="0.273" stop-color="#282828" stop-opacity="0.800"/><stop offset="1.000" stop-color="#3a3a3a" stop-opacity="0.800"/></linearGradient>
<linearGradient id="gsh49" x1="840" y1="0" x2="950" y2="0" gradientUnits="userSpaceOnUse"><stop offset="0.000" stop-color="#282828" stop-opacity="0.000"/><stop offset="0.273" stop-color="#2f2f2f" stop-opacity="0.800"/><stop offset="1.000" stop-color="#424242" stop-opacity="0.800"/></linearGradient>
<linearGradient id="gsh50" x1="860" y1="0" x2="950" y2="0" gradientUnits="userSpaceOnUse"><stop offset="0.000" stop-color="#222222" stop-opacity="0.000"/><stop offset="0.333" stop-color="#2a2a2a" stop-opacity="0.800"/><stop offset="1.000" stop-color="#3c3c3c" stop-opacity="0.800"/></linearGradient>
<linearGradient id="gsh51" x1="850" y1="0" x2="950" y2="0" gradientUnits="userSpaceOnUse"><stop offset="0.000" stop-color="#232323" stop-opacity="0.000"/><stop offset="0.300" stop-color="#2b2b2b" stop-opacity="0.800"/><stop offset="1.000" stop-color="#3f3f3f" stop-opacity="0.800"/></linearGradient>
<linearGradient id="gsh52" x1="840" y1="0" x2="950" y2="0" gradientUnits="userSpaceOnUse"><stop offset="0.000" stop-color="#222222" stop-opacity="0.000"/><stop offset="0.273" stop-color="#2b2b2b" stop-opacity="0.800"/><stop offset="1.000" stop-color="#3f3f3f" stop-opacity="0.800"/></linearGradient>
<linearGradient id="gsh53" x1="850" y1="0" x2="950" y2="0" gradientUnits="userSpaceOnUse"><stop offset="0.000" stop-color="#232323" stop-opacity="0.000"/><stop offset="0.300" stop-color="#2b2b2b" stop-opacity="0.800"/><stop offset="1.000" stop-color="#404040" stop-opacity="0.800"/></linearGradient>
<linearGradient id="gsh54" x1="870" y1="0" x2="950" y2="0" gradientUnits="userSpaceOnUse"><stop offset="0.000" stop-color="#262626" stop-opacity="0.000"/><stop offset="0.375" stop-color="#2e2e2e" stop-opacity="0.800"/><stop offset="1.000" stop-color="#434343" stop-opacity="0.800"/></linearGradient>
<linearGradient id="gsh55" x1="870" y1="0" x2="950" y2="0" gradientUnits="userSpaceOnUse"><stop offset="0.000" stop-color="#272727" stop-opacity="0.000"/><stop offset="0.375" stop-color="#303030" stop-opacity="0.800"/><stop offset="1.000" stop-color="#464646" stop-opacity="0.800"/></linearGradient>
<linearGradient id="gsh56" x1="850" y1="0" x2="950" y2="0" gradientUnits="userSpaceOnUse"><stop offset="0.000" stop-color="#222222" stop-opacity="0.000"/><stop offset="0.300" stop-color="#2c2c2c" stop-opacity="0.800"/><stop offset="1.000" stop-color="#434343" stop-opacity="0.800"/></linearGradient>
<linearGradient id="gsh57" x1="850" y1="0" x2="950" y2="0" gradientUnits="userSpaceOnUse"><stop offset="0.000" stop-color="#292929" stop-opacity="0.000"/><stop offset="0.300" stop-color="#343434" stop-opacity="0.800"/><stop offset="1.000" stop-color="#4d4d4d" stop-opacity="0.800"/></linearGradient>
<linearGradient id="g828" x1="0" y1="0" x2="0" y2="1"><stop offset="0.0000" stop-color="#3b3b3b"/><stop offset="0.0208" stop-color="#3b3b3b"/><stop offset="0.0417" stop-color="#3c3c3c"/><stop offset="0.0833" stop-color="#3d3d3d"/><stop offset="0.1250" stop-color="#3d3d3d"/><stop offset="0.1667" stop-color="#3e3e3e"/><stop offset="0.2083" stop-color="#3f3f3f"/><stop offset="0.2500" stop-color="#414141"/><stop offset="0.2917" stop-color="#444444"/><stop offset="0.3333" stop-color="#474747"/><stop offset="0.3750" stop-color="#494949"/><stop offset="0.4167" stop-color="#494949"/><stop offset="0.4583" stop-color="#494949"/><stop offset="0.5000" stop-color="#474747"/><stop offset="0.5292" stop-color="#464646"/><stop offset="0.5417" stop-color="#454545"/><stop offset="0.5833" stop-color="#474747"/><stop offset="0.6250" stop-color="#494949"/><stop offset="0.6667" stop-color="#474747"/><stop offset="0.7083" stop-color="#454545"/><stop offset="0.7292" stop-color="#414141"/><stop offset="0.7500" stop-color="#3e3e3e"/><stop offset="0.7917" stop-color="#3c3c3c"/><stop offset="0.8125" stop-color="#3b3b3b"/><stop offset="0.8333" stop-color="#3b3b3b"/><stop offset="0.8750" stop-color="#3a3a3a"/><stop offset="0.9167" stop-color="#3a3a3a"/><stop offset="0.9583" stop-color="#3a3a3a"/><stop offset="1.0000" stop-color="#3a3a3a"/></linearGradient>
<linearGradient id="g925" x1="0" y1="0" x2="0" y2="1"><stop offset="0.0000" stop-color="#545454"/><stop offset="0.0208" stop-color="#545454"/><stop offset="0.0417" stop-color="#545454"/><stop offset="0.0833" stop-color="#545454"/><stop offset="0.1250" stop-color="#545454"/><stop offset="0.1667" stop-color="#545454"/><stop offset="0.2083" stop-color="#545454"/><stop offset="0.2500" stop-color="#5d5d5d"/><stop offset="0.2917" stop-color="#6d6d6d"/><stop offset="0.3333" stop-color="#787878"/><stop offset="0.3750" stop-color="#7c7c7c"/><stop offset="0.4167" stop-color="#7c7c7c"/><stop offset="0.4583" stop-color="#7c7c7c"/><stop offset="0.5000" stop-color="#777777"/><stop offset="0.5292" stop-color="#6f6f6f"/><stop offset="0.5417" stop-color="#6a6a6a"/><stop offset="0.5833" stop-color="#757575"/><stop offset="0.6250" stop-color="#7c7c7c"/><stop offset="0.6667" stop-color="#777777"/><stop offset="0.7083" stop-color="#6c6c6c"/><stop offset="0.7292" stop-color="#555555"/><stop offset="0.7500" stop-color="#545454"/><stop offset="0.7917" stop-color="#545454"/><stop offset="0.8125" stop-color="#545454"/><stop offset="0.8333" stop-color="#545454"/><stop offset="0.8750" stop-color="#545454"/><stop offset="0.9167" stop-color="#545454"/><stop offset="0.9583" stop-color="#545454"/><stop offset="1.0000" stop-color="#545454"/></linearGradient>
<filter id="fh" filterUnits="userSpaceOnUse" x="815" y="115" width="135" height="1439" color-interpolation-filters="sRGB"><feTurbulence type="fractalNoise" baseFrequency="0.85 0.13" numOctaves="2" seed="7" result="n1r"/><feColorMatrix in="n1r" type="matrix" values="1 0 0 0 0 1 0 0 0 0 1 0 0 0 0 0 0 0 0 1" result="n1" /><feComponentTransfer in="n1" result="n1s"><feFuncR type="table" tableValues=".30 .34 .40 .46 .5 .57 .70 .86 1"/><feFuncG type="table" tableValues=".30 .34 .40 .46 .5 .57 .70 .86 1"/><feFuncB type="table" tableValues=".30 .34 .40 .46 .5 .57 .70 .86 1"/></feComponentTransfer><feTurbulence type="fractalNoise" baseFrequency="0.003 0.28" numOctaves="2" seed="3" result="ncr"/><feColorMatrix in="ncr" type="matrix" values="1 0 0 0 0 1 0 0 0 0 1 0 0 0 0 0 0 0 0 1" result="nc" /><feComponentTransfer in="nc" result="ncs"><feFuncR type="table" tableValues=".30 .34 .40 .46 .5 .57 .70 .86 1"/><feFuncG type="table" tableValues=".30 .34 .40 .46 .5 .57 .70 .86 1"/><feFuncB type="table" tableValues=".30 .34 .40 .46 .5 .57 .70 .86 1"/></feComponentTransfer><feComposite in="SourceGraphic" in2="n1s" operator="arithmetic" k1="3.0" k2="-0.5000" k3="-0.1800" k4="0.0900" result="v1"/><feComposite in="v1" in2="nc" operator="arithmetic" k1="1.4" k2="0.3000" k3="-0.0840" k4="0.0420" result="v2"/><feComposite in="v2" in2="n1" operator="arithmetic" k1="0" k2="1" k3="0.12" k4="-0.0600" result="v3"/><feComponentTransfer><feFuncR type="table" tableValues="0 0 0 0 .5 1 1 1 .5"/><feFuncG type="table" tableValues="0 0 .5 1 1 1 .5 0 0"/><feFuncB type="table" tableValues=".5 1 1 1 .5 0 0 0 0"/></feComponentTransfer></filter>
<linearGradient id="c828" x1="0" y1="0" x2="0" y2="1"><stop offset="0.0000" stop-color="#002dff"/><stop offset="0.0208" stop-color="#0032ff"/><stop offset="0.0417" stop-color="#003bff"/><stop offset="0.0833" stop-color="#003fff"/><stop offset="0.1250" stop-color="#0044ff"/><stop offset="0.1667" stop-color="#0048ff"/><stop offset="0.2083" stop-color="#0053ff"/><stop offset="0.2500" stop-color="#0065ff"/><stop offset="0.2917" stop-color="#0083ff"/><stop offset="0.3333" stop-color="#009dff"/><stop offset="0.3750" stop-color="#00a9ff"/><stop offset="0.4167" stop-color="#00a9ff"/><stop offset="0.4583" stop-color="#00a9ff"/><stop offset="0.5000" stop-color="#009dff"/><stop offset="0.5292" stop-color="#008eff"/><stop offset="0.5417" stop-color="#0087ff"/><stop offset="0.5833" stop-color="#0099ff"/><stop offset="0.6250" stop-color="#00a9ff"/><stop offset="0.6667" stop-color="#009dff"/><stop offset="0.7083" stop-color="#0087ff"/><stop offset="0.7292" stop-color="#0065ff"/><stop offset="0.7500" stop-color="#0048ff"/><stop offset="0.7917" stop-color="#003bff"/><stop offset="0.8125" stop-color="#0032ff"/><stop offset="0.8333" stop-color="#002dff"/><stop offset="0.8750" stop-color="#0029ff"/><stop offset="0.9167" stop-color="#0029ff"/><stop offset="0.9583" stop-color="#0029ff"/><stop offset="1.0000" stop-color="#0029ff"/></linearGradient>
<linearGradient id="c925" x1="0" y1="0" x2="0" y2="1"><stop offset="0.0000" stop-color="#00f0ff"/><stop offset="0.0208" stop-color="#00f0ff"/><stop offset="0.0417" stop-color="#00f0ff"/><stop offset="0.0833" stop-color="#00f0ff"/><stop offset="0.1250" stop-color="#00f0ff"/><stop offset="0.1667" stop-color="#00f0ff"/><stop offset="0.2083" stop-color="#00f0ff"/><stop offset="0.2500" stop-color="#30ffcf"/><stop offset="0.2917" stop-color="#82ff7d"/><stop offset="0.3333" stop-color="#bbff44"/><stop offset="0.3750" stop-color="#cbff34"/><stop offset="0.4167" stop-color="#cbff34"/><stop offset="0.4583" stop-color="#cbff34"/><stop offset="0.5000" stop-color="#b3ff4c"/><stop offset="0.5292" stop-color="#8aff75"/><stop offset="0.5417" stop-color="#71ff8e"/><stop offset="0.5833" stop-color="#aaff55"/><stop offset="0.6250" stop-color="#cbff34"/><stop offset="0.6667" stop-color="#b3ff4c"/><stop offset="0.7083" stop-color="#79ff86"/><stop offset="0.7292" stop-color="#07fff8"/><stop offset="0.7500" stop-color="#00f0ff"/><stop offset="0.7917" stop-color="#00f0ff"/><stop offset="0.8125" stop-color="#00f0ff"/><stop offset="0.8333" stop-color="#00f0ff"/><stop offset="0.8750" stop-color="#00f0ff"/><stop offset="0.9167" stop-color="#00f0ff"/><stop offset="0.9583" stop-color="#00f0ff"/><stop offset="1.0000" stop-color="#00f0ff"/></linearGradient>
<linearGradient id="c924" x1="0" y1="0" x2="0" y2="1"><stop offset="0.0000" stop-color="#002eff"/><stop offset="0.0208" stop-color="#002eff"/><stop offset="0.0417" stop-color="#003aff"/><stop offset="0.0833" stop-color="#003fff"/><stop offset="0.1250" stop-color="#0045ff"/><stop offset="0.1667" stop-color="#0050ff"/><stop offset="0.2083" stop-color="#0067ff"/><stop offset="0.2500" stop-color="#0093ff"/><stop offset="0.2917" stop-color="#00cbff"/><stop offset="0.3333" stop-color="#00f3ff"/><stop offset="0.3750" stop-color="#00feff"/><stop offset="0.4167" stop-color="#00feff"/><stop offset="0.4583" stop-color="#00feff"/><stop offset="0.5000" stop-color="#00edff"/><stop offset="0.5292" stop-color="#00d1ff"/><stop offset="0.5417" stop-color="#00c0ff"/><stop offset="0.5833" stop-color="#00e8ff"/><stop offset="0.6250" stop-color="#00feff"/><stop offset="0.6667" stop-color="#00edff"/><stop offset="0.7083" stop-color="#00c6ff"/><stop offset="0.7292" stop-color="#0077ff"/><stop offset="0.7500" stop-color="#0034ff"/><stop offset="0.7917" stop-color="#002eff"/><stop offset="0.8125" stop-color="#002eff"/><stop offset="0.8333" stop-color="#002eff"/><stop offset="0.8750" stop-color="#002eff"/><stop offset="0.9167" stop-color="#002eff"/><stop offset="0.9583" stop-color="#002eff"/><stop offset="1.0000" stop-color="#002eff"/></linearGradient>
<linearGradient id="gdm" x1="0" y1="115" x2="0" y2="1554" gradientUnits="userSpaceOnUse"><stop offset="0.0000" stop-color="#fff" stop-opacity="1.000"/><stop offset="0.0208" stop-color="#fff" stop-opacity="1.000"/><stop offset="0.0417" stop-color="#fff" stop-opacity="0.843"/><stop offset="0.0833" stop-color="#fff" stop-opacity="0.825"/><stop offset="0.1250" stop-color="#fff" stop-opacity="0.807"/><stop offset="0.1667" stop-color="#fff" stop-opacity="0.772"/><stop offset="0.2083" stop-color="#fff" stop-opacity="0.703"/><stop offset="0.2500" stop-color="#fff" stop-opacity="0.562"/><stop offset="0.2917" stop-color="#fff" stop-opacity="0.388"/><stop offset="0.3333" stop-color="#fff" stop-opacity="0.265"/><stop offset="0.3750" stop-color="#fff" stop-opacity="0.250"/><stop offset="0.4167" stop-color="#fff" stop-opacity="0.250"/><stop offset="0.4583" stop-color="#fff" stop-opacity="0.250"/><stop offset="0.5000" stop-color="#fff" stop-opacity="0.282"/><stop offset="0.5292" stop-color="#fff" stop-opacity="0.370"/><stop offset="0.5417" stop-color="#fff" stop-opacity="0.423"/><stop offset="0.5833" stop-color="#fff" stop-opacity="0.300"/><stop offset="0.6250" stop-color="#fff" stop-opacity="0.250"/><stop offset="0.6667" stop-color="#fff" stop-opacity="0.282"/><stop offset="0.7083" stop-color="#fff" stop-opacity="0.405"/><stop offset="0.7292" stop-color="#fff" stop-opacity="0.650"/><stop offset="0.7500" stop-color="#fff" stop-opacity="0.860"/><stop offset="0.7917" stop-color="#fff" stop-opacity="0.948"/><stop offset="0.8125" stop-color="#fff" stop-opacity="1.000"/><stop offset="0.8333" stop-color="#fff" stop-opacity="1.000"/><stop offset="0.8750" stop-color="#fff" stop-opacity="1.000"/><stop offset="0.9167" stop-color="#fff" stop-opacity="1.000"/><stop offset="0.9583" stop-color="#fff" stop-opacity="1.000"/><stop offset="1.0000" stop-color="#fff" stop-opacity="1.000"/></linearGradient>
<mask id="mdash" maskUnits="userSpaceOnUse" x="900" y="115" width="8" height="1439"><rect x="900" y="115" width="8" height="1439" fill="url(#gdm)"/></mask></defs><rect x="51" y="115" width="24" height="1439" fill="url(#gl0)" filter="url(#fl0)"/>
<rect x="75" y="115" width="85" height="1439" fill="url(#gl1)" filter="url(#fl1)"/>
<rect x="160" y="115" width="50" height="1439" fill="url(#gl2)" filter="url(#fl2)"/>
<rect x="210" y="115" width="35" height="1439" fill="url(#gl3)" filter="url(#fl3)"/>
<rect x="245" y="115" width="28" height="1439" fill="url(#gl4)" filter="url(#fl4)"/>
<rect x="273" y="115" width="22" height="1439" fill="url(#gl5)" filter="url(#fl5)"/>
<rect x="295" y="115" width="19" height="1439" fill="url(#gl6)" filter="url(#fl6)"/>
<rect x="314" y="115" width="16" height="1439" fill="url(#gl7)" filter="url(#fl7)"/>
<rect x="330" y="115" width="15" height="1439" fill="url(#gl8)" filter="url(#fl8)"/>
<rect x="345" y="115" width="13" height="1439" fill="url(#gl9)" filter="url(#fl9)"/>
<rect x="358" y="115" width="12" height="1439" fill="url(#gl10)" filter="url(#fl10)"/>
<rect x="370" y="115" width="10" height="1439" fill="url(#gl11)" filter="url(#fl11)"/>
<rect x="380" y="115" width="10" height="1439" fill="url(#gl12)" filter="url(#fl12)"/>
<rect x="390" y="115" width="9" height="1439" fill="url(#gl13)" filter="url(#fl13)"/>
<rect x="399" y="115" width="9" height="1439" fill="url(#gl14)" filter="url(#fl14)"/>
<rect x="408" y="115" width="8" height="1439" fill="url(#gl15)" filter="url(#fl15)"/>
<rect x="416" y="115" width="7" height="1439" fill="url(#gl16)" filter="url(#fl16)"/>
<rect x="423" y="115" width="7" height="1439" fill="url(#gl17)" filter="url(#fl17)"/>
<rect x="430" y="115" width="7" height="1439" fill="url(#gl18)" filter="url(#fl18)"/>
<rect x="437" y="115" width="6" height="1439" fill="url(#gl19)" filter="url(#fl19)"/>
<rect x="443" y="115" width="6" height="1439" fill="url(#gl20)" filter="url(#fl20)"/>
<rect x="449" y="115" width="6" height="1439" fill="url(#gl21)" filter="url(#fl21)"/>
<rect x="455" y="115" width="5" height="1439" fill="url(#gl22)" filter="url(#fl22)"/>
<rect x="460" y="115" width="6" height="1439" fill="url(#gl23)" filter="url(#fl23)"/>
<rect x="466" y="115" width="5" height="1439" fill="url(#gl24)" filter="url(#fl24)"/>
<rect x="471" y="115" width="4" height="1439" fill="url(#gl25)" filter="url(#fl25)"/>
<rect x="475" y="115" width="5" height="1439" fill="url(#gl26)" filter="url(#fl26)"/>
<rect x="480" y="115" width="5" height="1439" fill="url(#gl27)" filter="url(#fl27)"/>
<rect x="485" y="115" width="4" height="1439" fill="url(#gl28)" filter="url(#fl28)"/>
<rect x="489" y="115" width="4" height="1439" fill="url(#gl29)" filter="url(#fl29)"/>
<rect x="493" y="115" width="4" height="1439" fill="url(#gl30)" filter="url(#fl30)"/>
<rect x="497" y="115" width="4" height="1439" fill="url(#gl31)" filter="url(#fl31)"/>
<rect x="501" y="115" width="4" height="1439" fill="url(#gl32)" filter="url(#fl32)"/>
<rect x="505" y="115" width="4" height="1439" fill="url(#gl33)" filter="url(#fl33)"/>
<rect x="509" y="115" width="3" height="1439" fill="url(#gl34)" filter="url(#fl34)"/>
<rect x="512" y="115" width="4" height="1439" fill="url(#gl35)" filter="url(#fl35)"/>
<rect x="516" y="115" width="3" height="1439" fill="url(#gl36)" filter="url(#fl36)"/>
<rect x="519" y="115" width="3" height="1439" fill="url(#gl37)" filter="url(#fl37)"/>
<rect x="522" y="115" width="3" height="1439" fill="url(#gl38)" filter="url(#fl38)"/>
<rect x="525" y="115" width="4" height="1439" fill="url(#gl39)" filter="url(#fl39)"/>
<rect x="529" y="115" width="3" height="1439" fill="url(#gl40)" filter="url(#fl40)"/>
<g filter="url(#fm)"><rect x="532" y="115" width="283" height="1439" fill="url(#gm)"/><rect x="780" y="115" width="35" height="1439" fill="url(#gmd)" mask="url(#mmd)"/><rect x="790" y="1063" width="25" height="2" fill="url(#gs0)"/><rect x="780" y="882" width="35" height="2" fill="url(#gs1)"/><rect x="785" y="757" width="30" height="2" fill="url(#gs2)"/><rect x="775" y="700" width="40" height="2" fill="url(#gs3)"/><rect x="780" y="521" width="35" height="2" fill="url(#gs4)"/><rect x="790" y="480" width="25" height="2" fill="url(#gs5)"/><rect x="790" y="1132" width="25" height="2" fill="url(#gs7)"/><rect x="800" y="1123" width="15" height="2" fill="url(#gs8)"/><rect x="800" y="1206" width="15" height="2" fill="url(#gs9)"/><rect x="800" y="1215" width="15" height="2" fill="url(#gs10)"/><rect x="790" y="1240" width="25" height="2" fill="url(#gs11)"/><rect x="810" y="1251" width="5" height="2" fill="url(#gs12)"/><rect x="810" y="1358" width="5" height="2" fill="url(#gs14)"/><rect x="810" y="1195" width="5" height="2" fill="url(#gs24)"/></g>
<g filter="url(#fh)"><rect x="815.00" y="115" width="5.30" height="1439" fill="url(#gh0)"/><rect x="820.00" y="115" width="5.30" height="1439" fill="url(#gh1)"/><rect x="825.00" y="115" width="5.30" height="1439" fill="url(#gh2)"/><rect x="830.00" y="115" width="5.30" height="1439" fill="url(#gh3)"/><rect x="835.00" y="115" width="5.30" height="1439" fill="url(#gh4)"/><rect x="840.00" y="115" width="5.30" height="1439" fill="url(#gh5)"/><rect x="845.00" y="115" width="5.30" height="1439" fill="url(#gh6)"/><rect x="850.00" y="115" width="5.30" height="1439" fill="url(#gh7)"/><rect x="855.00" y="115" width="5.30" height="1439" fill="url(#gh8)"/><rect x="860.00" y="115" width="5.30" height="1439" fill="url(#gh9)"/><rect x="865.00" y="115" width="5.30" height="1439" fill="url(#gh10)"/><rect x="870.00" y="115" width="5.30" height="1439" fill="url(#gh11)"/><rect x="875.00" y="115" width="5.30" height="1439" fill="url(#gh12)"/><rect x="880.00" y="115" width="5.30" height="1439" fill="url(#gh13)"/><rect x="885.00" y="115" width="5.30" height="1439" fill="url(#gh14)"/><rect x="890.00" y="115" width="5.30" height="1439" fill="url(#gh15)"/><rect x="895.00" y="115" width="5.30" height="1439" fill="url(#gh16)"/><rect x="900.00" y="115" width="5.30" height="1439" fill="url(#gh17)"/><rect x="905.00" y="115" width="5.30" height="1439" fill="url(#gh18)"/><rect x="910.00" y="115" width="5.30" height="1439" fill="url(#gh19)"/><rect x="915.00" y="115" width="5.30" height="1439" fill="url(#gh20)"/><rect x="920.00" y="115" width="5.30" height="1439" fill="url(#gh21)"/><rect x="925.00" y="115" width="5.30" height="1439" fill="url(#gh22)"/><rect x="930.00" y="115" width="5.30" height="1439" fill="url(#gh23)"/><rect x="935.00" y="115" width="5.30" height="1439" fill="url(#gh24)"/><rect x="940.00" y="115" width="5.30" height="1439" fill="url(#gh25)"/><rect x="945.00" y="115" width="5.30" height="1439" fill="url(#gh26)"/><rect x="815" y="1063" width="135" height="2" fill="url(#gsh0)"/><rect x="815" y="882" width="135" height="2" fill="url(#gsh1)"/><rect x="815" y="757" width="135" height="2" fill="url(#gsh2)"/><rect x="815" y="700" width="135" height="2" fill="url(#gsh3)"/><rect x="815" y="521" width="135" height="2" fill="url(#gsh4)"/><rect x="815" y="480" width="135" height="2" fill="url(#gsh5)"/><rect x="815" y="966" width="135" height="2" fill="url(#gsh6)"/><rect x="815" y="1132" width="135" height="2" fill="url(#gsh7)"/><rect x="815" y="1123" width="135" height="2" fill="url(#gsh8)"/><rect x="815" y="1206" width="135" height="2" fill="url(#gsh9)"/><rect x="815" y="1215" width="135" height="2" fill="url(#gsh10)"/><rect x="815" y="1240" width="135" height="2" fill="url(#gsh11)"/><rect x="815" y="1251" width="135" height="2" fill="url(#gsh12)"/><rect x="830" y="1329" width="120" height="2" fill="url(#gsh13)"/><rect x="815" y="1358" width="135" height="2" fill="url(#gsh14)"/><rect x="820" y="1408" width="130" height="2" fill="url(#gsh15)"/><rect x="830" y="1437" width="120" height="2" fill="url(#gsh16)"/><rect x="840" y="1465" width="110" height="2" fill="url(#gsh17)"/><rect x="850" y="1509" width="100" height="2" fill="url(#gsh18)"/><rect x="850" y="1535" width="100" height="2" fill="url(#gsh19)"/><rect x="830" y="1148" width="120" height="2" fill="url(#gsh20)"/><rect x="840" y="1152" width="110" height="2" fill="url(#gsh21)"/><rect x="840" y="1180" width="110" height="2" fill="url(#gsh22)"/><rect x="820" y="1187" width="130" height="2" fill="url(#gsh23)"/><rect x="815" y="1195" width="135" height="2" fill="url(#gsh24)"/><rect x="830" y="1230" width="120" height="2" fill="url(#gsh25)"/><rect x="840" y="1277" width="110" height="2" fill="url(#gsh26)"/><rect x="830" y="1287" width="120" height="2" fill="url(#gsh27)"/><rect x="870" y="141" width="80" height="2" fill="url(#gsh28)"/><rect x="850" y="149" width="100" height="2" fill="url(#gsh29)"/><rect x="870" y="158" width="80" height="2" fill="url(#gsh30)"/><rect x="860" y="165" width="90" height="2" fill="url(#gsh31)"/><rect x="840" y="171" width="110" height="2" fill="url(#gsh32)"/><rect x="840" y="182" width="110" height="2" fill="url(#gsh33)"/><rect x="860" y="197" width="90" height="2" fill="url(#gsh34)"/><rect x="860" y="207" width="90" height="2" fill="url(#gsh35)"/><rect x="870" y="216" width="80" height="2" fill="url(#gsh36)"/><rect x="840" y="228" width="110" height="2" fill="url(#gsh37)"/><rect x="840" y="235" width="110" height="2" fill="url(#gsh38)"/><rect x="860" y="244" width="90" height="2" fill="url(#gsh39)"/><rect x="830" y="251" width="120" height="2" fill="url(#gsh40)"/><rect x="870" y="258" width="80" height="2" fill="url(#gsh41)"/><rect x="840" y="267" width="110" height="2" fill="url(#gsh42)"/><rect x="830" y="279" width="120" height="2" fill="url(#gsh43)"/><rect x="840" y="289" width="110" height="2" fill="url(#gsh44)"/><rect x="840" y="302" width="110" height="2" fill="url(#gsh45)"/><rect x="850" y="312" width="100" height="2" fill="url(#gsh46)"/><rect x="840" y="324" width="110" height="2" fill="url(#gsh47)"/><rect x="840" y="335" width="110" height="2" fill="url(#gsh48)"/><rect x="840" y="345" width="110" height="2" fill="url(#gsh49)"/><rect x="860" y="355" width="90" height="2" fill="url(#gsh50)"/><rect x="850" y="373" width="100" height="2" fill="url(#gsh51)"/><rect x="840" y="390" width="110" height="2" fill="url(#gsh52)"/><rect x="850" y="398" width="100" height="2" fill="url(#gsh53)"/><rect x="870" y="409" width="80" height="2" fill="url(#gsh54)"/><rect x="870" y="423" width="80" height="2" fill="url(#gsh55)"/><rect x="850" y="436" width="100" height="2" fill="url(#gsh56)"/><rect x="850" y="456" width="100" height="2" fill="url(#gsh57)"/><rect x="829" y="885" width="121" height="12" fill="#1f1f1f" opacity="0.6"/><rect x="896" y="115" width="1" height="1439" fill="#333333" opacity="0.5"/><rect x="874" y="115" width="1" height="1439" fill="#262626" opacity="0.3"/></g>
<rect x="924" y="115" width="1" height="1439" fill="url(#c924)" opacity="0.6"/>
<rect x="828" y="115" width="1" height="1439" fill="url(#c828)" opacity="0.85"/>
<rect x="925" y="115" width="1" height="1439" fill="url(#c925)" opacity="0.85"/>
<g mask="url(#mdash)"><path d="M902 1545.7h4v6h-4zM902 1533.8h4v6h-4zM902 1521.8h4v6h-4zM902 1509.9h4v6h-4zM902 1497.9h4v6h-4zM902 1485.9h4v6h-4zM902 1473.9h4v6h-4zM902 1461.9h4v6h-4zM902 1449.9h4v6h-4zM902 1437.8h4v6h-4zM902 1425.8h4v6h-4zM902 1413.7h4v6h-4zM902 1401.6h4v6h-4zM902 1389.5h4v6h-4zM902 1377.4h4v6h-4zM902 1365.3h4v6h-4zM902 1353.2h4v6h-4zM902 1341.0h4v6h-4zM902 1328.9h4v6h-4zM902 1316.7h4v6h-4zM902 1304.5h4v6h-4zM902 1292.4h4v6h-4zM902 1280.1h4v6h-4zM902 1267.9h4v6h-4zM902 1255.7h4v6h-4zM902 1243.4h4v6h-4zM902 1231.2h4v6h-4zM902 1218.9h4v6h-4zM902 1206.6h4v6h-4zM902 1194.3h4v6h-4zM902 1182.0h4v6h-4zM902 1169.7h4v6h-4zM902 1157.4h4v6h-4zM902 1145.0h4v6h-4zM902 1132.6h4v6h-4zM902 1120.3h4v6h-4zM902 1107.9h4v6h-4zM902 1095.5h4v6h-4zM902 1083.1h4v6h-4zM902 1070.6h4v6h-4zM902 1058.2h4v6h-4zM902 1045.7h4v6h-4zM902 1033.3h4v6h-4zM902 1020.8h4v6h-4zM902 1008.3h4v6h-4zM902 995.8h4v6h-4zM902 983.2h4v6h-4zM902 970.7h4v6h-4zM902 958.2h4v6h-4zM902 945.6h4v6h-4zM902 933.0h4v6h-4zM902 920.4h4v6h-4zM902 907.8h4v6h-4zM902 895.2h4v6h-4zM902 882.6h4v6h-4zM902 869.9h4v6h-4zM902 857.3h4v6h-4zM902 844.6h4v6h-4zM902 831.9h4v6h-4zM902 819.2h4v6h-4zM902 806.5h4v6h-4zM902 793.8h4v6h-4zM902 781.0h4v6h-4zM902 768.3h4v6h-4zM902 755.5h4v6h-4zM902 742.7h4v6h-4zM902 729.9h4v6h-4zM902 717.1h4v6h-4zM902 704.3h4v6h-4zM902 691.5h4v6h-4zM902 678.6h4v6h-4zM902 665.8h4v6h-4zM902 652.9h4v6h-4zM902 640.0h4v6h-4zM902 627.1h4v6h-4zM902 614.2h4v6h-4zM902 601.2h4v6h-4zM902 588.3h4v6h-4zM902 575.3h4v6h-4zM902 562.4h4v6h-4zM902 549.4h4v6h-4zM902 536.4h4v6h-4zM902 523.3h4v6h-4zM902 510.3h4v6h-4zM902 497.3h4v6h-4zM902 484.2h4v6h-4zM902 471.1h4v6h-4zM902 458.1h4v6h-4zM902 445.0h4v6h-4zM902 431.9h4v6h-4zM902 418.7h4v6h-4zM902 405.6h4v6h-4zM902 392.4h4v6h-4zM902 379.3h4v6h-4zM902 366.1h4v6h-4zM902 352.9h4v6h-4zM902 339.7h4v6h-4zM902 326.4h4v6h-4zM902 313.2h4v6h-4zM902 300.0h4v6h-4zM902 286.7h4v6h-4zM902 273.4h4v6h-4zM902 260.1h4v6h-4zM902 246.8h4v6h-4zM902 233.5h4v6h-4zM902 220.1h4v6h-4zM902 206.8h4v6h-4zM902 193.4h4v6h-4zM902 180.0h4v6h-4zM902 166.6h4v6h-4zM902 153.2h4v6h-4zM902 139.8h4v6h-4zM902 126.4h4v6h-4zM902 112.9h4v6h-4z" fill="#0060ff" opacity="0.6"/><path d="M903 1546.7h1v4h-1zM903 1534.8h1v4h-1zM903 1522.8h1v4h-1zM903 1510.9h1v4h-1zM903 1498.9h1v4h-1zM903 1486.9h1v4h-1zM903 1474.9h1v4h-1zM903 1462.9h1v4h-1zM903 1450.9h1v4h-1zM903 1438.8h1v4h-1zM903 1426.8h1v4h-1zM903 1414.7h1v4h-1zM903 1402.6h1v4h-1zM903 1390.5h1v4h-1zM903 1378.4h1v4h-1zM903 1366.3h1v4h-1zM903 1354.2h1v4h-1zM903 1342.0h1v4h-1zM903 1329.9h1v4h-1zM903 1317.7h1v4h-1zM903 1305.5h1v4h-1zM903 1293.4h1v4h-1zM903 1281.1h1v4h-1zM903 1268.9h1v4h-1zM903 1256.7h1v4h-1zM903 1244.4h1v4h-1zM903 1232.2h1v4h-1zM903 1219.9h1v4h-1zM903 1207.6h1v4h-1zM903 1195.3h1v4h-1zM903 1183.0h1v4h-1zM903 1170.7h1v4h-1zM903 1158.4h1v4h-1zM903 1146.0h1v4h-1zM903 1133.6h1v4h-1zM903 1121.3h1v4h-1zM903 1108.9h1v4h-1zM903 1096.5h1v4h-1zM903 1084.1h1v4h-1zM903 1071.6h1v4h-1zM903 1059.2h1v4h-1zM903 1046.7h1v4h-1zM903 1034.3h1v4h-1zM903 1021.8h1v4h-1zM903 1009.3h1v4h-1zM903 996.8h1v4h-1zM903 984.2h1v4h-1zM903 971.7h1v4h-1zM903 959.2h1v4h-1zM903 946.6h1v4h-1zM903 934.0h1v4h-1zM903 921.4h1v4h-1zM903 908.8h1v4h-1zM903 896.2h1v4h-1zM903 883.6h1v4h-1zM903 870.9h1v4h-1zM903 858.3h1v4h-1zM903 845.6h1v4h-1zM903 832.9h1v4h-1zM903 820.2h1v4h-1zM903 807.5h1v4h-1zM903 794.8h1v4h-1zM903 782.0h1v4h-1zM903 769.3h1v4h-1zM903 756.5h1v4h-1zM903 743.7h1v4h-1zM903 730.9h1v4h-1zM903 718.1h1v4h-1zM903 705.3h1v4h-1zM903 692.5h1v4h-1zM903 679.6h1v4h-1zM903 666.8h1v4h-1zM903 653.9h1v4h-1zM903 641.0h1v4h-1zM903 628.1h1v4h-1zM903 615.2h1v4h-1zM903 602.2h1v4h-1zM903 589.3h1v4h-1zM903 576.3h1v4h-1zM903 563.4h1v4h-1zM903 550.4h1v4h-1zM903 537.4h1v4h-1zM903 524.3h1v4h-1zM903 511.3h1v4h-1zM903 498.3h1v4h-1zM903 485.2h1v4h-1zM903 472.1h1v4h-1zM903 459.1h1v4h-1zM903 446.0h1v4h-1zM903 432.9h1v4h-1zM903 419.7h1v4h-1zM903 406.6h1v4h-1zM903 393.4h1v4h-1zM903 380.3h1v4h-1zM903 367.1h1v4h-1zM903 353.9h1v4h-1zM903 340.7h1v4h-1zM903 327.4h1v4h-1zM903 314.2h1v4h-1zM903 301.0h1v4h-1zM903 287.7h1v4h-1zM903 274.4h1v4h-1zM903 261.1h1v4h-1zM903 247.8h1v4h-1zM903 234.5h1v4h-1zM903 221.1h1v4h-1zM903 207.8h1v4h-1zM903 194.4h1v4h-1zM903 181.0h1v4h-1zM903 167.6h1v4h-1zM903 154.2h1v4h-1zM903 140.8h1v4h-1zM903 127.4h1v4h-1zM903 113.9h1v4h-1z" fill="#30f0f8"/><path d="M904 1547.7h1v3h-1zM904 1535.8h1v3h-1zM904 1523.8h1v3h-1zM904 1511.9h1v3h-1zM904 1499.9h1v3h-1zM904 1487.9h1v3h-1zM904 1475.9h1v3h-1zM904 1463.9h1v3h-1zM904 1451.9h1v3h-1zM904 1439.8h1v3h-1zM904 1427.8h1v3h-1zM904 1415.7h1v3h-1zM904 1403.6h1v3h-1zM904 1391.5h1v3h-1zM904 1379.4h1v3h-1zM904 1367.3h1v3h-1zM904 1355.2h1v3h-1zM904 1343.0h1v3h-1zM904 1330.9h1v3h-1zM904 1318.7h1v3h-1zM904 1306.5h1v3h-1zM904 1294.4h1v3h-1zM904 1282.1h1v3h-1zM904 1269.9h1v3h-1zM904 1257.7h1v3h-1zM904 1245.4h1v3h-1zM904 1233.2h1v3h-1zM904 1220.9h1v3h-1zM904 1208.6h1v3h-1zM904 1196.3h1v3h-1zM904 1184.0h1v3h-1zM904 1171.7h1v3h-1zM904 1159.4h1v3h-1zM904 1147.0h1v3h-1zM904 1134.6h1v3h-1zM904 1122.3h1v3h-1zM904 1109.9h1v3h-1zM904 1097.5h1v3h-1zM904 1085.1h1v3h-1zM904 1072.6h1v3h-1zM904 1060.2h1v3h-1zM904 1047.7h1v3h-1zM904 1035.3h1v3h-1zM904 1022.8h1v3h-1zM904 1010.3h1v3h-1zM904 997.8h1v3h-1zM904 985.2h1v3h-1zM904 972.7h1v3h-1zM904 960.2h1v3h-1zM904 947.6h1v3h-1zM904 935.0h1v3h-1zM904 922.4h1v3h-1zM904 909.8h1v3h-1zM904 897.2h1v3h-1zM904 884.6h1v3h-1zM904 871.9h1v3h-1zM904 859.3h1v3h-1zM904 846.6h1v3h-1zM904 833.9h1v3h-1zM904 821.2h1v3h-1zM904 808.5h1v3h-1zM904 795.8h1v3h-1zM904 783.0h1v3h-1zM904 770.3h1v3h-1zM904 757.5h1v3h-1zM904 744.7h1v3h-1zM904 731.9h1v3h-1zM904 719.1h1v3h-1zM904 706.3h1v3h-1zM904 693.5h1v3h-1zM904 680.6h1v3h-1zM904 667.8h1v3h-1zM904 654.9h1v3h-1zM904 642.0h1v3h-1zM904 629.1h1v3h-1zM904 616.2h1v3h-1zM904 603.2h1v3h-1zM904 590.3h1v3h-1zM904 577.3h1v3h-1zM904 564.4h1v3h-1zM904 551.4h1v3h-1zM904 538.4h1v3h-1zM904 525.3h1v3h-1zM904 512.3h1v3h-1zM904 499.3h1v3h-1zM904 486.2h1v3h-1zM904 473.1h1v3h-1zM904 460.1h1v3h-1zM904 447.0h1v3h-1zM904 433.9h1v3h-1zM904 420.7h1v3h-1zM904 407.6h1v3h-1zM904 394.4h1v3h-1zM904 381.3h1v3h-1zM904 368.1h1v3h-1zM904 354.9h1v3h-1zM904 341.7h1v3h-1zM904 328.4h1v3h-1zM904 315.2h1v3h-1zM904 302.0h1v3h-1zM904 288.7h1v3h-1zM904 275.4h1v3h-1zM904 262.1h1v3h-1zM904 248.8h1v3h-1zM904 235.5h1v3h-1zM904 222.1h1v3h-1zM904 208.8h1v3h-1zM904 195.4h1v3h-1zM904 182.0h1v3h-1zM904 168.6h1v3h-1zM904 155.2h1v3h-1zM904 141.8h1v3h-1zM904 128.4h1v3h-1zM904 114.9h1v3h-1z" fill="#10b8ff"/></g>
<rect x="50" y="114" width="901" height="1" fill="#000"/>
<rect x="50" y="1554" width="901" height="1" fill="#000"/>
<rect x="50" y="114" width="1" height="1441" fill="#808080"/>
<rect x="950" y="114" width="1" height="1441" fill="#808080"/>
<rect x="44" y="124" width="6" height="1" fill="#000"/>
<rect x="951" y="124" width="6" height="1" fill="#000"/>
<rect x="44" y="134" width="6" height="1" fill="#000"/>
<rect x="951" y="134" width="6" height="1" fill="#000"/>
<rect x="44" y="144" width="6" height="1" fill="#000"/>
<rect x="951" y="144" width="6" height="1" fill="#000"/>
<rect x="44" y="154" width="6" height="1" fill="#000"/>
<rect x="951" y="154" width="6" height="1" fill="#000"/>
<rect x="44" y="164" width="6" height="1" fill="#000"/>
<rect x="951" y="164" width="6" height="1" fill="#000"/>
<rect x="38" y="174" width="12" height="1" fill="#000"/>
<rect x="951" y="174" width="12" height="1" fill="#000"/>
<rect x="44" y="184" width="6" height="1" fill="#000"/>
<rect x="951" y="184" width="6" height="1" fill="#000"/>
<rect x="44" y="194" width="6" height="1" fill="#000"/>
<rect x="951" y="194" width="6" height="1" fill="#000"/>
<rect x="44" y="204" width="6" height="1" fill="#000"/>
<rect x="951" y="204" width="6" height="1" fill="#000"/>
<rect x="44" y="214" width="6" height="1" fill="#000"/>
<rect x="951" y="214" width="6" height="1" fill="#000"/>
<rect x="44" y="224" width="6" height="1" fill="#000"/>
<rect x="951" y="224" width="6" height="1" fill="#000"/>
<rect x="38" y="234" width="12" height="1" fill="#000"/>
<rect x="951" y="234" width="12" height="1" fill="#000"/>
<rect x="44" y="244" width="6" height="1" fill="#000"/>
<rect x="951" y="244" width="6" height="1" fill="#000"/>
<rect x="44" y="254" width="6" height="1" fill="#000"/>
<rect x="951" y="254" width="6" height="1" fill="#000"/>
<rect x="44" y="264" width="6" height="1" fill="#000"/>
<rect x="951" y="264" width="6" height="1" fill="#000"/>
<rect x="44" y="274" width="6" height="1" fill="#000"/>
<rect x="951" y="274" width="6" height="1" fill="#000"/>
<rect x="44" y="284" width="6" height="1" fill="#000"/>
<rect x="951" y="284" width="6" height="1" fill="#000"/>
<rect x="38" y="294" width="12" height="1" fill="#000"/>
<rect x="951" y="294" width="12" height="1" fill="#000"/>
<rect x="44" y="304" width="6" height="1" fill="#000"/>
<rect x="951" y="304" width="6" height="1" fill="#000"/>
<rect x="44" y="314" width="6" height="1" fill="#000"/>
<rect x="951" y="314" width="6" height="1" fill="#000"/>
<rect x="44" y="324" width="6" height="1" fill="#000"/>
<rect x="951" y="324" width="6" height="1" fill="#000"/>
<rect x="44" y="334" width="6" height="1" fill="#000"/>
<rect x="951" y="334" width="6" height="1" fill="#000"/>
<rect x="44" y="344" width="6" height="1" fill="#000"/>
<rect x="951" y="344" width="6" height="1" fill="#000"/>
<rect x="38" y="354" width="12" height="1" fill="#000"/>
<rect x="951" y="354" width="12" height="1" fill="#000"/>
<rect x="44" y="364" width="6" height="1" fill="#000"/>
<rect x="951" y="364" width="6" height="1" fill="#000"/>
<rect x="44" y="374" width="6" height="1" fill="#000"/>
<rect x="951" y="374" width="6" height="1" fill="#000"/>
<rect x="44" y="384" width="6" height="1" fill="#000"/>
<rect x="951" y="384" width="6" height="1" fill="#000"/>
<rect x="44" y="394" width="6" height="1" fill="#000"/>
<rect x="951" y="394" width="6" height="1" fill="#000"/>
<rect x="44" y="404" width="6" height="1" fill="#000"/>
<rect x="951" y="404" width="6" height="1" fill="#000"/>
<rect x="38" y="414" width="12" height="1" fill="#000"/>
<rect x="951" y="414" width="12" height="1" fill="#000"/>
<rect x="44" y="424" width="6" height="1" fill="#000"/>
<rect x="951" y="424" width="6" height="1" fill="#000"/>
<rect x="44" y="434" width="6" height="1" fill="#000"/>
<rect x="951" y="434" width="6" height="1" fill="#000"/>
<rect x="44" y="444" width="6" height="1" fill="#000"/>
<rect x="951" y="444" width="6" height="1" fill="#000"/>
<rect x="44" y="454" width="6" height="1" fill="#000"/>
<rect x="951" y="454" width="6" height="1" fill="#000"/>
<rect x="44" y="464" width="6" height="1" fill="#000"/>
<rect x="951" y="464" width="6" height="1" fill="#000"/>
<rect x="38" y="474" width="12" height="1" fill="#000"/>
<rect x="951" y="474" width="12" height="1" fill="#000"/>
<rect x="44" y="484" width="6" height="1" fill="#000"/>
<rect x="951" y="484" width="6" height="1" fill="#000"/>
<rect x="44" y="494" width="6" height="1" fill="#000"/>
<rect x="951" y="494" width="6" height="1" fill="#000"/>
<rect x="44" y="504" width="6" height="1" fill="#000"/>
<rect x="951" y="504" width="6" height="1" fill="#000"/>
<rect x="44" y="514" width="6" height="1" fill="#000"/>
<rect x="951" y="514" width="6" height="1" fill="#000"/>
<rect x="44" y="524" width="6" height="1" fill="#000"/>
<rect x="951" y="524" width="6" height="1" fill="#000"/>
<rect x="38" y="534" width="12" height="1" fill="#000"/>
<rect x="951" y="534" width="12" height="1" fill="#000"/>
<rect x="44" y="544" width="6" height="1" fill="#000"/>
<rect x="951" y="544" width="6" height="1" fill="#000"/>
<rect x="44" y="554" width="6" height="1" fill="#000"/>
<rect x="951" y="554" width="6" height="1" fill="#000"/>
<rect x="44" y="564" width="6" height="1" fill="#000"/>
<rect x="951" y="564" width="6" height="1" fill="#000"/>
<rect x="44" y="574" width="6" height="1" fill="#000"/>
<rect x="951" y="574" width="6" height="1" fill="#000"/>
<rect x="44" y="584" width="6" height="1" fill="#000"/>
<rect x="951" y="584" width="6" height="1" fill="#000"/>
<rect x="38" y="594" width="12" height="1" fill="#000"/>
<rect x="951" y="594" width="12" height="1" fill="#000"/>
<rect x="44" y="604" width="6" height="1" fill="#000"/>
<rect x="951" y="604" width="6" height="1" fill="#000"/>
<rect x="44" y="614" width="6" height="1" fill="#000"/>
<rect x="951" y="614" width="6" height="1" fill="#000"/>
<rect x="44" y="624" width="6" height="1" fill="#000"/>
<rect x="951" y="624" width="6" height="1" fill="#000"/>
<rect x="44" y="634" width="6" height="1" fill="#000"/>
<rect x="951" y="634" width="6" height="1" fill="#000"/>
<rect x="44" y="644" width="6" height="1" fill="#000"/>
<rect x="951" y="644" width="6" height="1" fill="#000"/>
<rect x="38" y="654" width="12" height="1" fill="#000"/>
<rect x="951" y="654" width="12" height="1" fill="#000"/>
<rect x="44" y="664" width="6" height="1" fill="#000"/>
<rect x="951" y="664" width="6" height="1" fill="#000"/>
<rect x="44" y="674" width="6" height="1" fill="#000"/>
<rect x="951" y="674" width="6" height="1" fill="#000"/>
<rect x="44" y="684" width="6" height="1" fill="#000"/>
<rect x="951" y="684" width="6" height="1" fill="#000"/>
<rect x="44" y="694" width="6" height="1" fill="#000"/>
<rect x="951" y="694" width="6" height="1" fill="#000"/>
<rect x="44" y="704" width="6" height="1" fill="#000"/>
<rect x="951" y="704" width="6" height="1" fill="#000"/>
<rect x="38" y="714" width="12" height="1" fill="#000"/>
<rect x="951" y="714" width="12" height="1" fill="#000"/>
<rect x="44" y="724" width="6" height="1" fill="#000"/>
<rect x="951" y="724" width="6" height="1" fill="#000"/>
<rect x="44" y="734" width="6" height="1" fill="#000"/>
<rect x="951" y="734" width="6" height="1" fill="#000"/>
<rect x="44" y="744" width="6" height="1" fill="#000"/>
<rect x="951" y="744" width="6" height="1" fill="#000"/>
<rect x="44" y="754" width="6" height="1" fill="#000"/>
<rect x="951" y="754" width="6" height="1" fill="#000"/>
<rect x="44" y="764" width="6" height="1" fill="#000"/>
<rect x="951" y="764" width="6" height="1" fill="#000"/>
<rect x="38" y="774" width="12" height="1" fill="#000"/>
<rect x="951" y="774" width="12" height="1" fill="#000"/>
<rect x="44" y="784" width="6" height="1" fill="#000"/>
<rect x="951" y="784" width="6" height="1" fill="#000"/>
<rect x="44" y="794" width="6" height="1" fill="#000"/>
<rect x="951" y="794" width="6" height="1" fill="#000"/>
<rect x="44" y="804" width="6" height="1" fill="#000"/>
<rect x="951" y="804" width="6" height="1" fill="#000"/>
<rect x="44" y="814" width="6" height="1" fill="#000"/>
<rect x="951" y="814" width="6" height="1" fill="#000"/>
<rect x="44" y="824" width="6" height="1" fill="#000"/>
<rect x="951" y="824" width="6" height="1" fill="#000"/>
<rect x="38" y="834" width="12" height="1" fill="#000"/>
<rect x="951" y="834" width="12" height="1" fill="#000"/>
<rect x="44" y="844" width="6" height="1" fill="#000"/>
<rect x="951" y="844" width="6" height="1" fill="#000"/>
<rect x="44" y="854" width="6" height="1" fill="#000"/>
<rect x="951" y="854" width="6" height="1" fill="#000"/>
<rect x="44" y="864" width="6" height="1" fill="#000"/>
<rect x="951" y="864" width="6" height="1" fill="#000"/>
<rect x="44" y="874" width="6" height="1" fill="#000"/>
<rect x="951" y="874" width="6" height="1" fill="#000"/>
<rect x="44" y="884" width="6" height="1" fill="#000"/>
<rect x="951" y="884" width="6" height="1" fill="#000"/>
<rect x="38" y="894" width="12" height="1" fill="#000"/>
<rect x="951" y="894" width="12" height="1" fill="#000"/>
<rect x="44" y="904" width="6" height="1" fill="#000"/>
<rect x="951" y="904" width="6" height="1" fill="#000"/>
<rect x="44" y="914" width="6" height="1" fill="#000"/>
<rect x="951" y="914" width="6" height="1" fill="#000"/>
<rect x="44" y="924" width="6" height="1" fill="#000"/>
<rect x="951" y="924" width="6" height="1" fill="#000"/>
<rect x="44" y="934" width="6" height="1" fill="#000"/>
<rect x="951" y="934" width="6" height="1" fill="#000"/>
<rect x="44" y="944" width="6" height="1" fill="#000"/>
<rect x="951" y="944" width="6" height="1" fill="#000"/>
<rect x="38" y="954" width="12" height="1" fill="#000"/>
<rect x="951" y="954" width="12" height="1" fill="#000"/>
<rect x="44" y="964" width="6" height="1" fill="#000"/>
<rect x="951" y="964" width="6" height="1" fill="#000"/>
<rect x="44" y="974" width="6" height="1" fill="#000"/>
<rect x="951" y="974" width="6" height="1" fill="#000"/>
<rect x="44" y="984" width="6" height="1" fill="#000"/>
<rect x="951" y="984" width="6" height="1" fill="#000"/>
<rect x="44" y="994" width="6" height="1" fill="#000"/>
<rect x="951" y="994" width="6" height="1" fill="#000"/>
<rect x="44" y="1004" width="6" height="1" fill="#000"/>
<rect x="951" y="1004" width="6" height="1" fill="#000"/>
<rect x="38" y="1014" width="12" height="1" fill="#000"/>
<rect x="951" y="1014" width="12" height="1" fill="#000"/>
<rect x="44" y="1024" width="6" height="1" fill="#000"/>
<rect x="951" y="1024" width="6" height="1" fill="#000"/>
<rect x="44" y="1034" width="6" height="1" fill="#000"/>
<rect x="951" y="1034" width="6" height="1" fill="#000"/>
<rect x="44" y="1044" width="6" height="1" fill="#000"/>
<rect x="951" y="1044" width="6" height="1" fill="#000"/>
<rect x="44" y="1054" width="6" height="1" fill="#000"/>
<rect x="951" y="1054" width="6" height="1" fill="#000"/>
<rect x="44" y="1064" width="6" height="1" fill="#000"/>
<rect x="951" y="1064" width="6" height="1" fill="#000"/>
<rect x="38" y="1074" width="12" height="1" fill="#000"/>
<rect x="951" y="1074" width="12" height="1" fill="#000"/>
<rect x="44" y="1084" width="6" height="1" fill="#000"/>
<rect x="951" y="1084" width="6" height="1" fill="#000"/>
<rect x="44" y="1094" width="6" height="1" fill="#000"/>
<rect x="951" y="1094" width="6" height="1" fill="#000"/>
<rect x="44" y="1104" width="6" height="1" fill="#000"/>
<rect x="951" y="1104" width="6" height="1" fill="#000"/>
<rect x="44" y="1114" width="6" height="1" fill="#000"/>
<rect x="951" y="1114" width="6" height="1" fill="#000"/>
<rect x="44" y="1124" width="6" height="1" fill="#000"/>
<rect x="951" y="1124" width="6" height="1" fill="#000"/>
<rect x="38" y="1134" width="12" height="1" fill="#000"/>
<rect x="951" y="1134" width="12" height="1" fill="#000"/>
<rect x="44" y="1144" width="6" height="1" fill="#000"/>
<rect x="951" y="1144" width="6" height="1" fill="#000"/>
<rect x="44" y="1154" width="6" height="1" fill="#000"/>
<rect x="951" y="1154" width="6" height="1" fill="#000"/>
<rect x="44" y="1164" width="6" height="1" fill="#000"/>
<rect x="951" y="1164" width="6" height="1" fill="#000"/>
<rect x="44" y="1174" width="6" height="1" fill="#000"/>
<rect x="951" y="1174" width="6" height="1" fill="#000"/>
<rect x="44" y="1184" width="6" height="1" fill="#000"/>
<rect x="951" y="1184" width="6" height="1" fill="#000"/>
<rect x="38" y="1194" width="12" height="1" fill="#000"/>
<rect x="951" y="1194" width="12" height="1" fill="#000"/>
<rect x="44" y="1204" width="6" height="1" fill="#000"/>
<rect x="951" y="1204" width="6" height="1" fill="#000"/>
<rect x="44" y="1214" width="6" height="1" fill="#000"/>
<rect x="951" y="1214" width="6" height="1" fill="#000"/>
<rect x="44" y="1224" width="6" height="1" fill="#000"/>
<rect x="951" y="1224" width="6" height="1" fill="#000"/>
<rect x="44" y="1234" width="6" height="1" fill="#000"/>
<rect x="951" y="1234" width="6" height="1" fill="#000"/>
<rect x="44" y="1244" width="6" height="1" fill="#000"/>
<rect x="951" y="1244" width="6" height="1" fill="#000"/>
<rect x="38" y="1254" width="12" height="1" fill="#000"/>
<rect x="951" y="1254" width="12" height="1" fill="#000"/>
<rect x="44" y="1264" width="6" height="1" fill="#000"/>
<rect x="951" y="1264" width="6" height="1" fill="#000"/>
<rect x="44" y="1274" width="6" height="1" fill="#000"/>
<rect x="951" y="1274" width="6" height="1" fill="#000"/>
<rect x="44" y="1284" width="6" height="1" fill="#000"/>
<rect x="951" y="1284" width="6" height="1" fill="#000"/>
<rect x="44" y="1294" width="6" height="1" fill="#000"/>
<rect x="951" y="1294" width="6" height="1" fill="#000"/>
<rect x="44" y="1304" width="6" height="1" fill="#000"/>
<rect x="951" y="1304" width="6" height="1" fill="#000"/>
<rect x="38" y="1314" width="12" height="1" fill="#000"/>
<rect x="951" y="1314" width="12" height="1" fill="#000"/>
<rect x="44" y="1324" width="6" height="1" fill="#000"/>
<rect x="951" y="1324" width="6" height="1" fill="#000"/>
<rect x="44" y="1334" width="6" height="1" fill="#000"/>
<rect x="951" y="1334" width="6" height="1" fill="#000"/>
<rect x="44" y="1344" width="6" height="1" fill="#000"/>
<rect x="951" y="1344" width="6" height="1" fill="#000"/>
<rect x="44" y="1354" width="6" height="1" fill="#000"/>
<rect x="951" y="1354" width="6" height="1" fill="#000"/>
<rect x="44" y="1364" width="6" height="1" fill="#000"/>
<rect x="951" y="1364" width="6" height="1" fill="#000"/>
<rect x="38" y="1374" width="12" height="1" fill="#000"/>
<rect x="951" y="1374" width="12" height="1" fill="#000"/>
<rect x="44" y="1384" width="6" height="1" fill="#000"/>
<rect x="951" y="1384" width="6" height="1" fill="#000"/>
<rect x="44" y="1394" width="6" height="1" fill="#000"/>
<rect x="951" y="1394" width="6" height="1" fill="#000"/>
<rect x="44" y="1404" width="6" height="1" fill="#000"/>
<rect x="951" y="1404" width="6" height="1" fill="#000"/>
<rect x="44" y="1414" width="6" height="1" fill="#000"/>
<rect x="951" y="1414" width="6" height="1" fill="#000"/>
<rect x="44" y="1424" width="6" height="1" fill="#000"/>
<rect x="951" y="1424" width="6" height="1" fill="#000"/>
<rect x="38" y="1434" width="12" height="1" fill="#000"/>
<rect x="951" y="1434" width="12" height="1" fill="#000"/>
<rect x="44" y="1444" width="6" height="1" fill="#000"/>
<rect x="951" y="1444" width="6" height="1" fill="#000"/>
<rect x="44" y="1454" width="6" height="1" fill="#000"/>
<rect x="951" y="1454" width="6" height="1" fill="#000"/>
<rect x="44" y="1464" width="6" height="1" fill="#000"/>
<rect x="951" y="1464" width="6" height="1" fill="#000"/>
<rect x="44" y="1474" width="6" height="1" fill="#000"/>
<rect x="951" y="1474" width="6" height="1" fill="#000"/>
<rect x="44" y="1484" width="6" height="1" fill="#000"/>
<rect x="951" y="1484" width="6" height="1" fill="#000"/>
<rect x="38" y="1494" width="12" height="1" fill="#000"/>
<rect x="951" y="1494" width="12" height="1" fill="#000"/>
<rect x="44" y="1504" width="6" height="1" fill="#000"/>
<rect x="951" y="1504" width="6" height="1" fill="#000"/>
<rect x="44" y="1514" width="6" height="1" fill="#000"/>
<rect x="951" y="1514" width="6" height="1" fill="#000"/>
<rect x="44" y="1524" width="6" height="1" fill="#000"/>
<rect x="951" y="1524" width="6" height="1" fill="#000"/>
<rect x="44" y="1534" width="6" height="1" fill="#000"/>
<rect x="951" y="1534" width="6" height="1" fill="#000"/>
<rect x="44" y="1544" width="6" height="1" fill="#000"/>
<rect x="951" y="1544" width="6" height="1" fill="#000"/>
<rect x="38" y="1554" width="12" height="1" fill="#000"/>
<rect x="951" y="1554" width="12" height="1" fill="#000"/>
<rect x="100" y="114" width="1" height="1441" fill="#808080"/>
<rect x="135" y="114" width="1" height="1441" fill="#808080"/>
<rect x="163" y="114" width="1" height="1441" fill="#808080"/>
<rect x="185" y="114" width="1" height="1441" fill="#808080"/>
<rect x="204" y="114" width="1" height="1441" fill="#808080"/>
<rect x="221" y="114" width="1" height="1441" fill="#808080"/>
<rect x="235" y="114" width="1" height="1441" fill="#808080"/>
<rect x="333" y="114" width="1" height="1441" fill="#808080"/>
<rect x="383" y="114" width="1" height="1441" fill="#808080"/>
<rect x="419" y="114" width="1" height="1441" fill="#808080"/>
<rect x="446" y="114" width="1" height="1441" fill="#808080"/>
<rect x="468" y="114" width="1" height="1441" fill="#808080"/>
<rect x="487" y="114" width="1" height="1441" fill="#808080"/>
<rect x="504" y="114" width="1" height="1441" fill="#808080"/>
<rect x="518" y="114" width="1" height="1441" fill="#808080"/>
<rect x="617" y="114" width="1" height="1441" fill="#808080"/>
<rect x="667" y="114" width="1" height="1441" fill="#808080"/>
<rect x="702" y="114" width="1" height="1441" fill="#808080"/>
<rect x="729" y="114" width="1" height="1441" fill="#808080"/>
<rect x="752" y="114" width="1" height="1441" fill="#808080"/>
<rect x="771" y="114" width="1" height="1441" fill="#808080"/>
<rect x="787" y="114" width="1" height="1441" fill="#808080"/>
<rect x="802" y="114" width="1" height="1441" fill="#808080"/>
<rect x="900" y="114" width="1" height="1441" fill="#808080"/>
<rect x="248" y="115" width="1" height="1450" fill="#000"/>
<rect x="531" y="115" width="1" height="1450" fill="#000"/>
<rect x="815" y="115" width="1" height="1450" fill="#000"/>
<rect x="1058" y="115" width="1" height="1440" fill="#000"/><rect x="1057" y="756" width="1" height="1" fill="#000"/><rect x="1055" y="991" width="7" height="1" fill="#000"/><rect x="1057" y="989" width="3" height="2" fill="#000"/><rect x="1055" y="1003" width="7" height="1" fill="#000"/><rect x="1057" y="1001" width="1" height="1" fill="#000"/><rect x="1058" y="1004" width="1" height="1" fill="#000"/><rect x="1057" y="1007" width="3" height="1" fill="#000"/><rect x="1059" y="1012" width="1" height="1" fill="#000"/><rect x="1057" y="1028" width="3" height="1" fill="#000"/><rect x="1057" y="1063" width="3" height="1" fill="#000"/><rect x="1059" y="1146" width="1" height="1" fill="#000"/><path d="M2.5,1622.5 L4,1624.5 L5,1621 L5.5,1622.5 L7,1622.5 L7,1621 M7,1622.5 L7,1624.5 L8.5,1624.5" fill="none" stroke="#000" stroke-width="0.9" shape-rendering="auto"/>
<g shape-rendering="auto"><g transform="translate(0,42) skewX(-12)"><text x="22" y="0.6" font-family="Liberation Sans" font-style="italic" font-size="15.5" fill="#3aa6fa" textLength="45" lengthAdjust="spacingAndGlyphs">OPGC</text>
<text x="23.2" y="-0.4" font-family="Liberation Sans" font-style="italic" font-size="15.5" fill="#1616b8" textLength="45" lengthAdjust="spacingAndGlyphs">OPGC</text></g>
<g fill="none">
<path d="M2,39 L12,38.5 L16,37 L20,34 L26,27 L32,20 L38,16 L44,13.5 L49,11 L53,9" stroke="#3a8a2a" stroke-width="0.9"/>
<path d="M54,8.5 C57,8.5 59,11 61,16 C63,22 64,28 66,33 C68,37 71,38.5 76,38.5 L80,38.5" stroke="#2e7d22" stroke-width="1.8"/>
<path d="M80,38.5 L86,37 L92,31.5" stroke="#5a9a3a" stroke-width="0.8"/>
<path d="M55.5,2 L55.5,7" stroke="#6a9a5a" stroke-width="0.7"/>
<path d="M2,39 L11,38.5" stroke="#2e7d22" stroke-width="1.6"/>
</g></g>
<g fill="#000"><defs><path id="f_lp" d="M3 0h2v1h-2zM2 1h2v1h-2zM2 2h2v1h-2zM1 3h2v1h-2zM1 4h2v1h-2zM1 5h2v1h-2zM2 6h2v1h-2zM2 7h2v1h-2zM3 8h2v1h-2z"/><path id="f_rp" d="M1 0h2v1h-2zM2 1h2v1h-2zM2 2h2v1h-2zM3 3h2v1h-2zM3 4h2v1h-2zM3 5h2v1h-2zM2 6h2v1h-2zM2 7h2v1h-2zM1 8h2v1h-2z"/><path id="f_com" d="M2 6h3v1h-3zM2 7h3v1h-3zM2 8h2v1h-2zM1 9h2v1h-2z"/><path id="f_dot" d="M2 7h2v1h-2zM1 8h4v1h-4zM2 9h2v1h-2z"/><path id="f_0" d="M2 0h2v1h-2zM1 1h1v1h-1zM4 1h1v1h-1zM0 2h2v1h-2zM4 2h2v1h-2zM0 3h2v1h-2zM4 3h2v1h-2zM0 4h2v1h-2zM4 4h2v1h-2zM0 5h2v1h-2zM4 5h2v1h-2zM0 6h2v1h-2zM4 6h2v1h-2zM1 7h1v1h-1zM4 7h1v1h-1zM2 8h2v1h-2z"/><path id="f_1" d="M2 0h2v1h-2zM1 1h3v1h-3zM0 2h1v1h-1zM2 2h2v1h-2zM2 3h2v1h-2zM2 4h2v1h-2zM2 5h2v1h-2zM2 6h2v1h-2zM2 7h2v1h-2zM0 8h6v1h-6z"/><path id="f_2" d="M1 0h4v1h-4zM0 1h2v1h-2zM4 1h2v1h-2zM0 2h2v1h-2zM4 2h2v1h-2zM4 3h2v1h-2zM2 4h3v1h-3zM1 5h2v1h-2zM0 6h2v1h-2zM0 7h2v1h-2zM0 8h6v1h-6z"/><path id="f_3" d="M1 0h4v1h-4zM0 1h2v1h-2zM4 1h2v1h-2zM4 2h2v1h-2zM4 3h2v1h-2zM2 4h3v1h-3zM4 5h2v1h-2zM4 6h2v1h-2zM0 7h2v1h-2zM4 7h2v1h-2zM1 8h4v1h-4z"/><path id="f_4" d="M4 0h2v1h-2zM3 1h3v1h-3zM2 2h4v1h-4zM1 3h2v1h-2zM4 3h2v1h-2zM0 4h2v1h-2zM4 4h2v1h-2zM0 5h2v1h-2zM4 5h2v1h-2zM0 6h6v1h-6zM4 7h2v1h-2zM4 8h2v1h-2z"/><path id="f_5" d="M0 0h6v1h-6zM0 1h2v1h-2zM0 2h2v1h-2zM0 3h5v1h-5zM0 4h2v1h-2zM4 4h2v1h-2zM4 5h2v1h-2zM4 6h2v1h-2zM0 7h2v1h-2zM4 7h2v1h-2zM1 8h4v1h-4z"/><path id="f_6" d="M1 0h4v1h-4zM0 1h2v1h-2zM4 1h2v1h-2zM0 2h2v1h-2zM0 3h2v1h-2zM0 4h5v1h-5zM0 5h2v1h-2zM4 5h2v1h-2zM0 6h2v1h-2zM4 6h2v1h-2zM0 7h2v1h-2zM4 7h2v1h-2zM1 8h4v1h-4z"/><path id="f_7" d="M0 0h6v1h-6zM4 1h2v1h-2zM4 2h2v1h-2zM3 3h2v1h-2zM3 4h2v1h-2zM2 5h2v1h-2zM2 6h2v1h-2zM1 7h2v1h-2zM1 8h2v1h-2z"/><path id="f_8" d="M1 0h4v1h-4zM0 1h2v1h-2zM4 1h2v1h-2zM0 2h2v1h-2zM4 2h2v1h-2zM0 3h2v1h-2zM4 3h2v1h-2zM1 4h4v1h-4zM0 5h2v1h-2zM4 5h2v1h-2zM0 6h2v1h-2zM4 6h2v1h-2zM0 7h2v1h-2zM4 7h2v1h-2zM1 8h4v1h-4z"/><path id="f_9" d="M1 0h4v1h-4zM0 1h2v1h-2zM4 1h2v1h-2zM0 2h2v1h-2zM4 2h2v1h-2zM0 3h2v1h-2zM4 3h2v1h-2zM1 4h5v1h-5zM4 5h2v1h-2zM4 6h2v1h-2zM0 7h2v1h-2zM4 7h2v1h-2zM1 8h4v1h-4z"/><path id="f_col" d="M2 2h2v1h-2zM1 3h4v1h-4zM2 4h2v1h-2zM2 7h2v1h-2zM1 8h4v1h-4zM2 9h2v1h-2z"/><path id="f_A" d="M1 0h4v1h-4zM0 1h2v1h-2zM4 1h2v1h-2zM0 2h2v1h-2zM4 2h2v1h-2zM0 3h2v1h-2zM4 3h2v1h-2zM0 4h6v1h-6zM0 5h2v1h-2zM4 5h2v1h-2zM0 6h2v1h-2zM4 6h2v1h-2zM0 7h2v1h-2zM4 7h2v1h-2zM0 8h2v1h-2zM4 8h2v1h-2z"/><path id="f_C" d="M1 0h4v1h-4zM0 1h2v1h-2zM4 1h2v1h-2zM0 2h2v1h-2zM0 3h2v1h-2zM0 4h2v1h-2zM0 5h2v1h-2zM0 6h2v1h-2zM0 7h2v1h-2zM4 7h2v1h-2zM1 8h4v1h-4z"/><path id="f_E" d="M0 0h6v1h-6zM0 1h2v1h-2zM0 2h2v1h-2zM0 3h2v1h-2zM0 4h5v1h-5zM0 5h2v1h-2zM0 6h2v1h-2zM0 7h2v1h-2zM0 8h6v1h-6z"/><path id="f_F" d="M0 0h6v1h-6zM0 1h2v1h-2zM0 2h2v1h-2zM0 3h2v1h-2zM0 4h5v1h-5zM0 5h2v1h-2zM0 6h2v1h-2zM0 7h2v1h-2zM0 8h2v1h-2z"/><path id="f_G" d="M1 0h4v1h-4zM0 1h2v1h-2zM4 1h2v1h-2zM0 2h2v1h-2zM0 3h2v1h-2zM0 4h2v1h-2zM3 4h3v1h-3zM0 5h2v1h-2zM4 5h2v1h-2zM0 6h2v1h-2zM4 6h2v1h-2zM0 7h2v1h-2zM4 7h2v1h-2zM1 8h5v1h-5z"/><path id="f_H" d="M0 0h2v1h-2zM4 0h2v1h-2zM0 1h2v1h-2zM4 1h2v1h-2zM0 2h2v1h-2zM4 2h2v1h-2zM0 3h2v1h-2zM4 3h2v1h-2zM0 4h6v1h-6zM0 5h2v1h-2zM4 5h2v1h-2zM0 6h2v1h-2zM4 6h2v1h-2zM0 7h2v1h-2zM4 7h2v1h-2zM0 8h2v1h-2zM4 8h2v1h-2z"/><path id="f_L" d="M0 0h2v1h-2zM0 1h2v1h-2zM0 2h2v1h-2zM0 3h2v1h-2zM0 4h2v1h-2zM0 5h2v1h-2zM0 6h2v1h-2zM0 7h2v1h-2zM0 8h6v1h-6z"/><path id="f_M" d="M0 0h1v1h-1zM5 0h1v1h-1zM0 1h2v1h-2zM4 1h2v1h-2zM0 2h6v1h-6zM0 3h6v1h-6zM0 4h2v1h-2zM4 4h2v1h-2zM0 5h2v1h-2zM4 5h2v1h-2zM0 6h2v1h-2zM4 6h2v1h-2zM0 7h2v1h-2zM4 7h2v1h-2zM0 8h2v1h-2zM4 8h2v1h-2z"/><path id="f_N" d="M0 0h2v1h-2zM4 0h2v1h-2zM0 1h2v1h-2zM4 1h2v1h-2zM0 2h3v1h-3zM4 2h2v1h-2zM0 3h3v1h-3zM4 3h2v1h-2zM0 4h2v1h-2zM3 4h3v1h-3zM0 5h2v1h-2zM3 5h3v1h-3zM0 6h2v1h-2zM4 6h2v1h-2zM0 7h2v1h-2zM4 7h2v1h-2zM0 8h2v1h-2zM4 8h2v1h-2z"/><path id="f_O" d="M1 0h4v1h-4zM0 1h2v1h-2zM4 1h2v1h-2zM0 2h2v1h-2zM4 2h2v1h-2zM0 3h2v1h-2zM4 3h2v1h-2zM0 4h2v1h-2zM4 4h2v1h-2zM0 5h2v1h-2zM4 5h2v1h-2zM0 6h2v1h-2zM4 6h2v1h-2zM0 7h2v1h-2zM4 7h2v1h-2zM1 8h4v1h-4z"/><path id="f_Q" d="M1 0h4v1h-4zM0 1h2v1h-2zM4 1h2v1h-2zM0 2h2v1h-2zM4 2h2v1h-2zM0 3h2v1h-2zM4 3h2v1h-2zM0 4h2v1h-2zM4 4h2v1h-2zM0 5h2v1h-2zM4 5h2v1h-2zM0 6h2v1h-2zM3 6h3v1h-3zM0 7h2v1h-2zM4 7h2v1h-2zM1 8h4v1h-4zM4 9h2v1h-2z"/><path id="f_R" d="M0 0h5v1h-5zM0 1h2v1h-2zM4 1h2v1h-2zM0 2h2v1h-2zM4 2h2v1h-2zM0 3h2v1h-2zM4 3h2v1h-2zM0 4h5v1h-5zM0 5h2v1h-2zM3 5h2v1h-2zM0 6h2v1h-2zM3 6h2v1h-2zM0 7h2v1h-2zM4 7h2v1h-2zM0 8h2v1h-2zM4 8h2v1h-2z"/><path id="f_T" d="M0 0h6v1h-6zM2 1h2v1h-2zM2 2h2v1h-2zM2 3h2v1h-2zM2 4h2v1h-2zM2 5h2v1h-2zM2 6h2v1h-2zM2 7h2v1h-2zM2 8h2v1h-2z"/><path id="f_U" d="M0 0h2v1h-2zM4 0h2v1h-2zM0 1h2v1h-2zM4 1h2v1h-2zM0 2h2v1h-2zM4 2h2v1h-2zM0 3h2v1h-2zM4 3h2v1h-2zM0 4h2v1h-2zM4 4h2v1h-2zM0 5h2v1h-2zM4 5h2v1h-2zM0 6h2v1h-2zM4 6h2v1h-2zM0 7h2v1h-2zM4 7h2v1h-2zM1 8h4v1h-4z"/><path id="f_Y" d="M0 0h2v1h-2zM4 0h2v1h-2zM0 1h2v1h-2zM4 1h2v1h-2zM1 2h4v1h-4zM2 3h2v1h-2zM2 4h2v1h-2zM2 5h2v1h-2zM2 6h2v1h-2zM2 7h2v1h-2zM2 8h2v1h-2z"/><path id="f_Z" d="M0 0h6v1h-6zM4 1h2v1h-2zM4 2h2v1h-2zM3 3h2v1h-2zM2 4h2v1h-2zM1 5h2v1h-2zM0 6h2v1h-2zM0 7h2v1h-2zM0 8h6v1h-6z"/><path id="f_p" d="M0 3h5v1h-5zM0 4h2v1h-2zM4 4h2v1h-2zM0 5h2v1h-2zM4 5h2v1h-2zM0 6h2v1h-2zM4 6h2v1h-2zM0 7h5v1h-5zM0 8h2v1h-2zM0 9h2v1h-2zM0 10h2v1h-2z"/><path id="f_r" d="M0 3h5v1h-5zM0 4h2v1h-2zM4 4h2v1h-2zM0 5h2v1h-2zM0 6h2v1h-2zM0 7h2v1h-2zM0 8h2v1h-2z"/></defs>
<use href="#f_0" x="0" y="1550"/><use href="#f_0" x="7" y="1550"/><use href="#f_col" x="14" y="1550"/><use href="#f_0" x="21" y="1550"/><use href="#f_0" x="28" y="1550"/>
<use href="#f_0" x="965" y="1550"/><use href="#f_0" x="972" y="1550"/><use href="#f_col" x="979" y="1550"/><use href="#f_0" x="986" y="1550"/><use href="#f_0" x="993" y="1550"/>
<use href="#f_0" x="0" y="1490"/><use href="#f_1" x="7" y="1490"/><use href="#f_col" x="14" y="1490"/><use href="#f_0" x="21" y="1490"/><use href="#f_0" x="28" y="1490"/>
<use href="#f_0" x="965" y="1490"/><use href="#f_1" x="972" y="1490"/><use href="#f_col" x="979" y="1490"/><use href="#f_0" x="986" y="1490"/><use href="#f_0" x="993" y="1490"/>
<use href="#f_0" x="0" y="1430"/><use href="#f_2" x="7" y="1430"/><use href="#f_col" x="14" y="1430"/><use href="#f_0" x="21" y="1430"/><use href="#f_0" x="28" y="1430"/>
<use href="#f_0" x="965" y="1430"/><use href="#f_2" x="972" y="1430"/><use href="#f_col" x="979" y="1430"/><use href="#f_0" x="986" y="1430"/><use href="#f_0" x="993" y="1430"/>
<use href="#f_0" x="0" y="1370"/><use href="#f_3" x="7" y="1370"/><use href="#f_col" x="14" y="1370"/><use href="#f_0" x="21" y="1370"/><use href="#f_0" x="28" y="1370"/>
<use href="#f_0" x="965" y="1370"/><use href="#f_3" x="972" y="1370"/><use href="#f_col" x="979" y="1370"/><use href="#f_0" x="986" y="1370"/><use href="#f_0" x="993" y="1370"/>
<use href="#f_0" x="0" y="1310"/><use href="#f_4" x="7" y="1310"/><use href="#f_col" x="14" y="1310"/><use href="#f_0" x="21" y="1310"/><use href="#f_0" x="28" y="1310"/>
<use href="#f_0" x="965" y="1310"/><use href="#f_4" x="972" y="1310"/><use href="#f_col" x="979" y="1310"/><use href="#f_0" x="986" y="1310"/><use href="#f_0" x="993" y="1310"/>
<use href="#f_0" x="0" y="1250"/><use href="#f_5" x="7" y="1250"/><use href="#f_col" x="14" y="1250"/><use href="#f_0" x="21" y="1250"/><use href="#f_0" x="28" y="1250"/>
<use href="#f_0" x="965" y="1250"/><use href="#f_5" x="972" y="1250"/><use href="#f_col" x="979" y="1250"/><use href="#f_0" x="986" y="1250"/><use href="#f_0" x="993" y="1250"/>
<use href="#f_0" x="0" y="1190"/><use href="#f_6" x="7" y="1190"/><use href="#f_col" x="14" y="1190"/><use href="#f_0" x="21" y="1190"/><use href="#f_0" x="28" y="1190"/>
<use href="#f_0" x="965" y="1190"/><use href="#f_6" x="972" y="1190"/><use href="#f_col" x="979" y="1190"/><use href="#f_0" x="986" y="1190"/><use href="#f_0" x="993" y="1190"/>
<use href="#f_0" x="0" y="1130"/><use href="#f_7" x="7" y="1130"/><use href="#f_col" x="14" y="1130"/><use href="#f_0" x="21" y="1130"/><use href="#f_0" x="28" y="1130"/>
<use href="#f_0" x="965" y="1130"/><use href="#f_7" x="972" y="1130"/><use href="#f_col" x="979" y="1130"/><use href="#f_0" x="986" y="1130"/><use href="#f_0" x="993" y="1130"/>
<use href="#f_0" x="0" y="1070"/><use href="#f_8" x="7" y="1070"/><use href="#f_col" x="14" y="1070"/><use href="#f_0" x="21" y="1070"/><use href="#f_0" x="28" y="1070"/>
<use href="#f_0" x="965" y="1070"/><use href="#f_8" x="972" y="1070"/><use href="#f_col" x="979" y="1070"/><use href="#f_0" x="986" y="1070"/><use href="#f_0" x="993" y="1070"/>
<use href="#f_0" x="0" y="1010"/><use href="#f_9" x="7" y="1010"/><use href="#f_col" x="14" y="1010"/><use href="#f_0" x="21" y="1010"/><use href="#f_0" x="28" y="1010"/>
<use href="#f_0" x="965" y="1010"/><use href="#f_9" x="972" y="1010"/><use href="#f_col" x="979" y="1010"/><use href="#f_0" x="986" y="1010"/><use href="#f_0" x="993" y="1010"/>
<use href="#f_1" x="0" y="950"/><use href="#f_0" x="7" y="950"/><use href="#f_col" x="14" y="950"/><use href="#f_0" x="21" y="950"/><use href="#f_0" x="28" y="950"/>
<use href="#f_1" x="965" y="950"/><use href="#f_0" x="972" y="950"/><use href="#f_col" x="979" y="950"/><use href="#f_0" x="986" y="950"/><use href="#f_0" x="993" y="950"/>
<use href="#f_1" x="0" y="890"/><use href="#f_1" x="7" y="890"/><use href="#f_col" x="14" y="890"/><use href="#f_0" x="21" y="890"/><use href="#f_0" x="28" y="890"/>
<use href="#f_1" x="965" y="890"/><use href="#f_1" x="972" y="890"/><use href="#f_col" x="979" y="890"/><use href="#f_0" x="986" y="890"/><use href="#f_0" x="993" y="890"/>
<use href="#f_1" x="0" y="830"/><use href="#f_2" x="7" y="830"/><use href="#f_col" x="14" y="830"/><use href="#f_0" x="21" y="830"/><use href="#f_0" x="28" y="830"/>
<use href="#f_1" x="965" y="830"/><use href="#f_2" x="972" y="830"/><use href="#f_col" x="979" y="830"/><use href="#f_0" x="986" y="830"/><use href="#f_0" x="993" y="830"/>
<use href="#f_1" x="0" y="770"/><use href="#f_3" x="7" y="770"/><use href="#f_col" x="14" y="770"/><use href="#f_0" x="21" y="770"/><use href="#f_0" x="28" y="770"/>
<use href="#f_1" x="965" y="770"/><use href="#f_3" x="972" y="770"/><use href="#f_col" x="979" y="770"/><use href="#f_0" x="986" y="770"/><use href="#f_0" x="993" y="770"/>
<use href="#f_1" x="0" y="710"/><use href="#f_4" x="7" y="710"/><use href="#f_col" x="14" y="710"/><use href="#f_0" x="21" y="710"/><use href="#f_0" x="28" y="710"/>
<use href="#f_1" x="965" y="710"/><use href="#f_4" x="972" y="710"/><use href="#f_col" x="979" y="710"/><use href="#f_0" x="986" y="710"/><use href="#f_0" x="993" y="710"/>
<use href="#f_1" x="0" y="650"/><use href="#f_5" x="7" y="650"/><use href="#f_col" x="14" y="650"/><use href="#f_0" x="21" y="650"/><use href="#f_0" x="28" y="650"/>
<use href="#f_1" x="965" y="650"/><use href="#f_5" x="972" y="650"/><use href="#f_col" x="979" y="650"/><use href="#f_0" x="986" y="650"/><use href="#f_0" x="993" y="650"/>
<use href="#f_1" x="0" y="590"/><use href="#f_6" x="7" y="590"/><use href="#f_col" x="14" y="590"/><use href="#f_0" x="21" y="590"/><use href="#f_0" x="28" y="590"/>
<use href="#f_1" x="965" y="590"/><use href="#f_6" x="972" y="590"/><use href="#f_col" x="979" y="590"/><use href="#f_0" x="986" y="590"/><use href="#f_0" x="993" y="590"/>
<use href="#f_1" x="0" y="530"/><use href="#f_7" x="7" y="530"/><use href="#f_col" x="14" y="530"/><use href="#f_0" x="21" y="530"/><use href="#f_0" x="28" y="530"/>
<use href="#f_1" x="965" y="530"/><use href="#f_7" x="972" y="530"/><use href="#f_col" x="979" y="530"/><use href="#f_0" x="986" y="530"/><use href="#f_0" x="993" y="530"/>
<use href="#f_1" x="0" y="470"/><use href="#f_8" x="7" y="470"/><use href="#f_col" x="14" y="470"/><use href="#f_0" x="21" y="470"/><use href="#f_0" x="28" y="470"/>
<use href="#f_1" x="965" y="470"/><use href="#f_8" x="972" y="470"/><use href="#f_col" x="979" y="470"/><use href="#f_0" x="986" y="470"/><use href="#f_0" x="993" y="470"/>
<use href="#f_1" x="0" y="410"/><use href="#f_9" x="7" y="410"/><use href="#f_col" x="14" y="410"/><use href="#f_0" x="21" y="410"/><use href="#f_0" x="28" y="410"/>
<use href="#f_1" x="965" y="410"/><use href="#f_9" x="972" y="410"/><use href="#f_col" x="979" y="410"/><use href="#f_0" x="986" y="410"/><use href="#f_0" x="993" y="410"/>
<use href="#f_2" x="0" y="350"/><use href="#f_0" x="7" y="350"/><use href="#f_col" x="14" y="350"/><use href="#f_0" x="21" y="350"/><use href="#f_0" x="28" y="350"/>
<use href="#f_2" x="965" y="350"/><use href="#f_0" x="972" y="350"/><use href="#f_col" x="979" y="350"/><use href="#f_0" x="986" y="350"/><use href="#f_0" x="993" y="350"/>
<use href="#f_2" x="0" y="290"/><use href="#f_1" x="7" y="290"/><use href="#f_col" x="14" y="290"/><use href="#f_0" x="21" y="290"/><use href="#f_0" x="28" y="290"/>
<use href="#f_2" x="965" y="290"/><use href="#f_1" x="972" y="290"/><use href="#f_col" x="979" y="290"/><use href="#f_0" x="986" y="290"/><use href="#f_0" x="993" y="290"/>
<use href="#f_2" x="0" y="230"/><use href="#f_2" x="7" y="230"/><use href="#f_col" x="14" y="230"/><use href="#f_0" x="21" y="230"/><use href="#f_0" x="28" y="230"/>
<use href="#f_2" x="965" y="230"/><use href="#f_2" x="972" y="230"/><use href="#f_col" x="979" y="230"/><use href="#f_0" x="986" y="230"/><use href="#f_0" x="993" y="230"/>
<use href="#f_2" x="0" y="170"/><use href="#f_3" x="7" y="170"/><use href="#f_col" x="14" y="170"/><use href="#f_0" x="21" y="170"/><use href="#f_0" x="28" y="170"/>
<use href="#f_2" x="965" y="170"/><use href="#f_3" x="972" y="170"/><use href="#f_col" x="979" y="170"/><use href="#f_0" x="986" y="170"/><use href="#f_0" x="993" y="170"/>
<use href="#f_U" x="14" y="72"/><use href="#f_T" x="21" y="72"/><use href="#f_C" x="28" y="72"/>
<use href="#f_A" x="50" y="72"/><use href="#f_p" x="57" y="72"/><use href="#f_r" x="64" y="72"/><use href="#f_2" x="71" y="72"/><use href="#f_5" x="78" y="72"/><use href="#f_com" x="85" y="72"/><use href="#f_2" x="92" y="72"/><use href="#f_0" x="99" y="72"/><use href="#f_2" x="106" y="72"/><use href="#f_6" x="113" y="72"/>
<use href="#f_O" x="455" y="72"/><use href="#f_C" x="462" y="72"/><use href="#f_M" x="469" y="72"/><use href="#f_N" x="476" y="72"/><use href="#f_H" x="490" y="72"/><use href="#f_N" x="497" y="72"/><use href="#f_Z" x="504" y="72"/><use href="#f_R" x="518" y="72"/><use href="#f_A" x="525" y="72"/><use href="#f_0" x="539" y="72"/><use href="#f_0" x="546" y="72"/>
<use href="#f_U" x="953" y="72"/><use href="#f_T" x="960" y="72"/><use href="#f_C" x="967" y="72"/>
<use href="#f_0" x="239" y="1566"/><use href="#f_dot" x="246" y="1566"/><use href="#f_1" x="253" y="1566"/>
<use href="#f_1" x="528" y="1566"/>
<use href="#f_1" x="808" y="1566"/><use href="#f_0" x="815" y="1566"/>
<use href="#f_lp" x="442" y="1577"/><use href="#f_L" x="449" y="1577"/><use href="#f_O" x="456" y="1577"/><use href="#f_G" x="463" y="1577"/><use href="#f_rp" x="470" y="1577"/><use href="#f_F" x="484" y="1577"/><use href="#f_R" x="491" y="1577"/><use href="#f_E" x="498" y="1577"/><use href="#f_Q" x="505" y="1577"/><use href="#f_U" x="512" y="1577"/><use href="#f_E" x="519" y="1577"/><use href="#f_N" x="526" y="1577"/><use href="#f_C" x="533" y="1577"/><use href="#f_Y" x="540" y="1577"/><use href="#f_lp" x="554" y="1577"/><use href="#f_H" x="561" y="1577"/><use href="#f_Z" x="568" y="1577"/><use href="#f_rp" x="575" y="1577"/></g>
</svg>
</body></html>
